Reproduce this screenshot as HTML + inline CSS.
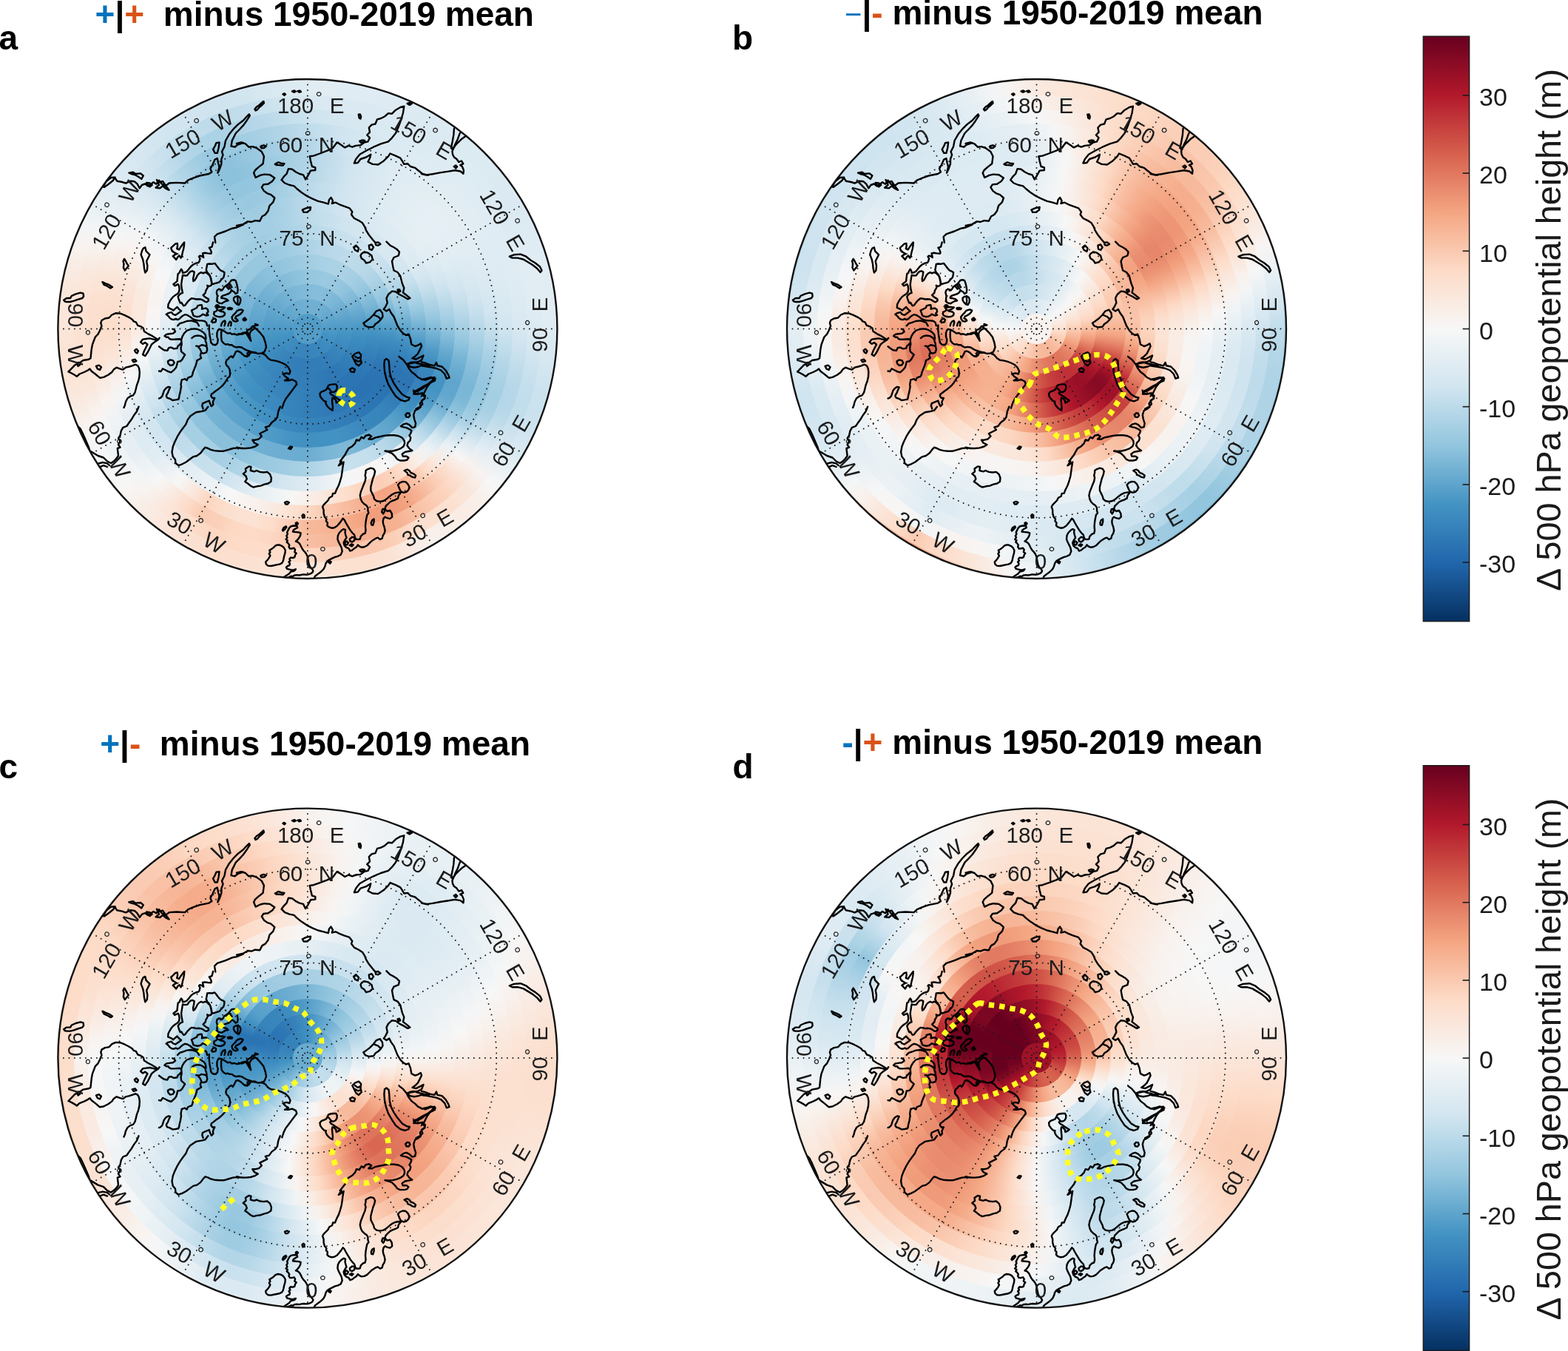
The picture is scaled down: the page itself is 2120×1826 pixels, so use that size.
<!DOCTYPE html>
<html lang="en"><head><meta charset="utf-8"><title>500 hPa geopotential height composites</title>
<style>
html,body{margin:0;padding:0;background:#fff}
#fig{position:relative;width:2120px;height:1826px;overflow:hidden;background:#fff;font-family:"Liberation Sans",sans-serif}
.map{position:absolute;width:0;height:0}
.rg{position:absolute;left:0;top:0;border-radius:50%}
#ov{position:absolute;left:0;top:0}
text{font-family:"Liberation Sans",sans-serif}
.lb{font-size:29.6px;fill:#1c1c1c}
.dg{font-size:24.6px;fill:#1c1c1c}
.gl{fill:none;stroke:#1a1a1a;stroke-width:2;stroke-linecap:round;stroke-dasharray:0 7.5}
.cst{fill:none;stroke:#000;stroke-width:2.4;stroke-linejoin:round;stroke-linecap:round}
.yl{fill:none;stroke:#ffff1f;stroke-width:7.4;stroke-dasharray:7.4 7}
.tt{font-size:46px;font-weight:bold;fill:#000}
.pn{font-size:46px;font-weight:bold;fill:#000}
.tk{font-size:34px;fill:#1a1a1a}
.cl{font-size:46.7px;fill:#1a1a1a}
</style></head><body>
<div id="fig">

<div class="map" style="left:415.9px;top:444.5px">
<div class="rg" style="width:675.0px;height:675.0px;margin:-337.5px;background:conic-gradient(#e4eef3,#e4eef4,#e3eef3,#e1edf3,#dfecf3,#ddebf2,#dceaf2,#dceaf2,#dceaf2,#dceaf2,#dbeaf2,#dbeaf2,#dbeaf2,#ddebf2,#e0ecf3,#e2edf3,#e3edf3,#e2edf3,#e0ecf3,#dae9f2,#d5e7f1,#d0e4f0,#cee3ef,#d2e6f0,#dae9f2,#e6eff4,#f3f5f6,#f8f3f1,#f8f2ef,#f7f5f4,#f7f7f7,#f8f1ed,#faebe3,#fae9de,#fae8de,#faebe2,#f9eee7,#f9ebe3,#fae8dd,#fbe5d7,#fbe2d3,#fbe2d4,#fbe5d8,#fae7db,#faebe2,#f8f0ec,#f7f5f4,#f5f6f7,#f6f7f7,#f8f3f0,#f9ede5,#fae7db,#fbe4d7,#fbe4d7,#fbe6da,#fae7db,#fae9df,#f9ede6,#f8f4f1,#f1f4f6,#e7f0f4,#e0ecf3,#dceaf2,#d8e8f1,#d6e7f1,#d5e7f1,#d6e7f1,#d5e7f1,#d5e7f1,#d7e8f1,#dbeaf2,#e0ecf3,#e4eef3)"></div>
<div class="rg" style="width:669.6px;height:669.6px;margin:-334.8px;background:conic-gradient(#e0ecf3,#e1edf3,#e0ecf3,#dfecf3,#deebf2,#ddeaf2,#dbeaf2,#dceaf2,#dceaf2,#dceaf2,#dceaf2,#dbeaf2,#dbeaf2,#ddebf2,#e0ecf3,#e1edf3,#e2edf3,#e2edf3,#dfebf3,#d9e9f1,#d3e6f0,#cce2ef,#cae1ee,#d0e4f0,#d9e9f2,#e8f0f4,#f7f7f7,#f9efe9,#f9ece5,#f9efe9,#f8f0ec,#fae9e0,#fbe3d4,#fce0d0,#fce0d0,#fbe4d6,#fae8de,#fbe6da,#fbe3d5,#fce1d1,#fcdfce,#fcdfce,#fbe2d4,#fbe5d8,#faeae1,#f8f1ec,#f7f7f6,#f3f5f6,#f4f5f6,#f8f5f3,#f9ede6,#fae7db,#fbe4d6,#fbe4d6,#fbe5d8,#fbe6d9,#fae7dc,#f9ece4,#f8f2ef,#f2f5f6,#e7f0f4,#e0ecf3,#dbeaf2,#d6e7f1,#d3e6f0,#d1e5f0,#d2e5f0,#d0e4f0,#d0e4f0,#d2e6f0,#d7e8f1,#dceaf2,#e0ecf3)"></div>
<div class="rg" style="width:631.7px;height:631.7px;margin:-315.8px;background:conic-gradient(#d8e8f1,#dae9f2,#dbeaf2,#dbeaf2,#dbeaf2,#dbeaf2,#dbeaf2,#dceaf2,#ddebf2,#ddebf2,#ddebf2,#ddeaf2,#dceaf2,#deebf2,#e0ecf3,#e1ecf3,#e1ecf3,#dfecf3,#dbeaf2,#d5e7f1,#cce2ee,#c3deec,#c0ddeb,#c7e0ed,#d6e7f1,#e8f0f4,#f8f3f1,#fae7dc,#fce1d1,#fce0d0,#fce0cf,#fcd5bf,#facab1,#fac7ad,#facab1,#fbd1ba,#fddac6,#fddcc8,#fdddca,#fddcc9,#fddac5,#fcd7c2,#fddcc9,#fce0d0,#fae9e0,#f8f3f0,#f3f5f6,#eef3f5,#eef3f5,#f6f6f7,#f9f0ea,#fae7dc,#fbe3d5,#fce2d2,#fce2d3,#fbe2d3,#fbe5d7,#fae9df,#f8f0eb,#f5f6f7,#eaf1f5,#e1edf3,#d9e9f1,#d2e5f0,#c9e1ee,#c3deec,#c1ddeb,#bedbeb,#bfdceb,#c4deec,#cbe2ee,#d3e6f0,#d8e8f1)"></div>
<div class="rg" style="width:593.5px;height:593.5px;margin:-296.7px;background:conic-gradient(#cce3ef,#d2e6f0,#d5e7f1,#d8e8f1,#d9e9f2,#dbeaf2,#dceaf2,#ddebf2,#deebf2,#dfecf3,#dfecf3,#dfecf3,#dfecf3,#dfecf3,#e0ecf3,#e0ecf3,#deebf2,#dceaf2,#d7e8f1,#cee3ef,#c1ddeb,#b7d8e9,#b4d6e8,#bbdaea,#cfe4ef,#e4eef4,#f8f2ee,#fce1d2,#fcd4be,#fac9b0,#f8bea2,#f6b292,#f5ad8c,#f6ae8e,#f7b495,#f7b99c,#f8bfa4,#fbccb4,#fcd7c3,#fddbc8,#fdd9c4,#fbd0b9,#faccb3,#fcdecc,#f9ece4,#f6f7f7,#ecf2f5,#e7eff4,#e8f0f4,#eff3f6,#f8f4f1,#faebe2,#fbe4d7,#fce0d0,#fcdecd,#fcdfce,#fce2d3,#fae7db,#f9eee7,#f7f6f5,#eef3f5,#e3edf3,#d8e8f1,#cde3ef,#bedceb,#b3d6e8,#add3e6,#abd2e5,#aed3e6,#b4d6e8,#bcdaea,#c4dfec,#cce3ef)"></div>
<div class="rg" style="width:555.0px;height:555.0px;margin:-277.5px;background:conic-gradient(#bedbeb,#c7e0ed,#d0e4f0,#d4e7f1,#d8e8f1,#dbeaf2,#ddebf2,#dfecf3,#e0ecf3,#e1edf3,#e2edf3,#e2edf3,#e1edf3,#e0ecf3,#e0ecf3,#deebf2,#dbeaf2,#d7e8f1,#d0e5f0,#c2deec,#b4d6e8,#a9d1e4,#a4cee3,#aad1e5,#bedbea,#dceaf2,#f7f6f5,#fce1d2,#fbceb6,#f7b89b,#f3a481,#ef9978,#f19e7d,#f4a683,#f6af8e,#f7b596,#f7b99b,#fbcdb6,#fdddca,#fce2d2,#fbe2d3,#fcdecc,#fcd6c0,#fae8dd,#f7f6f5,#ebf1f5,#e1edf3,#ddebf2,#dfebf2,#e7eff4,#f3f5f6,#f8f0ec,#fae8dd,#fce2d2,#fcdecb,#fcdecc,#fce1d1,#fbe6d9,#f9ece4,#f8f3f1,#f1f4f6,#e4eef4,#d8e8f1,#c8e0ed,#b5d7e8,#a5cfe3,#9ac9e0,#9ac9e0,#9fcce2,#a6cfe4,#aed3e6,#b6d7e8,#bedbeb)"></div>
<div class="rg" style="width:516.3px;height:516.3px;margin:-258.2px;background:conic-gradient(#b4d6e8,#bfdceb,#cae1ee,#d2e6f0,#d7e8f1,#dbeaf2,#deebf2,#e0ecf3,#e2edf3,#e3eef3,#e4eef3,#e4eef3,#e3edf3,#e1edf3,#dfebf2,#dbeaf2,#d7e8f1,#d1e5f0,#c5dfec,#b4d6e8,#a4cee3,#98c8e0,#92c5de,#96c7df,#a7d0e4,#cce3ef,#eaf1f5,#f9ece5,#fddcc9,#f9c1a6,#f5a987,#f4a482,#f5ac8b,#f7b697,#f9c1a6,#facbb3,#fcd8c3,#fce1d1,#fae9df,#f9efea,#f8f3f1,#f7f7f7,#edf2f5,#eaf1f5,#e2edf3,#dae9f2,#d4e6f1,#d1e5f0,#d4e6f0,#dceaf2,#e8f0f4,#f6f6f7,#f9efe9,#fbe7db,#fce1d1,#fce0d0,#fbe3d4,#fae7db,#f9ede5,#f8f3f0,#f2f5f6,#e5eef4,#d7e8f1,#c4dfec,#afd4e6,#9bcae1,#8dc2dc,#8ec2dd,#95c6df,#9dcae1,#a5cee3,#acd2e5,#b4d6e8)"></div>
<div class="rg" style="width:477.4px;height:477.4px;margin:-238.7px;background:conic-gradient(#b1d5e7,#bcdaea,#c7e0ed,#d1e5f0,#d6e7f1,#dbeaf2,#deebf2,#e1edf3,#e3eef3,#e5eef4,#e5eff4,#e5eef4,#e3eef3,#e1ecf3,#dceaf2,#d7e8f1,#d1e5f0,#c4deec,#b5d7e8,#a4cee3,#93c5de,#82bbd9,#7ab6d6,#7db8d7,#91c4de,#b0d4e7,#d5e7f1,#edf2f5,#f9efe9,#fce1d1,#fcd4be,#fbceb7,#fcd3bd,#fddcc8,#fce2d3,#fae8de,#f9efe9,#f7f6f5,#f0f4f6,#e8f0f4,#dfecf3,#d6e7f1,#cbe2ee,#c8e0ed,#c6dfed,#c2ddec,#bedbeb,#bddbea,#c3deec,#d1e5f0,#dceaf2,#e8f0f4,#f5f6f7,#f8f0ec,#faeae1,#fae8dd,#fae9de,#f9ece4,#f8f0eb,#f7f6f5,#eff3f6,#e3eef3,#d6e7f1,#c2deec,#add3e6,#9ac9e0,#8ec2dd,#8cc1dc,#91c5de,#99c8e0,#a1cce2,#a9d1e4,#b1d5e7)"></div>
<div class="rg" style="width:438.4px;height:438.4px;margin:-219.2px;background:conic-gradient(#b4d6e8,#bedbea,#c7e0ed,#d1e5f0,#d6e7f1,#dae9f2,#deebf2,#e1edf3,#e3eef3,#e5eef4,#e6eff4,#e5eef4,#e3edf3,#dfecf3,#d9e9f1,#d2e5f0,#c5dfec,#b5d7e8,#a4cee3,#91c5de,#7bb7d6,#6aacd0,#60a5cd,#61a6cd,#71b0d3,#8dc2dc,#acd2e5,#cbe2ee,#deebf2,#ecf2f5,#f6f7f7,#f8f4f3,#f7f5f4,#f5f6f7,#eff3f5,#e7eff4,#dfecf3,#d8e8f1,#d2e5f0,#c8e0ed,#bddbea,#b1d5e7,#a9d1e4,#a6cfe4,#a5cfe4,#a5cfe3,#a6cfe4,#a9d1e4,#b0d4e7,#bcdaea,#cce3ef,#d9e9f1,#e4eef3,#eef3f5,#f5f6f7,#f8f5f3,#f8f3f1,#f8f4f2,#f7f7f7,#f1f4f6,#e9f1f4,#dfecf3,#d3e6f0,#c1ddeb,#aed3e6,#9fcbe2,#95c6df,#92c5de,#95c6df,#9ac9e0,#a2cde3,#aad1e5,#b4d6e8)"></div>
<div class="rg" style="width:399.1px;height:399.1px;margin:-199.5px;background:conic-gradient(#b8d8e9,#c1ddeb,#c9e1ee,#d1e5f0,#d5e7f1,#d9e9f2,#ddebf2,#e0ecf3,#e2edf3,#e3eef3,#e4eef3,#e3eef3,#e0ecf3,#dbeaf2,#d4e6f1,#c7e0ed,#b7d8e9,#a6cfe4,#93c5de,#7bb6d6,#64a8ce,#519cc8,#4594c4,#4393c3,#4d99c6,#60a5cd,#79b5d5,#93c5de,#a5cfe3,#b3d6e7,#bedbeb,#c5dfed,#c8e0ed,#c5dfed,#bedbeb,#b4d7e8,#abd2e5,#a5cfe3,#a0cce2,#9bcae1,#96c7df,#91c5de,#8dc2dc,#8bc0db,#8bc0db,#8cc1dc,#8fc3dd,#94c6df,#9ccae1,#a6cfe4,#b4d6e8,#c3deec,#d1e5f0,#d9e9f2,#e0ecf3,#e6eff4,#eaf1f5,#ebf1f5,#eaf1f5,#e7eff4,#e1edf3,#dae9f2,#d0e4f0,#bfdceb,#b0d4e7,#a4cee3,#9ccae1,#99c9e0,#9bc9e1,#a0cce2,#a7d0e4,#afd4e6,#b8d8e9)"></div>
<div class="rg" style="width:359.7px;height:359.7px;margin:-179.8px;background:conic-gradient(#bcdaea,#c3deec,#c9e1ee,#d0e4f0,#d4e6f1,#d7e8f1,#dae9f2,#dceaf2,#deebf2,#dfecf3,#dfecf3,#deebf2,#dbeaf2,#d5e7f1,#cae1ee,#bad9e9,#a8d0e4,#96c7df,#7eb9d7,#66a9cf,#4f9ac7,#3f8ec0,#3985bc,#3681ba,#3884bb,#3d8bbf,#4494c3,#539dc8,#5ea4cc,#66a9cf,#6cadd1,#76b3d4,#7eb8d7,#7fb9d8,#7bb6d6,#73b1d3,#6badd1,#6bacd1,#6cadd1,#6eaed2,#6fafd2,#70b0d2,#71b0d3,#71b0d3,#71b0d3,#73b2d3,#77b4d5,#7db7d7,#85bdda,#91c4de,#9ccae1,#a7d0e4,#b3d6e7,#bddbea,#c7e0ed,#d1e5f0,#d6e7f1,#d9e9f2,#dbeaf2,#dae9f2,#d7e8f1,#d2e5f0,#c7e0ed,#bbdaea,#b0d4e7,#a7d0e4,#a2cde3,#a0cce2,#a1cde2,#a5cfe3,#acd2e5,#b4d6e8,#bcdaea)"></div>
<div class="rg" style="width:320.1px;height:320.1px;margin:-160.0px;background:conic-gradient(#bbdaea,#c1ddeb,#c6e0ed,#cbe2ee,#d0e5f0,#d3e6f0,#d5e7f1,#d7e8f1,#d8e8f1,#d8e8f1,#d7e8f1,#d5e7f1,#d1e5f0,#c7e0ed,#b9d9e9,#a9d1e5,#98c8e0,#83bbd9,#6cadd1,#559ec9,#4190c2,#3985bc,#327cb7,#2d76b4,#2d75b4,#3079b6,#337eb8,#3682ba,#3885bc,#3986bd,#3b88be,#3e8cc0,#4190c2,#4392c3,#4292c3,#4191c2,#4190c1,#4291c2,#4594c4,#4b98c6,#509bc7,#549ec9,#57a0ca,#5aa1cb,#5ca3cb,#5ea4cc,#62a7ce,#68aad0,#6fafd2,#79b5d5,#83bcd9,#8fc3dd,#98c8e0,#a1cde2,#a9d1e5,#b3d6e7,#bbdaea,#c1ddec,#c6dfed,#c7e0ed,#c6dfed,#c1ddeb,#bad9e9,#b2d5e7,#acd2e5,#a7d0e4,#a4cee3,#a3cee3,#a4cee3,#a8d0e4,#add3e6,#b4d6e8,#bbdaea)"></div>
<div class="rg" style="width:280.4px;height:280.4px;margin:-140.2px;background:conic-gradient(#b5d7e8,#badaea,#bfdceb,#c3deec,#c7e0ed,#cae1ee,#cce2ef,#cde3ef,#cde3ef,#cbe2ee,#c8e0ed,#c2deec,#bbdaea,#b1d5e7,#a4cee3,#96c7df,#84bcd9,#70b0d3,#5ca3cc,#4896c5,#3d8bbf,#3682ba,#307ab6,#2c75b4,#2a72b2,#2a72b2,#2b74b3,#2c75b4,#2d76b4,#2e77b5,#2f79b6,#317bb7,#337db8,#347fb9,#3581ba,#3682ba,#3783bb,#3885bc,#3a88bd,#3d8bbf,#3f8ec0,#4190c2,#4393c3,#4695c4,#4997c5,#4d99c6,#519cc8,#579fca,#5da3cc,#65a8ce,#6daed1,#76b3d4,#7fb9d8,#89bfdb,#92c5de,#99c9e0,#a0cce2,#a6cfe4,#aad1e5,#acd2e6,#add3e6,#abd2e5,#a9d1e5,#a6cfe4,#a3cee3,#a1cde2,#a0cce2,#a1cde2,#a3cee3,#a6cfe4,#abd2e5,#b0d4e7,#b5d7e8)"></div>
<div class="rg" style="width:240.5px;height:240.5px;margin:-120.3px;background:conic-gradient(#acd2e6,#b1d5e7,#b4d6e8,#b8d8e9,#bad9ea,#bcdaea,#bddbea,#bcdaea,#bad9e9,#b7d8e8,#b2d5e7,#abd2e5,#a3cee3,#9ac9e0,#8fc3dd,#80bad8,#71b0d3,#61a6cd,#519cc8,#4292c3,#3c8abe,#3783bb,#327db8,#2f78b5,#2d75b4,#2b74b3,#2b73b2,#2a72b2,#2a72b2,#2b73b3,#2c74b3,#2d76b4,#2e77b5,#2f79b6,#317bb7,#327cb7,#337eb8,#3580b9,#3682ba,#3884bc,#3a87bd,#3b89be,#3d8bbf,#3e8dc0,#408fc1,#4191c2,#4493c3,#4997c5,#4e9ac7,#549ec9,#5ba2cb,#63a7ce,#6aacd0,#72b1d3,#79b5d5,#80bad8,#86beda,#8cc1dc,#90c4dd,#93c6de,#95c6df,#96c7df,#96c7df,#97c7df,#97c8df,#98c8e0,#99c8e0,#9bc9e0,#9dcbe1,#a0cce2,#a4cee3,#a8d0e4,#acd2e6)"></div>
<div class="rg" style="width:200.6px;height:200.6px;margin:-100.3px;background:conic-gradient(#a1cce2,#a4cee3,#a7d0e4,#a9d1e5,#abd2e5,#acd2e5,#abd2e5,#aad1e5,#a6cfe4,#a2cde2,#9ccae1,#95c7df,#8dc2dc,#83bcd9,#79b5d5,#6daed2,#62a6ce,#569fc9,#4a98c6,#4191c2,#3d8bbf,#3986bd,#3682ba,#337eb8,#317bb7,#2f79b6,#2e77b5,#2c75b4,#2c74b3,#2c74b3,#2c75b4,#2d76b4,#2e77b5,#2f79b6,#317bb7,#327db8,#337eb8,#3480b9,#3581ba,#3682ba,#3783bb,#3884bc,#3986bc,#3a88bd,#3c89be,#3d8bbf,#3f8ec0,#4190c1,#4393c3,#4896c5,#4e9ac7,#539dc9,#5aa1cb,#5fa5cd,#65a9cf,#6aacd0,#6fafd2,#73b1d3,#76b3d5,#79b5d6,#7cb7d7,#7fb9d8,#82bbd9,#85bdda,#88bfdb,#8bc1dc,#8ec2dd,#91c5de,#94c6df,#97c8df,#9ac9e0,#9dcbe1,#a1cce2)"></div>
<div class="rg" style="width:160.6px;height:160.6px;margin:-80.3px;background:conic-gradient(#94c6de,#96c7df,#97c8e0,#99c8e0,#9ac9e0,#99c9e0,#98c8e0,#96c7df,#93c5de,#8ec2dd,#88beda,#81bad8,#79b5d6,#71b0d3,#69abd0,#61a6cd,#59a1cb,#519cc8,#4997c5,#4292c2,#3f8ec0,#3c8abf,#3a87bd,#3884bb,#3681ba,#347fb9,#327db8,#317bb7,#2f79b6,#2f78b5,#2e78b5,#2f78b5,#2f79b6,#307ab6,#317bb7,#327cb7,#327db8,#337eb8,#337eb8,#347fb9,#3580b9,#3581ba,#3682bb,#3884bb,#3986bc,#3a87bd,#3c8abe,#3e8cbf,#3f8ec1,#4191c2,#4493c3,#4997c5,#4d9ac7,#529dc8,#579fca,#5ba2cb,#5ea4cc,#62a7ce,#65a9cf,#68aad0,#6badd1,#6fafd2,#72b1d3,#76b3d4,#7ab6d6,#7db8d7,#81bad8,#84bcd9,#88beda,#8bc1dc,#8ec3dd,#91c4de,#94c6de)"></div>
<div class="rg" style="width:120.5px;height:120.5px;margin:-60.2px;background:conic-gradient(#83bbd9,#84bcd9,#85bdda,#85bdda,#85bdda,#84bcd9,#83bbd9,#80bad8,#7db8d7,#7ab6d6,#76b3d4,#71b0d3,#6cadd1,#67aacf,#61a6cd,#5ca3cb,#569fca,#519cc8,#4b98c6,#4695c4,#4292c2,#408fc1,#3e8cc0,#3c8abe,#3a87bd,#3985bc,#3783bb,#3682ba,#3580b9,#347fb9,#337eb8,#337db8,#327db8,#327cb7,#327cb7,#327cb7,#327cb7,#327cb7,#327db8,#337db8,#337eb8,#347fb9,#3581ba,#3782bb,#3884bb,#3986bc,#3b88bd,#3c8abf,#3e8cc0,#408fc1,#4191c2,#4393c3,#4795c4,#4b98c6,#4e9ac7,#529cc8,#559fc9,#59a1ca,#5ca3cc,#5fa5cd,#62a7ce,#66a9cf,#69abd0,#6cadd1,#6fafd2,#72b1d3,#75b3d4,#78b4d5,#7ab6d6,#7db8d7,#7fb9d8,#81bad8,#83bbd9)"></div>
<div class="rg" style="width:80.4px;height:80.4px;margin:-40.2px;background:conic-gradient(#71b0d3,#71b0d3,#72b0d3,#71b0d3,#71b0d3,#70b0d2,#6fafd2,#6eaed2,#6cadd1,#6aabd0,#67aacf,#65a8cf,#62a7ce,#5fa5cd,#5ca3cc,#59a1ca,#559fc9,#529dc8,#4f9ac7,#4c98c6,#4896c5,#4594c4,#4392c3,#4191c2,#408fc1,#3f8ec0,#3e8cc0,#3d8bbf,#3c8abe,#3b88be,#3a87bd,#3a87bd,#3986bc,#3985bc,#3885bc,#3884bb,#3884bb,#3884bb,#3884bb,#3884bc,#3885bc,#3986bc,#3a87bd,#3b88bd,#3c89be,#3d8bbf,#3e8cbf,#3f8ec0,#408fc1,#4191c2,#4392c3,#4594c4,#4796c5,#4a98c5,#4d99c6,#509bc7,#529dc8,#559ec9,#58a0ca,#5aa2cb,#5da3cc,#5fa5cd,#61a6cd,#64a8ce,#66a9cf,#68aad0,#6aabd0,#6bacd1,#6dadd1,#6eaed2,#6fafd2,#70b0d2,#71b0d3)"></div>
<div class="rg" style="width:40.2px;height:40.2px;margin:-20.1px;background:#529cc8"></div>
</div>
<div class="map" style="left:1401.5px;top:444.5px">
<div class="rg" style="width:675.0px;height:675.0px;margin:-337.5px;background:conic-gradient(#fae8de,#fbe5d7,#fbe2d3,#fce0cf,#fdddcb,#fddbc7,#fcd7c2,#fcd3bd,#fbd1ba,#fcd3bc,#fdd9c4,#fcdfce,#fbe7db,#f9efe9,#f5f6f7,#e8f0f4,#dae9f2,#cae1ee,#b8d8e9,#add3e6,#a7d0e4,#a5cfe4,#a5cfe4,#a6cfe4,#a3cee3,#9ac9e0,#8fc3dd,#85bdda,#87beda,#8ec2dc,#96c7df,#a4cee3,#b3d6e7,#c3deec,#d4e6f1,#e0ecf3,#eef3f5,#f8f4f1,#fae9e0,#fcdfcf,#fbd1ba,#f8bda1,#f5ac8b,#f9c3a9,#fddcc8,#fae8de,#f7f5f3,#eaf1f5,#dceaf2,#d3e6f0,#cce3ef,#cce3ef,#d4e7f1,#dceaf2,#ddebf2,#d6e7f1,#c8e1ee,#c3deec,#c5dfed,#c8e1ee,#cbe2ee,#cce2ee,#cbe2ee,#cbe2ee,#cce2ef,#cfe4ef,#d3e6f0,#d9e9f1,#e1edf3,#ebf1f5,#f5f6f7,#f9f0ea,#fae8de)"></div>
<div class="rg" style="width:669.6px;height:669.6px;margin:-334.8px;background:conic-gradient(#faeae1,#fbe7db,#fbe4d6,#fce1d1,#fcdecb,#fddac6,#fcd5bf,#fbd0b9,#fbcdb5,#fbcdb6,#fcd3bc,#fddcc8,#fbe3d5,#faebe3,#f8f4f3,#edf2f5,#deebf2,#d1e5f0,#c0dceb,#b5d7e8,#b0d4e6,#aed3e6,#afd4e6,#b0d4e6,#add3e6,#a5cee3,#9ac9e0,#92c5de,#93c6de,#9ac9e0,#a0cce2,#acd2e5,#b8d8e9,#c5dfed,#d3e6f0,#deebf2,#eaf1f5,#f6f6f7,#f9efea,#fae7dc,#fce0d0,#fdd9c5,#facbb3,#fdddca,#fbe5d8,#f9efe9,#f4f6f7,#e7eff4,#dbeaf2,#d4e7f1,#d0e5f0,#d1e5f0,#d9e9f1,#e1edf3,#e4eef3,#dbeaf2,#d0e5f0,#cce2ee,#cde3ef,#d0e4f0,#d1e5f0,#d1e5f0,#cfe4f0,#cee4ef,#cee4ef,#d0e5f0,#d3e6f0,#d9e9f1,#e0ecf3,#e9f0f4,#f3f5f6,#f8f2ee,#faeae1)"></div>
<div class="rg" style="width:631.7px;height:631.7px;margin:-315.8px;background:conic-gradient(#f8f0ec,#f9ece4,#fae8dd,#fbe3d5,#fcdecd,#fdd9c4,#fbd1ba,#facab1,#f9c4aa,#f9c3a9,#fac7ad,#fbcfb8,#fddbc8,#fbe3d5,#f9ede6,#f6f7f7,#e8f0f4,#dbeaf2,#cfe4ef,#c4deec,#bfdceb,#bedbeb,#c0dceb,#c2ddec,#c1ddeb,#b9d9e9,#afd4e6,#a8d0e4,#a9d1e5,#b1d5e7,#bcdaea,#bddbea,#c1ddec,#c9e1ee,#d3e6f0,#dbeaf2,#e3eef3,#ecf2f5,#f4f6f6,#f8f5f3,#f8f2ef,#f7f5f3,#f0f3f6,#f7f6f6,#f7f5f4,#f5f6f7,#edf2f5,#e4eef3,#ddeaf2,#d9e9f1,#d8e9f1,#dceaf2,#e4eef4,#edf2f5,#eff3f6,#e7f0f4,#deebf2,#d9e9f2,#d9e9f1,#d9e9f1,#d8e8f1,#d7e8f1,#d5e7f1,#d3e6f0,#d3e6f0,#d3e6f0,#d5e7f1,#d9e9f1,#dfecf3,#e6eff4,#eef3f5,#f7f7f7,#f8f0ec)"></div>
<div class="rg" style="width:593.5px;height:593.5px;margin:-296.7px;background:conic-gradient(#f5f6f7,#f8f3f0,#f9ede5,#fbe6da,#fcdfce,#fcd7c2,#fbccb4,#f9c3a8,#f8bc9f,#f7b99b,#f8ba9d,#f9c1a5,#faccb4,#fddbc7,#fbe5d8,#f9f0eb,#f2f5f6,#e4eef4,#dae9f2,#d3e6f0,#cfe4ef,#cee4ef,#d1e5f0,#d3e6f0,#d3e6f0,#cfe4ef,#c7e0ed,#c0ddeb,#bfdceb,#c4deec,#cce3ef,#cae2ee,#cbe2ee,#cfe4f0,#d4e6f1,#d9e9f1,#deebf2,#e4eef3,#e9f0f4,#ecf2f5,#ebf1f5,#e5eef4,#dfecf3,#e5eef4,#ebf1f5,#ebf1f5,#e9f0f4,#e5eef4,#e2edf3,#e2edf3,#e4eef4,#eaf1f5,#f2f5f6,#f7f5f4,#f8f4f2,#f5f6f7,#edf2f5,#e7f0f4,#e4eef4,#e2edf3,#dfecf3,#dceaf2,#d9e9f2,#d7e8f1,#d6e7f1,#d6e7f1,#d7e8f1,#dae9f2,#ddebf2,#e2edf3,#e7f0f4,#eef3f5,#f5f6f7)"></div>
<div class="rg" style="width:555.0px;height:555.0px;margin:-277.5px;background:conic-gradient(#eaf1f5,#f4f5f6,#f8f1ed,#fae9de,#fce0d0,#fcd6c1,#fac8af,#f8bda0,#f6b495,#f6af8e,#f5ae8d,#f6b293,#f8bc9f,#facbb3,#fdddca,#fae8dd,#f8f3f1,#eef3f5,#e3eef3,#ddeaf2,#dae9f2,#dae9f2,#dceaf2,#deebf2,#dfecf3,#deebf2,#dae9f2,#d6e8f1,#d4e6f0,#d2e5f0,#d1e5f0,#d2e6f0,#d4e6f0,#d5e7f1,#d7e8f1,#dae9f2,#dceaf2,#dfecf3,#e2edf3,#e3eef3,#e2edf3,#dfebf3,#ddebf2,#e1ecf3,#e6eff4,#e9f0f4,#eaf1f5,#e9f1f5,#eaf1f5,#eef3f5,#f4f5f6,#f8f4f2,#f9efe9,#faebe2,#faeae1,#f9ede6,#f8f3f0,#f6f6f7,#f0f4f6,#ebf1f5,#e6eff4,#e2edf3,#deebf2,#dbeaf2,#d9e9f1,#d9e9f1,#d9e9f1,#dae9f2,#dceaf2,#dfecf3,#e2edf3,#e5eef4,#eaf1f5)"></div>
<div class="rg" style="width:516.3px;height:516.3px;margin:-258.2px;background:conic-gradient(#e3edf3,#edf2f5,#f8f5f3,#faebe2,#fce2d2,#fcd6c1,#f9c6ac,#f7b89a,#f5ad8c,#f4a583,#f2a17f,#f3a481,#f5ac8b,#f8bb9f,#fbcfb8,#fce1d0,#f9ece4,#f7f6f6,#edf2f5,#e6eff4,#e4eef3,#e4eef3,#e7eff4,#eaf1f5,#edf2f5,#edf2f5,#ebf1f5,#e8f0f4,#e4eef3,#deebf2,#d9e9f1,#dbeaf2,#ddebf2,#deebf2,#deebf2,#deebf2,#deebf2,#dfecf3,#e0ecf3,#e1ecf3,#e1ecf3,#e1edf3,#e3edf3,#e5eef4,#e8f0f4,#edf2f5,#f0f4f6,#f3f5f6,#f7f7f7,#f8f2ee,#f9ece4,#fbe7db,#fce2d3,#fcdfce,#fcdfcd,#fce2d3,#fae7dc,#f9ede6,#f8f3f1,#f4f6f6,#edf2f5,#e6eff4,#e1edf3,#deebf2,#dceaf2,#dbeaf2,#dbeaf2,#dceaf2,#dceaf2,#ddebf2,#deebf2,#dfecf3,#e3edf3)"></div>
<div class="rg" style="width:477.4px;height:477.4px;margin:-238.7px;background:conic-gradient(#e3edf3,#ecf2f5,#f7f6f6,#f9ede5,#fbe3d4,#fcd8c3,#fac6ac,#f7b698,#f5a987,#f19d7c,#ed9576,#ed9575,#f19d7c,#f5ad8c,#f9c1a6,#fdd8c3,#fbe5d9,#f9f0eb,#f6f7f7,#f0f4f6,#eef3f5,#eff3f6,#f2f5f6,#f7f7f7,#f8f4f2,#f8f2ef,#f8f2ee,#f8f3f0,#f7f6f5,#f3f5f6,#eef3f5,#edf2f5,#edf2f5,#ecf2f5,#e9f1f4,#e7eff4,#e5eef4,#e4eef3,#e4eef3,#e4eef4,#e5eff4,#e7eff4,#eaf1f5,#edf2f5,#f1f4f6,#f6f6f7,#f8f4f2,#f9efea,#faeae1,#fbe4d6,#fcddcb,#fcd5c0,#fbceb7,#facbb3,#fbccb4,#fcd3bc,#fddcc9,#fbe4d6,#f9ece4,#f8f4f1,#f2f5f6,#eaf1f5,#e4eef3,#e0ecf3,#deebf2,#ddebf2,#ddebf2,#ddebf2,#ddebf2,#ddebf2,#ddebf2,#deebf2,#e3edf3)"></div>
<div class="rg" style="width:438.4px;height:438.4px;margin:-219.2px;background:conic-gradient(#e6eff4,#eef3f5,#f7f6f6,#f9eee7,#fbe4d7,#fddbc7,#fac9b0,#f7b89b,#f5a987,#ef9979,#ea8e70,#e8896d,#ea8f71,#f2a07e,#f7b597,#fbcdb5,#fce0cf,#faeae0,#f8f1ed,#f7f5f3,#f7f5f4,#f8f4f1,#f8f0eb,#f9ece4,#fae8dd,#fbe4d6,#fce1d1,#fce0d0,#fce2d2,#fbe5d7,#fae8dd,#faebe2,#f9eee7,#f8f1ed,#f7f5f4,#f5f6f7,#f0f4f6,#eef3f5,#edf2f5,#edf2f5,#eef3f5,#f0f4f6,#f3f5f6,#f7f7f7,#f8f3f1,#f9efe9,#fae9df,#fbe3d4,#fddcc8,#fbceb7,#f9c1a6,#f7b89a,#f6b495,#f7b495,#f7b79a,#f8bea2,#facab1,#fddbc6,#fbe5d8,#f9efea,#f5f6f7,#ebf1f5,#e5eef4,#e1ecf3,#dfecf3,#deebf2,#deebf2,#deebf2,#deebf2,#deebf2,#deebf2,#e1ecf3,#e6eff4)"></div>
<div class="rg" style="width:399.1px;height:399.1px;margin:-199.5px;background:conic-gradient(#e8f0f4,#eff3f6,#f7f6f6,#f9efea,#fae7dc,#fcdecd,#fbd0b9,#f8bea2,#f5ad8d,#f09d7c,#ea8e70,#e6856a,#e7886b,#ee9777,#f5ae8d,#f9c4aa,#fddac6,#fbe4d7,#faebe2,#f9ede6,#f9ece3,#fae8de,#fbe4d6,#fcdfcd,#fcd7c1,#facab2,#f8c0a4,#f8bb9e,#f8bb9e,#f8bfa3,#f9c5ab,#fbceb6,#fdd8c4,#fcdfcf,#fbe6d9,#faebe3,#f9f0eb,#f8f3f0,#f8f4f3,#f7f5f3,#f8f4f3,#f8f3f1,#f8f1ed,#f9eee7,#fae9df,#fbe4d6,#fcddcb,#fbd1bb,#f9c2a7,#f6b292,#f3a481,#ef9979,#ee9878,#f19e7d,#f4a583,#f5ab8a,#f7b89a,#fbccb4,#fce0d0,#f9ede6,#f5f6f7,#eaf1f5,#e4eef3,#e0ecf3,#dfebf2,#deebf2,#dfebf3,#deebf2,#deebf2,#deebf2,#e0ecf3,#e3eef3,#e8f0f4)"></div>
<div class="rg" style="width:359.7px;height:359.7px;margin:-179.8px;background:conic-gradient(#e9f0f4,#eff3f5,#f5f6f7,#f8f2ef,#faebe2,#fbe3d5,#fddac6,#fac9b0,#f7b89a,#f5a886,#ee9878,#e98c6f,#e88a6e,#ee9777,#f5ab8a,#f8bfa3,#fcd2bc,#fcdfcd,#fbe4d6,#fbe3d5,#fcdfce,#fcd8c3,#facbb3,#f8bfa3,#f6b192,#f19d7c,#e98b6e,#e58468,#e68569,#e88a6d,#ec9274,#f2a17f,#f6af8f,#f8bda1,#faccb3,#fddac6,#fce1d1,#fbe5d8,#fae7db,#fae8de,#fae9de,#fae8dd,#fbe6da,#fbe3d5,#fcdfcd,#fcd7c2,#facab1,#f8bb9f,#f5ab8a,#ee9677,#e68469,#e17a61,#e27c62,#e88a6e,#ee9777,#ed9676,#f5a987,#f9c3a9,#fcdecc,#f9ede6,#f3f5f6,#e8f0f4,#e1ecf3,#ddebf2,#dceaf2,#dceaf2,#ddebf2,#dceaf2,#dceaf2,#dceaf2,#dfecf3,#e3eef3,#e9f0f4)"></div>
<div class="rg" style="width:320.1px;height:320.1px;margin:-160.0px;background:conic-gradient(#e3eef3,#e9f0f4,#eff3f6,#f6f7f7,#f8f1ed,#faeae1,#fbe2d4,#fdd9c5,#fac9b0,#f8ba9d,#f5ad8c,#f3a381,#f29f7e,#f4a683,#f6b191,#f8bea1,#facab1,#fcd3bd,#fcd6c0,#fbd0b9,#f9c4a9,#f6b394,#f2a07e,#e7876b,#dc6d57,#cf5347,#c7423f,#c7423f,#cc4c44,#d25849,#d7634f,#dd6f59,#e37f64,#eb9072,#f3a381,#f6b393,#f9c0a5,#facab2,#fbd2bb,#fcd7c2,#fddac6,#fddbc7,#fddac5,#fcd5bf,#fbcdb6,#f9c4a9,#f7b89a,#f5ab89,#ef9979,#e7866a,#e0775e,#dc6e57,#dc6e58,#e27c63,#e8886c,#eb9173,#f5aa89,#fac7ad,#fce0d0,#f9efe9,#f1f4f6,#e5eef4,#ddebf2,#d8e8f1,#d6e7f1,#d5e7f1,#d5e7f1,#d5e7f1,#d5e7f1,#d6e8f1,#dae9f2,#deebf2,#e3eef3)"></div>
<div class="rg" style="width:280.4px;height:280.4px;margin:-140.2px;background:conic-gradient(#dae9f2,#e0ecf3,#e6eff4,#ecf2f5,#f4f6f6,#f8f3f0,#f9ece5,#fbe5d8,#fcdecc,#fcd3bd,#fac7ae,#f8bfa3,#f7ba9d,#f7b99c,#f8bca0,#f9c0a5,#f9c3a9,#f9c4a9,#f8bfa3,#f7b495,#f3a481,#e8896d,#db6b55,#cb4942,#ba2732,#a61429,#9d1128,#a41329,#b31a2c,#bc2c34,#c1373a,#c6413e,#cd4e44,#d55d4c,#dc6f58,#e48166,#ec9374,#f3a381,#f6af8e,#f7b89a,#f8bea2,#f9c2a7,#f9c3a9,#f9c1a6,#f8bda0,#f7b597,#f5ac8b,#f3a27f,#ed9575,#e8896c,#e48066,#e37d63,#e48166,#e98c6f,#ef9b7a,#f5ac8b,#f9c0a5,#fdd9c4,#fae7dc,#f8f4f2,#ecf2f5,#e0ecf3,#d7e8f1,#d1e5f0,#cbe2ee,#c8e0ed,#c6dfed,#c5dfed,#c7e0ed,#cae1ee,#d0e4f0,#d5e7f1,#dae9f2)"></div>
<div class="rg" style="width:240.5px;height:240.5px;margin:-120.3px;background:conic-gradient(#d0e4f0,#d6e7f1,#dbeaf2,#e1edf3,#e7f0f4,#eef3f5,#f6f7f7,#f8f2ee,#faebe3,#fbe5d8,#fcdfce,#fddac6,#fcd3bd,#fbceb6,#facbb2,#fac7ae,#f9c3a8,#f8bca0,#f6b292,#f3a380,#e88a6e,#dc6e58,#cd4e45,#bd2d35,#a81529,#910e26,#870a24,#880b24,#8f0d25,#981027,#a31329,#b0172b,#b82330,#bf3237,#c7423f,#d05448,#d96753,#e17a61,#e98b6e,#f09b7a,#f4a784,#f6ae8e,#f6b393,#f6b495,#f6b293,#f6af8e,#f5a988,#f3a481,#f19e7c,#ef9a79,#ef9979,#f09d7c,#f4a582,#f6af8f,#f8bca0,#fbccb4,#fdddcb,#fae8dd,#f8f3f0,#eef3f5,#e2edf3,#d8e8f1,#cfe4ef,#c5dfed,#bedbeb,#b9d9e9,#b5d7e8,#b4d6e8,#b5d7e8,#b9d9e9,#c0dceb,#c7e0ed,#d0e4f0)"></div>
<div class="rg" style="width:200.6px;height:200.6px;margin:-100.3px;background:conic-gradient(#c6dfed,#cde3ef,#d3e6f0,#d7e8f1,#dceaf2,#e1edf3,#e8f0f4,#eff3f5,#f7f7f7,#f8f1ee,#f9ece4,#fae7db,#fbe2d3,#fcdecc,#fdd9c5,#fcd2bc,#facab1,#f8c0a4,#f6b394,#f3a280,#e88a6d,#dd7059,#d05548,#c33a3b,#b72330,#ab162a,#9f1228,#9a1027,#981027,#9b1127,#a21328,#aa152a,#b31a2c,#b82431,#be3137,#c6403e,#ce5146,#d86450,#e0765e,#e7886c,#ee9878,#f4a582,#f5ac8b,#f6b090,#f6b191,#f6b191,#f6af8f,#f6ae8e,#f6ae8e,#f6b191,#f7b597,#f8bca0,#f9c6ac,#fbd1bb,#fdddca,#fbe5d8,#f9ede6,#f7f6f5,#ecf2f5,#e1ecf3,#d7e8f1,#cee4ef,#c5dfec,#bedbea,#b8d8e9,#b4d6e8,#b0d4e7,#acd2e5,#add3e6,#b1d5e7,#b7d8e9,#bfdceb,#c6dfed)"></div>
<div class="rg" style="width:160.6px;height:160.6px;margin:-80.3px;background:conic-gradient(#c5dfec,#cae1ee,#cfe4ef,#d3e6f0,#d7e8f1,#dbeaf2,#e0ecf3,#e6eff4,#edf2f5,#f3f5f6,#f8f5f3,#f9f0ea,#faebe2,#fbe6da,#fce1d2,#fdddca,#fcd4be,#fac9b0,#f8bda0,#f6af8e,#f19e7c,#e88a6d,#df765e,#d76350,#cf5347,#c94540,#c43b3c,#c03539,#bf3237,#bf3137,#bf3338,#c13639,#c33b3b,#c7413e,#cb4a42,#d05447,#d6604d,#dc6e58,#e27d63,#e98b6e,#ef9979,#f4a683,#f5ae8d,#f6b394,#f7b89a,#f8bb9e,#f8bea2,#f9c1a5,#f9c5ab,#facab2,#fbd2bb,#fddac6,#fce0cf,#fbe5d9,#f9ece3,#f8f2ee,#f5f6f7,#ecf2f5,#e3edf3,#dbeaf2,#d4e6f0,#cce3ef,#c5dfed,#c0ddeb,#bddbea,#bad9ea,#b8d8e9,#b7d8e9,#b7d8e9,#b8d8e9,#bbdaea,#c0dceb,#c5dfec)"></div>
<div class="rg" style="width:120.5px;height:120.5px;margin:-60.2px;background:conic-gradient(#cde3ef,#d1e5f0,#d3e6f0,#d6e7f1,#d9e9f2,#ddebf2,#e1edf3,#e6eff4,#ebf1f5,#f0f4f6,#f5f6f7,#f8f4f2,#f8f0eb,#f9ece4,#fae7dc,#fbe3d4,#fcdecc,#fcd7c2,#fbcdb6,#f9c3a9,#f7b99c,#f6af8f,#f4a582,#ef9a79,#eb8f71,#e7866b,#e47f65,#e17a61,#df765e,#df745c,#de735c,#df745c,#e0765e,#e17a61,#e37f65,#e68569,#e98c6f,#ed9475,#f19d7c,#f4a683,#f5ad8d,#f7b495,#f8bb9e,#f9c1a6,#fac7ad,#fbcdb5,#fcd2bc,#fcd8c3,#fddcca,#fce0cf,#fbe3d5,#fae7dc,#f9ebe3,#f9f0eb,#f8f4f2,#f5f6f7,#eef3f5,#e8f0f4,#e3edf3,#deebf2,#d9e9f1,#d5e7f1,#d2e5f0,#cee3ef,#cae2ee,#c8e0ed,#c6e0ed,#c5dfed,#c5dfed,#c6e0ed,#c8e0ed,#cae2ee,#cde3ef)"></div>
<div class="rg" style="width:80.4px;height:80.4px;margin:-40.2px;background:conic-gradient(#dbeaf2,#dceaf2,#deebf2,#e0ecf3,#e2edf3,#e5eef4,#e8f0f4,#ebf1f5,#eef3f5,#f1f4f6,#f5f6f7,#f7f6f5,#f8f3f0,#f8f0eb,#f9ede6,#faeae1,#fae7db,#fbe4d6,#fce1d1,#fcdecb,#fddac6,#fcd5bf,#fbcfb8,#facab2,#fac6ac,#f9c2a7,#f8bfa3,#f8bca0,#f8ba9d,#f7b99b,#f7b89a,#f7b89a,#f7b89b,#f7b99c,#f8bb9e,#f8bda1,#f8c0a4,#f9c3a8,#fac6ad,#facab2,#fbceb7,#fcd2bc,#fcd7c2,#fddbc7,#fcdecb,#fce0d0,#fbe2d4,#fbe5d8,#fae8dd,#faeae1,#f9ede6,#f9f0ea,#f8f2ef,#f7f5f4,#f6f7f7,#f2f5f6,#eff3f6,#ebf2f5,#e8f0f4,#e5eff4,#e3edf3,#e0ecf3,#deebf2,#dceaf2,#dbeaf2,#dae9f2,#d9e9f1,#d9e9f1,#d8e9f1,#d9e9f1,#d9e9f1,#dae9f2,#dbeaf2)"></div>
<div class="rg" style="width:40.2px;height:40.2px;margin:-20.1px;background:#f8f2ef"></div>
</div>
<div class="map" style="left:415.9px;top:1430.1px">
<div class="rg" style="width:675.0px;height:675.0px;margin:-337.5px;background:conic-gradient(#f8f3ef,#f7f6f6,#f3f5f6,#f0f3f6,#ecf2f5,#ebf1f5,#e9f1f5,#e9f0f4,#e9f0f4,#ebf1f5,#eff3f5,#f4f6f6,#f7f5f3,#f8f1ec,#f9ede5,#fae8de,#fbe4d6,#fce0d0,#fcdecc,#fcdecc,#fce0cf,#fce2d3,#fbe4d7,#fbe6da,#fae7dc,#fae7dc,#fbe7db,#fbe6da,#fbe5d8,#fbe5d8,#fbe6d9,#fae7db,#fae9df,#faebe3,#f9eee8,#f8f2ee,#f7f6f6,#eff3f6,#e7eff4,#e2edf3,#e2edf3,#e7f0f4,#f0f4f6,#f7f7f6,#f8f1ed,#faebe2,#fbe5d8,#fcdfce,#fcd5c0,#fcd5bf,#fcd3bd,#fbd2bb,#fbd2bb,#fbd1ba,#fbcdb5,#fcd3bd,#fcd6c0,#fcd7c2,#fdd8c4,#fddac6,#fddac6,#fcd6c0,#fbd1ba,#fbceb7,#fbd0b9,#fcd6c0,#fddcc9,#fcdecd,#fce1d1,#fbe4d6,#fae8de,#f9ede7,#f8f3ef)"></div>
<div class="rg" style="width:669.6px;height:669.6px;margin:-334.8px;background:conic-gradient(#f8f1ec,#f7f5f3,#f5f6f7,#f0f4f6,#edf2f5,#eaf1f5,#e9f0f4,#e7f0f4,#e7f0f4,#e9f1f4,#edf2f5,#f2f5f6,#f7f6f5,#f8f2ef,#f9eee7,#fae9e0,#fbe5d8,#fce1d1,#fcdecd,#fcdecd,#fce0cf,#fce2d3,#fbe4d6,#fbe6d9,#fbe7db,#fbe6db,#fbe6d9,#fbe5d8,#fbe4d7,#fbe4d7,#fbe5d8,#fbe7db,#fae9df,#f9ece4,#f9f0eb,#f8f4f2,#f4f6f7,#eaf1f5,#e1ecf3,#dbeaf2,#dae9f2,#dfecf3,#e8f0f4,#eff3f6,#f7f7f7,#f8f2ee,#f9ede5,#fae8de,#fbe2d4,#fce1d1,#fcdfcd,#fcdecc,#fcdecc,#fcdfcd,#fdddca,#fcdfcd,#fcddcb,#fddcc9,#fddcc8,#fddcc8,#fddbc7,#fcd5bf,#fbceb7,#facab2,#facbb2,#fbd0b9,#fcd8c3,#fddbc8,#fcdecc,#fce1d2,#fbe6da,#faebe3,#f8f1ec)"></div>
<div class="rg" style="width:631.7px;height:631.7px;margin:-315.8px;background:conic-gradient(#f9ede5,#f8f2ee,#f7f6f6,#f2f4f6,#ecf2f5,#e8f0f4,#e6eff4,#e4eef3,#e4eef3,#e6eff4,#e9f1f4,#eef3f5,#f4f5f6,#f7f5f4,#f8f1ec,#f9ece4,#fae7dc,#fbe3d4,#fce0cf,#fcdfce,#fce0cf,#fce2d2,#fbe3d5,#fbe5d8,#fbe5d9,#fbe5d8,#fbe3d5,#fce2d3,#fce1d2,#fce2d2,#fbe3d5,#fbe5d9,#fae9de,#f9ede6,#f8f2ef,#f6f6f7,#ecf2f5,#e0ecf3,#d6e7f1,#cce3ef,#c9e1ee,#cfe4ef,#d8e8f1,#e0ecf3,#e7f0f4,#eef3f5,#f3f5f6,#f5f6f7,#f4f6f7,#f8f1ed,#f9ece5,#faeae1,#faebe2,#f9eee8,#f8f2ef,#f9ece4,#fbe6da,#fce2d3,#fcdfce,#fdddca,#fddac5,#fbd1ba,#fac9af,#f9c3a8,#f9c0a5,#f9c3a9,#facab1,#fbcfb8,#fcd5c0,#fddcc9,#fce1d2,#fae7db,#f9ede5)"></div>
<div class="rg" style="width:593.5px;height:593.5px;margin:-296.7px;background:conic-gradient(#fae8de,#f9eee8,#f8f4f2,#f3f5f6,#ecf2f5,#e6eff4,#e2edf3,#e0ecf3,#e0ecf3,#e2edf3,#e5eff4,#e9f1f4,#eef3f5,#f4f6f7,#f8f4f2,#f9efe9,#faeae0,#fbe5d8,#fce2d3,#fce0d0,#fce0d0,#fce1d1,#fbe2d3,#fbe3d5,#fbe3d5,#fce2d3,#fce0cf,#fcdecc,#fcddcb,#fcdecc,#fce0d0,#fbe3d5,#fae7dc,#f9ede5,#f8f4f1,#f0f4f6,#e4eef4,#d7e8f1,#c8e0ed,#b9d9e9,#b2d5e7,#b5d7e8,#c2ddec,#d0e5f0,#d9e9f1,#e0ecf3,#e6eff4,#e8f0f4,#eaf1f5,#f1f4f6,#f7f7f7,#f7f5f3,#f7f5f4,#f7f7f7,#f6f6f7,#f8f3f0,#f9ece4,#fbe6da,#fce1d2,#fdddca,#fcd6c1,#fbccb4,#f9c3a8,#f8bb9e,#f7b698,#f7b597,#f8ba9d,#f9c2a7,#facbb2,#fcd4be,#fdddca,#fbe2d3,#fae8de)"></div>
<div class="rg" style="width:555.0px;height:555.0px;margin:-277.5px;background:conic-gradient(#fbe5d7,#f9ebe3,#f8f3ef,#f4f5f6,#ebf1f5,#e3eef3,#deebf2,#dceaf2,#ddebf2,#dfecf3,#e2edf3,#e5eef4,#e9f1f4,#eff3f6,#f6f7f7,#f8f2ef,#f9ede5,#fae8dd,#fbe4d6,#fce1d2,#fce0d0,#fce0d0,#fce0d0,#fce1d1,#fce0d0,#fcdecc,#fddac6,#fcd6c1,#fcd5bf,#fcd7c2,#fddcc8,#fcdfce,#fbe4d7,#faebe2,#f8f4f1,#edf2f5,#deebf2,#d1e5f0,#bcdbea,#abd1e5,#9fcce2,#a0cce2,#acd2e5,#bbdaea,#cbe2ee,#d5e7f1,#dceaf2,#e1edf3,#e6eff4,#eaf1f5,#edf2f5,#eff3f6,#f0f4f6,#f1f4f6,#f4f6f6,#f7f5f4,#f9f0eb,#faeae0,#fbe3d5,#fdddcb,#fcd3bd,#fac8af,#f8bea2,#f7b597,#f6af8e,#f5ab89,#f6ae8e,#f7b89b,#f9c3a8,#fbcdb5,#fcd7c2,#fcdfcd,#fbe5d7)"></div>
<div class="rg" style="width:516.3px;height:516.3px;margin:-258.2px;background:conic-gradient(#fbe3d4,#faeae1,#f8f2ee,#f4f6f6,#eaf1f5,#e2edf3,#dbeaf2,#dae9f2,#dbeaf2,#ddebf2,#dfecf3,#e2edf3,#e5eff4,#ebf1f5,#f2f5f6,#f7f5f4,#f8f0eb,#faebe2,#fbe6da,#fbe3d4,#fce0d0,#fcdecd,#fdddca,#fddcc9,#fddbc7,#fcd4be,#fbccb4,#fac8ae,#fac7ad,#facab1,#fbd0b9,#fcd8c3,#fcdfce,#fae7dc,#f8f1ed,#eff3f5,#deebf2,#cfe4ef,#b9d9e9,#a5cfe4,#96c7df,#94c6df,#9fcce2,#aed3e6,#bddbea,#cbe2ee,#d5e7f1,#dceaf2,#e3edf3,#e4eef4,#e5eff4,#e7eff4,#e9f0f4,#ecf2f5,#f2f5f6,#f6f7f7,#f8f3f0,#f9ede6,#fbe6da,#fcdfcd,#fcd4be,#fac8af,#f8bea2,#f7b596,#f5ae8d,#f5a988,#f5ac8c,#f7b597,#f8c0a4,#facab1,#fcd4be,#fdddca,#fbe3d4)"></div>
<div class="rg" style="width:477.4px;height:477.4px;margin:-238.7px;background:conic-gradient(#fbe4d6,#faebe2,#f8f2ef,#f3f5f6,#eaf1f5,#e2edf3,#dceaf2,#dae9f2,#dae9f2,#dceaf2,#deebf2,#e1ecf3,#e4eef4,#e9f0f4,#eff3f6,#f5f6f7,#f8f3f1,#f9eee8,#fae9df,#fbe4d7,#fce0cf,#fddcc8,#fcd5c0,#fbcfb8,#fac9b0,#f9c1a6,#f8ba9d,#f7b697,#f7b596,#f7b89a,#f8bfa3,#fac8af,#fcd5bf,#fce1d1,#faebe3,#f6f7f7,#e5eff4,#d6e7f1,#c1ddec,#acd2e5,#9ccae1,#97c8e0,#9dcbe1,#a8d0e4,#b4d6e8,#c1ddeb,#cee3ef,#d6e7f1,#dbeaf2,#dceaf2,#ddebf2,#deebf2,#e0ecf3,#e4eef4,#e9f1f4,#eff3f5,#f5f6f7,#f8f2ef,#faebe2,#fbe3d4,#fddbc7,#fbceb7,#f9c4a9,#f8bb9e,#f7b596,#f6b293,#f7b495,#f8bb9e,#f9c4a9,#fbcdb5,#fcd7c1,#fcdecc,#fbe4d6)"></div>
<div class="rg" style="width:438.4px;height:438.4px;margin:-219.2px;background:conic-gradient(#fae7dc,#f9eee7,#f8f4f2,#f2f5f6,#eaf1f5,#e3edf3,#deebf2,#dceaf2,#dbeaf2,#dceaf2,#deebf2,#e1edf3,#e4eef4,#e8f0f4,#edf2f5,#f2f4f6,#f7f7f7,#f8f2ee,#f9ece5,#fbe6da,#fcdfce,#fcd6c1,#facab1,#f8bea2,#f7b496,#f5ac8b,#f4a582,#f2a07f,#f2a07e,#f3a381,#f5ab89,#f7b597,#f9c3a9,#fcd5c0,#fbe3d4,#f9efe9,#f1f4f6,#e1edf3,#d2e6f0,#bddbea,#add3e6,#a5cee3,#a4cee3,#a9d1e5,#b1d5e7,#bad9ea,#c3deec,#cbe2ee,#d1e5f0,#d2e5f0,#d2e5f0,#d2e6f0,#d4e6f1,#d8e8f1,#dceaf2,#e2edf3,#e9f1f4,#f3f5f6,#f8f2ef,#faeae0,#fce2d2,#fddbc7,#fbd1ba,#fac9b0,#f9c4aa,#f9c2a7,#f9c3a9,#fac8af,#fbcfb8,#fcd7c2,#fdddcb,#fbe2d3,#fae7dc)"></div>
<div class="rg" style="width:399.1px;height:399.1px;margin:-199.5px;background:conic-gradient(#f9eee7,#f8f3f0,#f5f6f7,#eef3f5,#e7f0f4,#e2edf3,#dfebf2,#dceaf2,#dceaf2,#ddebf2,#dfecf3,#e2edf3,#e4eef4,#e7f0f4,#ebf1f5,#eef3f5,#f3f5f6,#f7f5f4,#f9efea,#fae8dd,#fcdfce,#fbd0b9,#f8bea3,#f6ae8e,#f29f7e,#ec9375,#e98c6f,#e7886b,#e7866a,#e8896d,#ec9274,#f2a17f,#f6b192,#f9c3a9,#fcd8c3,#fbe5d8,#f8f1ec,#eff3f6,#e0ecf3,#d2e6f0,#c2ddec,#b6d7e8,#b0d4e7,#afd4e6,#b1d5e7,#b5d7e8,#bad9e9,#bedbea,#bfdceb,#bfdceb,#bddbea,#bcdaea,#bddbea,#c1ddec,#c8e1ed,#d1e5f0,#d9e9f1,#e2edf3,#eef3f5,#f7f5f3,#f9ece5,#fbe6d9,#fce1d1,#fcdecb,#fddbc7,#fdd9c5,#fddac5,#fddcc9,#fcdfcd,#fce2d3,#fbe5d9,#fae9df,#f9eee7)"></div>
<div class="rg" style="width:359.7px;height:359.7px;margin:-179.8px;background:conic-gradient(#f7f7f7,#f2f4f6,#ecf2f5,#e7eff4,#e2edf3,#dfecf3,#ddebf2,#dbeaf2,#dbeaf2,#dceaf2,#deebf2,#e1ecf3,#e4eef3,#e6eff4,#e8f0f4,#ebf1f5,#eff3f6,#f5f6f7,#f8f3ef,#faeae0,#fcdfce,#fbcdb5,#f7b799,#f3a280,#e98d6f,#e48166,#e17a61,#df755d,#de725b,#de735c,#e27d63,#e98d6f,#f2a17f,#f7b495,#fac8af,#fddcc8,#fae7db,#f8f3f0,#edf2f5,#dfecf3,#d4e6f0,#c7e0ed,#bddbea,#b6d7e8,#b3d6e7,#b1d5e7,#b0d4e7,#afd4e6,#add3e6,#a9d1e5,#a4cee3,#a0cce2,#9fcce2,#a1cde2,#a7d0e4,#aed3e6,#b9d9e9,#c8e1ee,#d7e8f1,#e4eef4,#f1f4f6,#f7f6f5,#f8f1ed,#f9eee7,#f9ebe3,#faeae1,#faeae0,#faebe2,#f9ece5,#f9efe9,#f8f1ed,#f8f4f1,#f7f7f7)"></div>
<div class="rg" style="width:320.1px;height:320.1px;margin:-160.0px;background:conic-gradient(#e5eff4,#e2edf3,#dfebf3,#dceaf2,#d9e9f2,#d7e8f1,#d6e8f1,#d6e7f1,#d6e8f1,#d8e8f1,#dae9f2,#dceaf2,#dfecf3,#e2edf3,#e4eef4,#e7f0f4,#ecf2f5,#f2f5f6,#f8f4f1,#faebe2,#fce0cf,#fbceb7,#f7b89a,#f3a280,#e98c6f,#e37d64,#df745c,#dc6d57,#d96752,#d96752,#de725b,#e58368,#ee9878,#f5ad8c,#f8c0a4,#fcd3bd,#fce2d2,#f9ede5,#f6f7f7,#e9f0f4,#ddebf2,#d3e6f0,#c7e0ed,#bcdaea,#b3d6e7,#acd2e5,#a6cfe4,#a0cce2,#99c9e0,#92c5de,#88bfdb,#7fb9d8,#7ab6d6,#78b5d5,#7bb7d6,#81bad8,#8cc1dc,#99c9e0,#aad1e5,#bedbea,#d1e5f0,#dae9f2,#e1edf3,#e7eff4,#ebf1f5,#edf2f5,#eff3f5,#eff3f5,#edf2f5,#ecf2f5,#eaf1f5,#e8f0f4,#e5eff4)"></div>
<div class="rg" style="width:280.4px;height:280.4px;margin:-140.2px;background:conic-gradient(#cee4ef,#cde3ef,#cbe2ee,#cae1ee,#c9e1ee,#c9e1ee,#c9e1ee,#cae2ee,#cce3ef,#cfe4ef,#d2e6f0,#d5e7f1,#d8e8f1,#dbeaf2,#deebf2,#e3edf3,#e8f0f4,#f0f4f6,#f7f5f4,#f9ede5,#fbe3d4,#fcd6c0,#f9c1a6,#f6ae8e,#f09c7b,#e98b6e,#e47f65,#e0775e,#de725b,#df745c,#e27d63,#e98c6e,#f19e7d,#f6b091,#f9c2a7,#fcd5bf,#fce2d2,#f9ebe3,#f7f5f4,#eef3f5,#e2edf3,#d8e8f1,#cde3ef,#bfdceb,#b1d5e7,#a5cfe4,#9ac9e0,#8fc3dd,#83bcd9,#77b4d5,#6badd1,#61a6cd,#57a0ca,#519cc8,#4e9ac7,#4e9ac7,#529cc8,#5aa2cb,#69abd0,#7eb8d7,#94c6df,#a6cfe4,#b5d7e8,#c0dceb,#c8e0ed,#cde3ef,#d0e4f0,#d1e5f0,#d2e5f0,#d1e5f0,#d1e5f0,#d0e4f0,#cee4ef)"></div>
<div class="rg" style="width:240.5px;height:240.5px;margin:-120.3px;background:conic-gradient(#a7d0e4,#a9d0e4,#aad1e5,#acd2e6,#afd4e6,#b1d5e7,#b4d6e8,#b7d8e9,#bad9ea,#bedbeb,#c2deec,#c7e0ed,#cde3ef,#d2e6f0,#d7e8f1,#dceaf2,#e2edf3,#eaf1f5,#f3f5f6,#f8f2ee,#fae9df,#fce0cf,#fcd3bc,#f9c2a7,#f6b394,#f4a785,#f09c7b,#ed9475,#eb9173,#ec9374,#ef9a79,#f4a683,#f6b293,#f9c1a5,#fbd1ba,#fcdecc,#fae7db,#f9efe9,#f7f7f7,#ecf2f5,#e2edf3,#d9e9f1,#cee3ef,#bedbea,#aed3e6,#9ecbe1,#8fc3dd,#7eb9d7,#70afd2,#64a8ce,#59a1cb,#509bc7,#4796c4,#4190c1,#3d8abf,#3986bc,#3783bb,#3682ba,#3985bc,#408fc1,#559fc9,#6dadd1,#7fb9d8,#8cc1dc,#94c6df,#99c9e0,#9ccae1,#9fcbe2,#a1cce2,#a2cde3,#a4cee3,#a5cfe4,#a7d0e4)"></div>
<div class="rg" style="width:200.6px;height:200.6px;margin:-100.3px;background:conic-gradient(#7cb7d6,#81bad8,#87beda,#8dc2dc,#93c6de,#98c8e0,#9dcae1,#a1cde2,#a6cfe4,#abd2e5,#b0d4e7,#b6d7e8,#bcdaea,#c3deec,#cbe2ee,#d3e6f0,#d9e9f2,#e0ecf3,#e9f0f4,#f2f5f6,#f8f3f0,#faebe3,#fbe4d6,#fddcca,#fbd2bb,#fac8ae,#f9c0a5,#f8bb9e,#f7b99b,#f7ba9c,#f8bea2,#f9c5ab,#fbd0b8,#fddcc8,#fbe3d4,#faeae0,#f8f1ed,#f6f7f7,#eef3f5,#e6eff4,#deebf2,#d5e7f1,#c9e1ee,#b9d9e9,#a8d0e4,#96c7df,#83bbd9,#71b0d3,#62a7ce,#58a0ca,#529cc8,#4d99c6,#4997c5,#4393c3,#3f8ec0,#3885bc,#317bb7,#2b74b3,#2b74b3,#347fb9,#3e8dc0,#4a97c5,#549ec9,#59a1cb,#5ca3cc,#5fa5cd,#62a6ce,#65a9cf,#69abd0,#6eaed2,#72b1d3,#77b4d5,#7cb7d6)"></div>
<div class="rg" style="width:160.6px;height:160.6px;margin:-80.3px;background:conic-gradient(#559fc9,#5da3cc,#64a8ce,#6cadd1,#74b2d4,#7bb7d6,#83bbd9,#8ac0db,#91c5de,#97c8e0,#9dcbe1,#a4cee3,#abd1e5,#b2d5e7,#bad9e9,#c3deec,#cce3ef,#d5e7f1,#dbeaf2,#e3eef3,#ebf1f5,#f3f5f6,#f8f5f3,#f9efea,#faebe2,#fae7db,#fbe4d7,#fbe2d3,#fce1d2,#fce2d2,#fbe3d5,#fbe6da,#faeae0,#f9eee8,#f8f4f1,#f4f6f7,#edf2f5,#e6eff4,#dfecf3,#d9e9f1,#d2e5f0,#c7e0ed,#bad9e9,#acd2e5,#9dcbe1,#8dc2dc,#7cb7d6,#6cadd1,#5fa5cd,#569fc9,#4f9ac7,#4a97c5,#4594c4,#4190c2,#3d8bbf,#3783bb,#317bb7,#2c75b4,#2b73b3,#2e77b5,#337eb8,#3682ba,#3884bb,#3885bc,#3885bc,#3986bc,#3b88be,#3d8bbf,#408ec1,#4292c2,#4896c5,#4e9ac7,#559fc9)"></div>
<div class="rg" style="width:120.5px;height:120.5px;margin:-60.2px;background:conic-gradient(#4291c2,#4795c4,#4e9ac7,#559fc9,#5da3cc,#64a8ce,#6cadd1,#73b2d4,#7bb6d6,#83bbd9,#8bc0dc,#93c5de,#99c9e0,#a0cce2,#a8d0e4,#afd4e6,#b7d8e9,#bfdceb,#c8e0ed,#d0e5f0,#d5e7f1,#dae9f2,#dfecf3,#e3eef3,#e7eff4,#eaf1f5,#ecf2f5,#eef3f5,#eef3f5,#eef3f5,#edf2f5,#ebf1f5,#e8f0f4,#e4eef4,#e0ecf3,#dceaf2,#d7e8f1,#d2e5f0,#c9e1ee,#c0ddeb,#b7d8e9,#aed3e6,#a4cee3,#99c9e0,#8ec3dd,#82bbd8,#76b3d4,#6aacd0,#5fa5cd,#559fc9,#4c99c6,#4493c3,#408fc1,#3c8abe,#3885bc,#3580b9,#327cb7,#2f78b5,#2d76b4,#2c75b4,#2c75b3,#2c75b4,#2d76b4,#2e77b5,#2f78b5,#307ab6,#327db8,#347fb9,#3682bb,#3986bc,#3c89be,#3f8dc0,#4291c2)"></div>
<div class="rg" style="width:80.4px;height:80.4px;margin:-40.2px;background:conic-gradient(#4191c2,#4494c3,#4a97c5,#4f9bc7,#559ec9,#5aa2cb,#60a5cd,#66a9cf,#6cadd1,#72b1d3,#79b5d5,#7fb9d8,#85bdda,#8cc1dc,#92c5de,#97c8e0,#9ccae1,#a1cde2,#a6cfe4,#abd2e5,#b0d4e6,#b4d6e8,#b8d8e9,#bbdaea,#bedbeb,#c0dceb,#c2ddec,#c3deec,#c3deec,#c3deec,#c2ddec,#c0dceb,#bedbeb,#bbdaea,#b7d8e9,#b3d6e8,#afd4e6,#aad1e5,#a5cee3,#9fcce2,#99c9e0,#93c6de,#8cc1dc,#84bcd9,#7cb7d7,#74b2d4,#6dadd1,#65a9cf,#5ea4cc,#579fca,#509bc7,#4997c5,#4393c3,#4090c1,#3e8cc0,#3c8abe,#3a87bd,#3985bc,#3783bb,#3682ba,#3681ba,#3581ba,#3581ba,#3581ba,#3681ba,#3782bb,#3784bb,#3985bc,#3a87bd,#3c89be,#3d8cbf,#3f8ec1,#4191c2)"></div>
<div class="rg" style="width:40.2px;height:40.2px;margin:-20.1px;background:#6aacd0"></div>
</div>
<div class="map" style="left:1401.5px;top:1430.1px">
<div class="rg" style="width:675.0px;height:675.0px;margin:-337.5px;background:conic-gradient(#fae8dd,#fbe6da,#fbe5d8,#fbe4d7,#fbe4d7,#fbe5d8,#fae7dc,#faebe2,#f9efe9,#f8f3f0,#f7f7f7,#f3f5f6,#f2f5f6,#f3f5f6,#f6f6f7,#f8f4f3,#f8f0eb,#f9ebe3,#fbe6da,#fce0d0,#fddbc7,#fcd3bc,#fbceb6,#fbcdb5,#fbcfb8,#fcd4be,#fddbc7,#fce0d0,#fbe6da,#f9ece5,#f8f3f0,#f0f4f6,#e6eff4,#dfebf3,#dbeaf2,#dbeaf2,#dceaf2,#e0ecf3,#e4eef3,#e6eff4,#e8f0f4,#e8f0f4,#eaf1f5,#f2f5f6,#f8f3f0,#f9ede6,#fae8de,#fbe6da,#fbe6da,#fae8de,#f9ece5,#f8f2ee,#f7f7f7,#f1f4f6,#eaf1f5,#e3eef3,#deebf2,#dbeaf2,#dbeaf2,#e1ecf3,#e7eff4,#e3eef3,#e0ecf3,#e0ecf3,#e3edf3,#e6eff4,#ebf2f5,#f2f4f6,#f7f6f6,#f8f2ee,#f9eee7,#faebe2,#fae8dd)"></div>
<div class="rg" style="width:669.6px;height:669.6px;margin:-334.8px;background:conic-gradient(#fae7db,#fbe5d8,#fbe4d6,#fbe3d5,#fbe3d6,#fbe4d7,#fbe7db,#faeae1,#f9eee8,#f8f3f0,#f7f7f6,#f4f5f6,#f2f5f6,#f3f5f6,#f6f6f7,#f8f4f2,#f8f0eb,#f9ebe3,#fbe6da,#fce0d0,#fddbc7,#fcd3bc,#fbceb6,#fbcdb5,#fbd0b9,#fcd5c0,#fddcc9,#fbe2d3,#fae8de,#f9efe9,#f7f5f4,#edf2f5,#e3eef3,#deebf2,#dceaf2,#ddebf2,#e0ecf3,#e5eff4,#eaf1f5,#eef3f5,#eff3f6,#f0f4f6,#f2f5f6,#f8f5f3,#f9eee7,#fae8dd,#fbe4d6,#fbe2d3,#fbe3d4,#fbe6d9,#faebe2,#f8f1ec,#f7f7f7,#f0f4f6,#e9f0f4,#e1edf3,#dae9f2,#d6e7f1,#d6e7f1,#dae9f2,#e0ecf3,#ddebf2,#dbeaf2,#ddebf2,#e2edf3,#e7eff4,#ecf2f5,#f3f5f6,#f7f5f4,#f8f1ec,#f9ede5,#fae9e0,#fae7db)"></div>
<div class="rg" style="width:631.7px;height:631.7px;margin:-315.8px;background:conic-gradient(#fbe5d8,#fbe3d5,#fbe2d3,#fce2d3,#fbe2d3,#fbe3d5,#fbe6d9,#fae9df,#f9eee7,#f8f2ef,#f7f6f5,#f4f6f7,#f3f5f6,#f3f5f6,#f6f7f7,#f8f4f2,#f9f0eb,#faebe3,#fbe6da,#fce0d0,#fddbc7,#fcd3bd,#fbceb6,#fbccb4,#fbd0b9,#fcd8c3,#fcdfce,#fbe6da,#f9eee7,#f7f5f3,#f0f4f6,#e6eff4,#deebf2,#dceaf2,#dfebf2,#e4eef3,#eaf1f5,#f1f4f6,#f7f7f7,#f8f3f1,#f8f1ed,#f9efea,#f9ede6,#fae8dd,#fbe2d3,#fcdecc,#fddbc7,#fddac5,#fddcc9,#fce1d1,#fae7dc,#f9efe9,#f7f7f6,#eef3f5,#e5eef4,#dceaf2,#d4e7f1,#cde3ef,#c6dfed,#c4deec,#c8e1ee,#cbe2ee,#d2e6f0,#d9e9f2,#e1edf3,#e8f0f4,#eff3f6,#f7f7f7,#f8f2ef,#f9eee7,#faeae1,#fae7db,#fbe5d8)"></div>
<div class="rg" style="width:593.5px;height:593.5px;margin:-296.7px;background:conic-gradient(#fbe2d3,#fce1d1,#fce0d0,#fce0d0,#fce1d1,#fbe2d3,#fbe5d7,#fae8de,#f9ede6,#f8f1ed,#f7f5f4,#f6f6f7,#f4f6f6,#f5f6f7,#f7f7f7,#f8f3f1,#f9efea,#faebe2,#fbe6d9,#fce1d1,#fddcc8,#fcd4be,#fbcfb7,#fbcdb5,#fbd0b9,#fddbc6,#fbe2d4,#faebe3,#f8f4f2,#eff3f6,#e5eef4,#dceaf2,#d7e8f1,#d9e9f1,#e1ecf3,#ebf1f5,#f5f6f7,#f8f2ef,#f9ede6,#fae8de,#fbe5d8,#fce1d2,#fcdecc,#fdd9c4,#fbd2bb,#fbccb4,#fac9b1,#facab2,#fbd0b9,#fddbc7,#fbe3d5,#f9ede5,#f7f6f6,#ecf2f5,#e1edf3,#d8e8f1,#d0e5f0,#c5dfed,#b8d8e9,#a9d1e5,#a3cee3,#b3d6e7,#cae1ee,#d9e9f1,#e3eef3,#ecf2f5,#f5f6f7,#f8f3f0,#f9eee7,#faeae0,#fbe6db,#fbe4d6,#fbe2d3)"></div>
<div class="rg" style="width:555.0px;height:555.0px;margin:-277.5px;background:conic-gradient(#fcdfce,#fcdecc,#fcdecc,#fcdecd,#fcdfce,#fce1d1,#fbe4d6,#fae8dc,#f9ece4,#f8f1ec,#f8f4f3,#f7f7f7,#f5f6f7,#f6f6f7,#f7f6f5,#f8f3f0,#f9efe9,#faeae1,#fbe6d9,#fce1d2,#fdddca,#fcd7c2,#fbd2bb,#fbcfb8,#fcd3bd,#fcdecc,#fae7dc,#f8f2ee,#f1f4f6,#e4eef3,#d9e9f1,#d1e5f0,#cee4ef,#d6e7f1,#e2edf3,#f1f4f6,#f8f1ed,#faeae0,#fbe4d6,#fcdecd,#fcd7c2,#fbcdb5,#f9c4a9,#f8bea3,#f8bb9f,#f7b99c,#f7b99c,#f8bc9f,#f9c3a8,#fbd1ba,#fcdfce,#faeae0,#f8f5f3,#ecf2f5,#e0ecf3,#d7e8f1,#d1e5f0,#c7e0ed,#bad9ea,#a6cfe4,#93c5de,#b0d4e7,#d0e4f0,#deebf2,#e9f1f4,#f3f5f6,#f8f3f0,#f9ede6,#fae9de,#fbe5d8,#fbe2d3,#fce0d0,#fcdfce)"></div>
<div class="rg" style="width:516.3px;height:516.3px;margin:-258.2px;background:conic-gradient(#fddbc7,#fddbc7,#fddcc8,#fddcc9,#fcdecc,#fce0cf,#fbe3d4,#fae7db,#f9ebe3,#f9f0eb,#f8f3f1,#f7f6f5,#f7f7f7,#f7f7f6,#f7f5f3,#f8f2ef,#f9eee8,#faeae1,#fbe6da,#fbe3d4,#fcdfce,#fddcc9,#fdd9c5,#fcd8c3,#fddbc7,#fbe3d6,#f9eee8,#f4f6f6,#e6eff4,#d9e9f1,#cde3ef,#c4deec,#c4deec,#d3e6f0,#e2edf3,#f5f6f7,#f9ece4,#fbe4d6,#fdddca,#fcd2bc,#f9c5ab,#f7b89a,#f5ac8b,#f5a987,#f5a987,#f5a988,#f5ab8a,#f6af8f,#f7b799,#fac7ad,#fddac6,#fbe6d9,#f8f1ed,#f0f4f6,#e3edf3,#dceaf2,#d7e8f1,#d4e6f0,#d1e5f0,#cfe4f0,#d4e7f1,#d7e8f1,#e0ecf3,#e9f0f4,#f3f5f6,#f8f2ef,#f9ece4,#fbe6db,#fbe2d3,#fcdfce,#fdddca,#fddcc8,#fddbc7)"></div>
<div class="rg" style="width:477.4px;height:477.4px;margin:-238.7px;background:conic-gradient(#fcd2bc,#fcd4be,#fcd6c1,#fdd9c5,#fddcc9,#fcdfcd,#fce2d3,#fbe6da,#faeae1,#f9efe9,#f8f2ef,#f8f5f3,#f7f6f5,#f7f5f4,#f8f4f2,#f8f1ed,#f9eee8,#faebe2,#fae8dd,#fbe5d8,#fbe3d4,#fce1d2,#fce1d1,#fce2d2,#fbe5d9,#f9ede6,#f6f7f7,#e8f0f4,#dbeaf2,#cfe4ef,#c2ddec,#bcdaea,#c1ddeb,#d2e5f0,#e2edf3,#f4f6f6,#f9ece5,#fbe2d3,#fdd9c4,#fac9b0,#f7ba9d,#f5ac8a,#f2a07e,#ef9a7a,#ef9a79,#f09c7b,#f2a07e,#f4a784,#f6b090,#f8bea2,#fbd1ba,#fce0d0,#faebe2,#f7f5f4,#eef3f5,#e7eff4,#e3edf3,#e2edf3,#e4eef4,#edf2f5,#f7f6f5,#f4f6f6,#f3f5f6,#f7f7f6,#f8f1ec,#faeae0,#fbe3d5,#fcdecc,#fddac6,#fcd5c0,#fcd3bd,#fbd2bb,#fcd2bc)"></div>
<div class="rg" style="width:438.4px;height:438.4px;margin:-219.2px;background:conic-gradient(#fac8af,#facbb2,#fbcfb7,#fcd3bd,#fdd8c4,#fdddca,#fce1d1,#fbe5d8,#fae9df,#f9ede6,#f8f0ec,#f8f3f0,#f8f4f2,#f8f4f1,#f8f2ef,#f8f0ec,#f9eee7,#f9ebe3,#fae9e0,#fae8dd,#fae8dd,#fae8dd,#fae9e0,#f9ece5,#f8f2ee,#f4f6f6,#e7f0f4,#dbeaf2,#cfe4ef,#c1ddec,#b9d9e9,#b9d9e9,#c0dceb,#d1e5f0,#dfecf3,#f0f4f6,#f9efea,#fbe4d7,#fdd9c4,#fac7ad,#f7b697,#f4a785,#ef9a79,#ec9274,#eb9072,#ec9273,#ee9777,#f19f7d,#f5a987,#f7b697,#f9c5aa,#fcd6c0,#fce1d2,#faeae1,#f8f1ed,#f7f6f6,#f4f5f6,#f2f5f6,#f3f5f6,#f7f6f6,#f8f3f0,#f8f2ef,#f8f1ed,#f9ede5,#fbe6da,#fcdfce,#fcd7c2,#fbceb7,#fac8af,#f9c6ac,#f9c5ab,#f9c6ac,#fac8af)"></div>
<div class="rg" style="width:399.1px;height:399.1px;margin:-199.5px;background:conic-gradient(#f8bb9e,#f8c0a4,#f9c5aa,#facab2,#fbd1bb,#fdd9c4,#fcdecc,#fbe2d3,#fbe6db,#faeae1,#f9eee7,#f8f0eb,#f8f1ee,#f8f2ee,#f8f1ec,#f9efe9,#f9ede6,#f9ece4,#faebe2,#faebe3,#f9ede5,#f9efea,#f8f3f0,#f6f7f7,#eef3f5,#e3eef3,#d8e8f1,#cbe2ee,#bddbea,#b5d7e8,#b2d5e7,#b5d7e8,#bedbeb,#cee4ef,#dceaf2,#ecf2f5,#f8f3f1,#fae7dc,#fddcc8,#fac8af,#f7b698,#f4a784,#ee9878,#ea8f71,#e98b6e,#e98b6e,#eb8f71,#ee9677,#f2a07e,#f5aa88,#f7b496,#f9c1a5,#fbceb6,#fddbc7,#fce1d1,#fbe5d9,#fae9de,#f9ece4,#f9efea,#f8f2ee,#f8f3f0,#f9f0eb,#faeae1,#fbe3d4,#fddac6,#faccb3,#f8c0a4,#f7b89a,#f7b495,#f6b394,#f7b496,#f7b799,#f8bb9e)"></div>
<div class="rg" style="width:359.7px;height:359.7px;margin:-179.8px;background:conic-gradient(#f5ab8a,#f6b191,#f7b799,#f8bea2,#fac6ac,#fbcfb8,#fdd8c3,#fcdecc,#fce2d3,#fbe6d9,#fae9df,#f9ece4,#f9eee7,#f9eee7,#f9ede6,#f9ece5,#f9ebe3,#faebe3,#f9ece4,#f9eee7,#f8f1ed,#f7f6f5,#f1f4f6,#e9f0f4,#dfecf3,#d5e7f1,#c7e0ed,#b8d8e9,#acd2e6,#a7d0e4,#abd2e5,#b1d5e7,#bbdaea,#cbe2ee,#dae9f2,#e8f0f4,#f7f6f6,#faeae1,#fcdecc,#facbb3,#f7b89a,#f4a885,#ee9878,#e98d6f,#e7876b,#e68569,#e7866a,#e98b6e,#eb9072,#ed9676,#f09c7b,#f3a481,#f5ac8b,#f7b596,#f8bda1,#f9c2a7,#fac8ae,#fbd1ba,#fdddca,#fbe5d9,#faebe3,#fbe6db,#fcdecc,#fbceb7,#f8bea1,#f6af8f,#f4a481,#f09d7c,#ef9b7a,#f09c7b,#f2a07e,#f4a683,#f5ab8a)"></div>
<div class="rg" style="width:320.1px;height:320.1px;margin:-160.0px;background:conic-gradient(#ec9374,#f09b7b,#f4a582,#f5ad8c,#f7b698,#f8c0a4,#fac9b0,#fbd2bb,#fddac6,#fcdfcd,#fbe2d3,#fbe5d8,#fae7db,#fae8dd,#fae8dd,#fae8dd,#fae8de,#fae9df,#f9ebe3,#f9efe9,#f8f4f2,#f3f5f6,#eaf1f5,#e0ecf3,#d5e7f1,#c7e0ed,#b8d8e9,#aad1e5,#a1cce2,#9ccae1,#9fcce2,#aad1e5,#b8d8e9,#cae1ee,#d9e9f1,#e7f0f4,#f7f7f7,#faebe3,#fcdfce,#fbcdb5,#f7b99b,#f4a785,#ee9677,#e8896c,#e48066,#e27b62,#e17960,#e17860,#e17860,#e0775f,#df765e,#df755d,#e0765e,#e0785f,#e27a61,#e27c63,#e48166,#e98b6e,#f09d7c,#f6af8f,#f8bc9f,#f8ba9d,#f6b090,#f3a381,#ed9475,#e7876b,#e37e64,#e17a61,#e17a61,#e37d64,#e58368,#e88a6d,#ec9374)"></div>
<div class="rg" style="width:280.4px;height:280.4px;margin:-140.2px;background:conic-gradient(#de735b,#e27c63,#e7876b,#ec9374,#f29f7e,#f5aa89,#f7b496,#f8bea2,#fac6ad,#fbceb7,#fcd5c0,#fddbc7,#fdddca,#fcdfcd,#fce0cf,#fce1d1,#fbe2d3,#fbe4d7,#fae8dd,#f9ede6,#f8f3f0,#f3f5f6,#e8f0f4,#ddebf2,#d2e6f0,#c3deec,#b5d7e8,#aad1e5,#a2cde3,#a1cce2,#a5cee3,#afd4e6,#bddbea,#cfe4f0,#ddebf2,#ebf1f5,#f8f5f3,#fae9df,#fdddcb,#fac9b0,#f7b596,#f3a380,#eb9072,#e48166,#df755d,#dc6d57,#d96652,#d6614e,#d35b4a,#d05347,#cb4b43,#c7413e,#c2373a,#bd2e35,#b92732,#b72330,#b72230,#b92632,#be2f36,#c6403e,#cf5246,#d45d4b,#d6604d,#d45d4c,#d25849,#d05448,#cf5347,#d05447,#d15749,#d45c4b,#d7624f,#da6a55,#de735b)"></div>
<div class="rg" style="width:240.5px;height:240.5px;margin:-120.3px;background:conic-gradient(#cd4f45,#d3594a,#d86551,#dd715a,#e37e64,#e98b6e,#ee9878,#f4a582,#f5ae8d,#f7b697,#f8bda0,#f9c3a8,#fac7ae,#facbb3,#fbceb6,#fbd1bb,#fcd6c0,#fddbc8,#fce0cf,#fbe6d9,#f9ede5,#f7f5f3,#eef3f5,#e3edf3,#d8e8f1,#cee3ef,#c1ddec,#b9d9e9,#b4d6e8,#b4d6e8,#b9d9e9,#c2ddec,#d0e4f0,#dbeaf2,#e7eff4,#f4f6f7,#f9eee8,#fbe3d5,#fcd5bf,#f8bfa3,#f5ab8a,#ed9676,#e58267,#de725b,#d86551,#d35a4a,#ce5146,#ca4841,#c53e3d,#bf3238,#b92531,#b0172b,#9e1228,#8c0c25,#7c0722,#740421,#700320,#6f0320,#740421,#810823,#940e26,#a31329,#ab162a,#b0172b,#b31a2c,#b51f2e,#b82531,#bc2b34,#bf3137,#c2383a,#c53e3d,#c94641,#cd4f45)"></div>
<div class="rg" style="width:200.6px;height:200.6px;margin:-100.3px;background:conic-gradient(#ba2933,#c03338,#c53f3d,#cc4c43,#d3594a,#d96652,#de735c,#e37f65,#e88a6d,#ed9475,#f19d7c,#f4a582,#f5ab89,#f6ae8e,#f6b191,#f7b496,#f7b99b,#f8bfa3,#fac8af,#fcd4be,#fcdfce,#fae8dd,#f8f1ec,#f4f6f6,#eaf1f5,#e2edf3,#dceaf2,#d8e8f1,#d6e7f1,#d6e7f1,#d9e9f1,#deebf2,#e6eff4,#eff3f6,#f7f5f4,#f9ece5,#fbe3d4,#fcd6c0,#f9c1a6,#f5ad8d,#ee9777,#e48066,#db6c56,#d45c4b,#cd4e45,#c7433f,#c3393b,#be3036,#b92531,#b3192c,#a61429,#9a1027,#900d26,#860a24,#7b0622,#6e0220,#67001f,#67001f,#67001f,#67001f,#760521,#7c0722,#7b0722,#7a0622,#7e0723,#8a0b25,#981027,#a21328,#a9152a,#af172b,#b31b2c,#b6212f,#ba2933)"></div>
<div class="rg" style="width:160.6px;height:160.6px;margin:-80.3px;background:conic-gradient(#a21328,#ab162a,#b41c2d,#b92732,#bf3237,#c43d3c,#ca4842,#cf5246,#d45b4b,#d86450,#db6c56,#de735c,#e17961,#e37e64,#e58368,#e7886c,#ea8e70,#ee9677,#f2a17f,#f5ad8c,#f7ba9c,#fac8ae,#fcd6c1,#fce0cf,#fbe6d9,#faebe2,#f9eee8,#f8f1ec,#f8f2ee,#f8f2ee,#f8f1ec,#f9eee7,#faeae0,#fbe4d7,#fcdecc,#fcd4be,#f9c5ab,#f7b596,#f4a481,#ea8f71,#e17a61,#d96652,#d05347,#c7433f,#c03538,#ba2832,#b41c2d,#a9152a,#9d1128,#900d26,#840924,#7c0722,#780522,#780622,#780522,#720321,#69011f,#67001f,#67001f,#67001f,#6a011f,#6a011f,#67001f,#67001f,#67001f,#6f0320,#780622,#810823,#880a24,#8e0c25,#940e26,#9a1027,#a21328)"></div>
<div class="rg" style="width:120.5px;height:120.5px;margin:-60.2px;background:conic-gradient(#8a0b25,#910d26,#981027,#a01228,#a81529,#af172b,#b41c2d,#b82330,#bb2a33,#be3036,#c13539,#c33a3b,#c63f3e,#c84440,#ca4942,#cd4e45,#d05548,#d45c4b,#d86551,#dc6f58,#e17a61,#e6866a,#ec9273,#f19e7c,#f4a785,#f6af8e,#f7b496,#f7b99b,#f8bb9e,#f8bc9f,#f8bb9e,#f7b89a,#f6b495,#f5ae8d,#f4a684,#f09c7b,#eb9072,#e58267,#df745d,#d86651,#d15749,#ca4841,#c2393a,#bb2a34,#b41d2d,#a9152a,#9c1127,#8f0d25,#820923,#760521,#6c0220,#67001f,#67001f,#67001f,#67001f,#67001f,#67001f,#67001f,#67001f,#67001f,#67001f,#67001f,#67001f,#67001f,#67001f,#67001f,#67001f,#6b0120,#700320,#760521,#7d0722,#830924,#8a0b25)"></div>
<div class="rg" style="width:80.4px;height:80.4px;margin:-40.2px;background:conic-gradient(#800823,#840924,#880b24,#8c0c25,#910d26,#950f26,#991027,#9d1128,#a01228,#a41429,#a81529,#ab162a,#ae172a,#b2182b,#b31b2c,#b51f2e,#b72230,#b92732,#bc2c34,#bf3237,#c2393a,#c6403e,#c94741,#cd4d44,#d05347,#d2594a,#d55d4c,#d6614e,#d7634f,#d86450,#d86450,#d76350,#d7614e,#d55e4c,#d35a4a,#d05448,#cd4e45,#ca4841,#c6403e,#c2383a,#be3036,#ba2832,#b61f2e,#b0172b,#a71529,#9f1228,#960f27,#8e0d25,#870a24,#800823,#7a0622,#740421,#700320,#6c0220,#69011f,#67001f,#67001f,#67001f,#67001f,#67001f,#67001f,#67001f,#67001f,#67001f,#67001f,#69011f,#6b0120,#6e0220,#710321,#750421,#780622,#7c0722,#800823)"></div>
<div class="rg" style="width:40.2px;height:40.2px;margin:-20.1px;background:#9e1228"></div>
</div>
<svg id="ov" xmlns="http://www.w3.org/2000/svg" width="2120" height="1826" viewBox="0 0 2120 1826">
<defs><clipPath id="mc"><circle r="337.5"/></clipPath></defs>
<g transform="translate(415.9 444.5)">
<circle class="gl" r="255.4"/>
<circle class="gl" r="128.8"/>
<line class="gl" x1="0" y1="0" x2="0.0" y2="-337.5"/>
<line class="gl" x1="0" y1="0" x2="168.7" y2="-292.3"/>
<line class="gl" x1="0" y1="0" x2="292.3" y2="-168.8"/>
<line class="gl" x1="0" y1="0" x2="337.5" y2="-0.0"/>
<line class="gl" x1="0" y1="0" x2="292.3" y2="168.7"/>
<line class="gl" x1="0" y1="0" x2="168.7" y2="292.3"/>
<line class="gl" x1="0" y1="0" x2="0.0" y2="337.5"/>
<line class="gl" x1="0" y1="0" x2="-168.8" y2="292.3"/>
<line class="gl" x1="0" y1="0" x2="-292.3" y2="168.8"/>
<line class="gl" x1="0" y1="0" x2="-337.5" y2="0.0"/>
<line class="gl" x1="0" y1="0" x2="-292.3" y2="-168.8"/>
<line class="gl" x1="0" y1="0" x2="-168.8" y2="-292.3"/>
<path class="cst" clip-path="url(#mc)" d="M-276.5 -192.0L-272.1 -199.5L-265.9 -204.5L-260.3 -204.8L-262.8 -200.8L-269.0 -195.8L-274.6 -191.8Z M-260.3 -203.9L-257.8 -199.8L-250.9 -198.5L-245.9 -196.8L-239.6 -199.8L-234.0 -199.2L-230.3 -195.8L-227.1 -190.1L-224.0 -194.5L-219.6 -196.0L-215.9 -193.0L-211.5 -195.8L-208.4 -198.2L-204.6 -195.8L-200.9 -200.8L-197.1 -195.8L-192.1 -193.2L-187.1 -197.0L-177.1 -197.6L-165.9 -197.0L-161.5 -201.0L-154.6 -203.9L-145.9 -207.0L-133.4 -209.5L-129.6 -212.0L-131.5 -216.4L-128.4 -222.0L-125.3 -228.9L-122.1 -230.5L-120.9 -224.5L-119.4 -218.9L-121.5 -210.8L-119.0 -215.8L-116.5 -223.2L-116.5 -229.5L-114.4 -235.1L-115.9 -239.5L-112.4 -246.4L-110.9 -254.5L-105.9 -263.2L-100.3 -270.1L-94.0 -276.4L-86.9 -281.8 M-241.5 -210.8L-235.9 -211.8L-232.8 -209.5L-225.9 -210.1L-222.1 -207.0L-224.6 -202.6L-229.0 -205.8L-233.4 -208.2L-238.4 -209.5Z M-217.8 -197.6L-213.4 -197.0L-210.3 -194.5L-213.4 -192.0L-215.9 -194.5Z M-204.0 -201.4L-200.3 -198.2L-195.9 -199.5L-192.1 -193.9L-187.4 -187.6L-191.5 -189.5L-195.9 -193.2L-199.6 -190.1L-205.3 -190.8L-200.9 -194.5Z M-123.4 -251.4L-119.4 -252.0L-120.3 -244.5L-122.1 -237.6L-125.3 -237.6L-127.8 -242.6L-125.3 -247.0Z M-86.9 -275.1L-92.1 -269.5L-97.1 -264.5L-102.1 -254.5L-103.4 -247.0L-98.4 -245.8L-94.6 -248.9L-86.9 -251.4 M-86.9 -140.8L-95.9 -137.0L-102.1 -135.8L-110.9 -132.0L-122.1 -128.2L-125.9 -124.5L-124.6 -116.5 M-95.9 -250.5L-89.6 -252.0L-84.0 -250.1L-79.6 -245.8L-74.6 -246.4L-69.0 -244.5L-62.1 -239.5L-59.0 -233.2L-60.3 -223.2L-65.9 -218.9L-70.9 -214.5L-72.8 -210.8L-70.3 -204.5L-64.0 -207.6L-58.4 -208.9L-50.9 -208.2L-44.6 -203.9L-47.8 -199.5L-53.4 -195.8L-59.6 -195.1L-62.1 -191.4L-59.0 -186.4L-54.6 -183.2L-49.6 -181.4L-44.6 -177.0L-46.5 -171.4L-51.5 -166.4L-53.4 -159.5L-57.1 -154.5L-61.5 -152.0L-64.6 -145.8L-70.9 -146.4L-75.9 -144.5L-80.9 -145.1L-87.1 -141.4L-95.9 -139.5 M-63.6 -246.4L-59.6 -248.2L-55.9 -247.2L-58.4 -244.8L-62.4 -244.2Z M-44.0 -222.6L-39.6 -225.1L-35.9 -223.9L-31.5 -223.2L-33.4 -220.8L-38.4 -221.4L-42.1 -221.4Z M-71.5 -297.0L-69.0 -300.1L-65.9 -302.0L-63.1 -304.5L-59.6 -307.6L-59.0 -305.1L-62.1 -302.0L-65.3 -299.5L-67.8 -296.4L-70.3 -295.1Z M-86.9 -281.8L-83.4 -285.8L-79.0 -290.1L-78.1 -288.2L-82.8 -280.8L-86.9 -275.1 M-33.4 -317.2L-31.5 -318.2L-29.9 -317.0L-31.5 -315.8Z M-20.9 -321.0L-17.8 -322.0L-15.9 -320.8L-18.4 -319.8Z M-13.4 -321.4L-10.3 -322.0L-9.0 -320.5L-11.5 -319.8Z M68.9 -289.8L71.0 -290.1L72.2 -287.0L71.6 -283.9L69.7 -285.1Z M134.7 -304.5L139.1 -306.0L141.0 -304.5L137.9 -302.6Z M163.1 -207.6L155.4 -209.5L149.1 -214.5L145.4 -217.6L139.1 -219.5L135.4 -223.2L130.4 -222.6L127.9 -227.0L125.4 -230.8L119.1 -233.9L111.6 -237.0L109.1 -233.2L102.9 -227.0L95.4 -222.0L87.9 -222.6L81.6 -225.8L84.1 -230.8L85.4 -235.8L79.1 -232.0L71.6 -229.5L67.9 -224.5L62.9 -223.9L65.4 -229.5L70.4 -235.8L79.1 -240.8L89.1 -245.8L99.1 -250.1L109.1 -253.2L114.1 -258.2L119.1 -264.5L122.9 -273.2L126.6 -283.2L129.1 -292.0L130.4 -300.8L125.4 -299.5L119.1 -295.8L114.1 -290.8L109.1 -291.4L104.1 -287.0L99.1 -284.5L94.1 -283.2L91.6 -277.0L86.6 -275.8L82.9 -272.0L84.1 -265.8L80.4 -262.0L84.1 -258.2L81.6 -253.2L76.6 -252.0L71.6 -248.2L65.4 -247.6L60.4 -245.8L55.4 -247.6L50.4 -245.1L44.1 -249.5L39.7 -252.0L34.1 -244.5L26.6 -240.8L16.6 -237.0L7.9 -233.9L2.9 -233.2L4.1 -227.0L6.0 -219.5L10.4 -218.2L10.4 -214.5L4.1 -213.9L0.4 -207.0L-2.8 -202.0L-5.9 -208.2L-10.9 -209.5L-15.9 -212.0L-20.9 -215.8L-25.9 -216.4L-28.4 -209.5L-32.1 -205.8L-35.3 -201.4L-30.9 -197.0L-24.6 -194.5L-18.4 -193.2L-14.6 -189.5L-8.4 -184.5L-0.9 -179.5L6.6 -175.8L14.1 -172.6L21.6 -170.8L27.9 -168.9L29.1 -174.5L31.6 -177.6L34.1 -173.2L32.9 -169.5L37.9 -170.8L42.9 -168.2L49.1 -165.8L56.6 -163.2L60.4 -158.2L59.1 -154.5L62.9 -149.5L69.1 -146.4L74.1 -143.2L77.2 -138.2L79.1 -133.2L82.9 -127.0L87.9 -120.8L91.6 -116.5 M70.4 -253.9L74.1 -255.1L77.2 -254.5L74.7 -252.2L71.6 -252.0Z M-7.1 -160.8L-2.1 -163.2L4.1 -164.5L3.5 -160.8L-0.9 -157.6L-5.3 -157.6Z M154.1 -209.5L160.4 -208.0L169.1 -209.2L179.1 -211.1L189.1 -212.6L199.1 -214.2L206.6 -213.0L210.6 -209.8L211.0 -214.5L209.1 -219.2L206.4 -221.4L210.4 -223.2L208.1 -227.0L204.4 -225.5L201.6 -229.5L198.1 -232.0L196.1 -235.8L195.6 -240.1L197.6 -244.8L200.6 -249.2L204.7 -253.2L208.5 -256.8L211.9 -259.2L214.4 -261.0 M198.1 -271.0L197.4 -262.0L195.6 -252.0L193.9 -244.5L196.4 -242.2L199.4 -249.2L203.1 -256.8L205.6 -263.9L206.9 -265.8 M197.9 -219.5L200.4 -221.0L202.2 -219.2L200.4 -217.0Z M-200.3 12.2L-202.1 14.8L-205.9 12.2L-210.9 9.1L-215.9 6.6L-220.9 3.5L-222.1 -0.9L-225.9 -3.4L-229.6 -4.6L-232.1 -9.2L-235.3 -10.2L-237.1 -12.8L-242.1 -15.9L-247.1 -18.4L-253.4 -20.9L-259.6 -21.2L-264.6 -19.0L-268.4 -15.0L-274.0 -14.0L-278.4 -11.5L-279.6 -7.8L-278.4 -4.0L-280.9 2.2L-283.4 7.2L-287.1 11.0L-289.0 16.0L-290.9 21.0L-292.1 27.2L-292.8 33.5L-293.4 39.8L-295.9 41.2L-303.4 42.5L-308.4 46.0L-314.6 48.8L-320.9 55.4L-323.4 57.9L-319.0 60.0L-314.6 62.5L-312.1 64.4L-308.4 61.0L-302.1 58.5L-297.1 56.0L-294.4 54.1L-292.1 57.2L-287.1 61.0L-280.9 66.2L-275.9 65.4L-269.6 62.2L-264.6 58.5L-262.1 54.8L-258.4 52.2L-253.4 54.1L-249.6 55.0L-245.9 52.2L-240.9 51.0L-237.1 49.8L-232.8 48.2L-229.6 49.8L-227.8 53.5L-227.1 58.5L-227.5 64.8L-229.0 71.0L-230.9 76.0L-232.1 81.0L-233.4 86.0L-235.9 89.8L-239.6 91.0L-243.4 93.8L-245.9 98.5L-247.1 103.5L-248.4 106.5 M-225.9 17.9L-222.8 14.1L-218.4 13.5L-213.4 12.9L-208.4 14.1L-203.4 15.4L-207.1 17.9L-210.9 21.0L-213.4 26.0L-215.9 31.0L-219.6 36.6L-222.8 34.8L-220.9 29.8L-218.4 24.8L-216.5 21.0L-219.6 18.5L-222.8 20.4Z M-234.0 29.1L-231.5 27.2L-229.0 29.8L-230.3 32.9L-232.8 31.6Z M-237.1 42.2L-233.4 41.2L-231.5 43.5L-235.3 44.8Z M-285.9 50.4L-282.1 49.1L-279.0 51.6L-280.9 55.4L-284.0 54.1Z M-312.1 46.0L-309.0 45.4L-307.8 48.5L-310.3 50.4Z M-247.8 -94.6L-245.9 -91.5L-244.0 -87.8L-242.1 -85.2L-244.6 -82.1L-247.1 -79.0L-249.0 -82.8L-248.4 -87.8L-249.4 -91.5Z M-219.6 -110.2L-218.4 -105.2L-213.4 -100.2L-215.3 -96.5L-217.8 -91.5L-216.5 -85.2L-217.1 -79.0L-219.6 -75.9L-220.9 -81.5L-221.5 -87.8L-222.8 -94.0L-225.3 -100.2L-224.0 -105.2L-222.1 -109.0Z M-277.4 -63.4L-273.4 -61.5L-268.4 -59.6L-264.0 -56.5L-266.5 -55.0L-270.9 -57.8L-275.3 -59.6Z M-329.6 -39.0L-325.9 -41.5L-320.9 -41.5L-319.0 -44.6L-313.4 -47.1L-307.1 -48.8L-303.4 -47.8L-302.8 -44.0L-304.6 -41.5L-310.9 -39.6L-315.9 -37.8L-320.9 -36.5L-325.9 -36.5L-328.4 -37.1Z M-184.6 -109.6L-182.1 -111.8L-178.9 -114.9L-176.1 -115.6L-175.8 -112.1L-176.7 -108.3L-173.9 -107.1L-171.4 -110.9L-168.3 -115.2L-166.7 -117.1L-167.0 -112.7L-167.7 -108.3L-168.9 -104.0L-170.2 -97.7L-171.4 -95.8L-173.3 -98.9L-175.2 -97.7L-177.7 -93.6L-180.2 -96.4L-182.1 -98.3L-179.6 -100.2L-177.1 -101.4L-180.2 -103.3L-182.7 -104.6L-184.0 -107.1Z M-127.8 -117.1L-129.4 -110.9L-133.1 -109.6L-131.3 -107.1L-130.0 -103.3L-130.6 -101.8L-135.0 -102.1L-138.8 -102.7L-141.9 -102.1L-140.7 -96.4L-143.2 -98.3L-145.7 -98.9L-146.9 -97.7L-145.4 -95.2L-146.3 -91.4L-147.6 -89.5L-150.7 -88.9L-154.5 -87.0L-157.6 -84.5L-160.1 -81.4L-163.3 -77.6L-165.8 -76.3L-168.9 -75.7L-169.5 -78.9L-170.8 -80.7L-172.7 -77.6L-173.3 -75.7L-175.2 -74.5L-175.8 -70.1L-176.4 -64.4L-179.6 -61.9L-181.5 -60.4L-179.6 -58.2L-177.1 -59.4L-175.2 -60.4L-173.9 -58.2L-173.3 -53.8L-173.9 -50.0L-175.8 -47.5L-178.9 -45.6L-182.1 -43.1L-184.6 -40.0L-186.5 -36.8L-188.4 -33.1L-188.7 -28.7L-185.8 -27.4L-183.3 -26.2L-181.5 -24.9L-178.9 -27.4L-176.4 -29.6L-174.6 -27.4L-172.7 -25.5L-170.8 -24.3L-173.3 -22.4L-175.8 -20.5L-178.9 -18.6L-182.1 -19.9L-184.0 -22.4L-186.5 -21.8L-189.0 -21.1L-191.2 -19.6L-188.4 -17.4L-186.5 -14.9L-184.0 -13.0L-180.8 -12.4L-178.3 -13.6L-175.8 -12.4L-173.3 -13.6L-170.8 -16.1L-168.3 -18.0L-165.8 -19.3L-162.6 -18.6L-159.5 -16.8L-157.0 -14.9L-154.5 -13.0L-150.7 -11.7L-146.9 -11.1L-143.2 -11.1L-139.4 -10.5L-136.9 -8.6L-135.7 -4.2 M-168.9 -72.6L-165.8 -72.0L-162.6 -72.3L-160.7 -75.1L-158.2 -77.6L-155.7 -78.2L-153.2 -77.0L-153.8 -72.6L-154.8 -68.2L-154.5 -64.4L-152.6 -65.7L-150.7 -68.8L-148.8 -72.6L-146.3 -75.1L-143.8 -76.3L-141.3 -75.1L-138.8 -76.3L-136.3 -75.7L-134.4 -73.8L-132.5 -72.0L-131.3 -69.4L-130.3 -65.1L-129.7 -61.3L-130.3 -58.8L-133.1 -57.5L-135.7 -58.8L-135.0 -56.3L-136.3 -53.8L-137.5 -51.9L-138.2 -48.7L-140.0 -46.9L-141.3 -45.6L-139.4 -43.7L-136.9 -41.8L-134.4 -40.6L-133.8 -38.1L-136.3 -36.2L-138.8 -36.8L-141.3 -38.7L-144.4 -40.0L-147.6 -40.3L-150.7 -40.0L-153.8 -40.9L-157.0 -41.2L-159.5 -39.3L-162.0 -36.8L-163.9 -34.3L-165.8 -31.8L-167.7 -31.2L-169.5 -33.7L-170.5 -35.6L-172.0 -34.9L-173.3 -37.5L-174.6 -41.2L-175.2 -43.7L-173.3 -46.2L-170.8 -48.1L-168.9 -48.7L-169.5 -51.3L-170.2 -55.0L-170.8 -60.0L-170.2 -64.4L-169.5 -68.8Z M-135.7 -87.6L-132.5 -88.0L-129.4 -87.6L-125.6 -88.6L-123.7 -86.4L-121.9 -83.9L-120.0 -81.4L-117.5 -78.9L-114.3 -77.6L-112.4 -76.3L-112.8 -72.6L-113.7 -69.4L-116.8 -66.3L-119.3 -63.2L-122.5 -62.2L-125.6 -61.3L-128.1 -60.4L-129.4 -61.3L-130.0 -65.1L-131.0 -69.4L-132.2 -72.0L-133.8 -74.5L-135.7 -76.3L-137.2 -79.5L-136.3 -83.9Z M-103.0 -65.7L-99.9 -66.3L-97.4 -65.4L-96.1 -61.9L-94.9 -56.9L-94.3 -52.5L-94.9 -48.7L-97.4 -47.5L-99.3 -50.0L-101.8 -51.3L-103.0 -52.5L-104.3 -49.4L-106.8 -47.5L-110.6 -46.2L-114.3 -45.0L-116.2 -43.7L-116.8 -41.8L-113.1 -41.2L-109.3 -40.0L-107.4 -38.1L-110.6 -37.5L-113.1 -36.2L-116.2 -34.3L-119.3 -34.9L-121.9 -36.2L-122.5 -40.0L-121.9 -44.4L-123.1 -48.7L-122.5 -51.9L-120.0 -53.8L-117.5 -53.1L-116.2 -51.9L-114.3 -53.8L-113.1 -56.3L-110.6 -58.2L-108.1 -60.0L-105.5 -62.5Z M-110.6 -58.2L-106.8 -53.8 M-108.1 -59.7L-104.3 -54.4 M-105.5 -60.7L-102.4 -56.3 M-99.9 -41.8L-97.4 -43.7L-94.3 -44.4L-91.7 -42.5L-90.5 -39.3L-91.1 -35.6L-93.0 -32.4L-95.5 -33.1L-98.0 -35.6L-99.9 -38.7Z M-94.9 -43.7L-94.3 -38.1L-94.9 -33.7 M-157.0 -24.9L-153.2 -26.8L-149.5 -28.7L-148.8 -31.2L-145.7 -32.1L-143.2 -32.4L-142.6 -29.3L-142.9 -26.8L-140.7 -27.4L-137.5 -28.0L-135.0 -26.2L-134.4 -23.0L-136.3 -21.1L-134.4 -18.6L-136.9 -18.0L-139.4 -18.9L-141.9 -19.9L-143.8 -18.0L-146.3 -16.8L-149.5 -16.4L-152.6 -17.1L-154.5 -18.0L-155.4 -21.1Z M-123.7 -28.7L-120.0 -29.3L-116.2 -29.6L-111.8 -29.0L-114.3 -26.8L-117.5 -25.5L-120.0 -24.9L-117.5 -23.7L-113.7 -23.0L-111.8 -21.1L-112.4 -18.6L-115.0 -16.8L-118.7 -16.1L-122.5 -16.8L-125.6 -18.0L-126.9 -20.5L-125.6 -23.0L-123.1 -24.3L-121.9 -26.2Z M-95.5 -24.3L-93.0 -25.5L-89.9 -26.2L-87.3 -24.9L-88.6 -22.4L-91.1 -19.9L-94.3 -18.0L-96.8 -16.8L-98.0 -14.2L-95.5 -13.0L-94.3 -11.1L-96.8 -9.9L-99.9 -10.5L-101.8 -13.0L-102.4 -16.1L-100.5 -18.6L-98.0 -21.1Z M-123.7 -31.8L-121.9 -32.4L-120.0 -31.2L-121.2 -29.9L-123.1 -30.2Z M-108.1 -28.0L-104.9 -28.7L-101.8 -27.7L-102.4 -26.5L-105.5 -26.8L-107.4 -26.5Z M-87.3 -13.0L-84.8 -13.6L-83.0 -12.4L-84.8 -11.1L-86.7 -11.4Z M-130.0 -9.9L-128.1 -13.0L-125.6 -14.2L-123.7 -12.4L-124.4 -9.2L-127.5 -8.6Z M-116.8 -4.2L-116.2 -7.3L-114.3 -9.9L-111.8 -11.1L-111.2 -8.6L-112.4 -4.2 M-107.4 -4.2L-106.8 -7.3L-104.9 -9.9L-103.0 -8.6L-103.7 -4.2 M-175.8 -4.2L-172.7 -7.3L-168.3 -8.6L-163.3 -10.5L-157.0 -11.1L-153.2 -9.9L-149.5 -8.6L-146.9 -4.2 M-182.7 0.2L-180.2 1.1L-178.9 3.7L-182.1 6.2L-187.1 6.8L-190.9 7.4L-193.4 9.6L-190.9 11.2L-188.4 11.2L-187.1 13.1L-184.6 14.3L-180.8 14.3L-177.1 14.0L-173.3 13.7L-170.8 14.9 M-200.9 23.7L-197.8 26.2L-194.0 28.7L-189.6 29.4L-187.7 25.6L-184.6 25.0L-180.8 26.9L-176.4 26.2L-175.2 23.1L-173.3 21.8L-171.4 19.3 M-170.8 30.6L-165.8 35.0L-167.7 38.2L-169.5 41.3L-172.0 43.8L-175.8 44.4L-176.4 47.6L-177.7 52.0L-180.2 55.1L-184.6 58.9L-188.4 57.6L-192.1 55.7L-195.9 53.8L-198.4 57.6L-200.9 57.0 M-189.0 43.8L-185.8 41.9L-182.1 42.6L-180.2 45.7L-182.1 48.8L-185.8 49.5L-188.4 46.9Z M-170.8 30.6L-171.4 25.6L-170.2 20.6L-170.8 14.9L-169.5 10.6L-167.0 6.2L-163.3 2.4L-158.2 0.5L-153.2 -0.1L-148.8 0.5L-144.4 2.4L-140.7 4.9L-138.2 8.0L-137.5 12.4L-138.2 16.2L-136.9 19.3L-136.3 24.4L-135.7 28.1L-136.9 31.9L-140.7 33.1L-143.2 32.5L-144.4 33.1L-145.1 36.3L-143.8 39.4L-146.9 41.3L-149.5 42.6L-150.1 45.7L-151.3 49.5L-152.6 52.6L-153.8 55.7L-155.1 58.9L-155.7 62.0L-157.0 64.5L-159.5 65.1L-162.0 66.4L-163.3 69.5L-165.8 67.6L-168.3 68.3L-170.2 68.9L-170.8 72.0L-171.4 75.8L-170.8 77.7L-171.4 80.8L-172.0 84.6L-173.3 89.6L-173.9 93.4L-174.6 95.2L-178.3 95.9L-182.7 96.5L-184.6 95.2L-187.1 94.0L-189.6 93.4L-190.9 91.5L-190.9 89.6L-189.0 86.5L-187.7 83.3L-185.8 78.9L-188.4 78.3L-191.5 80.2L-194.0 83.3L-195.3 87.1L-196.5 90.9L-199.0 93.4L-200.9 94.0 M-150.7 23.1L-146.9 23.7L-143.2 21.8L-139.4 22.5L-136.9 23.7 M-147.6 25.0L-145.7 26.9L-144.4 29.4L-143.2 32.5 M-156.4 12.4L-153.2 9.9L-148.8 9.0L-144.4 9.6L-140.7 11.8L-138.2 14.3 M-133.1 -5.1L-133.1 1.8L-132.5 8.0L-131.3 14.3L-130.6 18.7L-128.1 21.2L-124.4 21.8L-121.9 19.3L-121.2 14.3L-122.5 10.6L-122.5 5.5L-121.2 1.8L-119.3 0.5L-116.2 1.1L-116.8 5.5L-116.8 10.6L-116.2 16.2L-113.7 19.3L-110.6 21.2L-108.1 20.6L-105.5 21.8L-102.4 21.8L-99.9 23.7L-96.8 25.0L-93.0 24.4L-89.2 25.0L-86.1 26.9L-83.0 28.7L-79.2 30.0L-75.4 31.3L-70.4 31.9 M-116.2 1.1L-111.8 3.7L-108.1 6.2L-104.9 5.5L-102.4 7.4L-99.3 6.8L-95.5 8.0L-91.7 7.4L-88.0 5.5L-84.2 4.9L-81.7 8.0L-79.2 12.4L-76.7 16.2L-77.9 11.2L-78.6 6.8L-76.7 3.0L-73.5 0.5L-70.4 -0.7 M-70.4 32.5L-75.4 31.6L-79.2 30.9L-81.7 33.1L-79.2 35.7L-81.7 37.5L-84.8 36.9L-88.0 34.4L-90.5 31.9L-94.3 30.0L-96.8 30.6L-98.0 33.1L-99.3 35.7L-101.2 38.8L-103.0 36.9L-105.5 38.2L-107.4 40.7L-109.3 41.9L-110.6 45.7L-109.9 48.8L-107.4 51.3L-105.5 54.5L-104.9 58.2L-104.9 62.0L-105.5 64.5L-108.1 66.4L-109.3 68.9L-111.8 72.7L-114.3 75.8L-117.5 78.9L-120.6 81.4L-124.4 84.0L-127.5 86.5L-130.0 88.3L-130.6 90.9L-128.8 93.4L-125.6 93.4L-126.9 95.9L-128.1 99.0L-127.5 102.1L-130.0 104.7L-131.9 100.9L-133.1 97.1L-136.3 98.4L-139.4 99.6L-141.9 100.9L-142.6 104.0L-141.3 107.8 M-70.9 -6.5L-67.1 -5.2L-74.6 -3.4L-77.1 -0.2L-82.1 2.2L-79.6 8.5L-77.1 16.0L-79.6 9.8L-83.4 4.8L-88.4 7.2L-93.4 6.6 M-74.6 -3.4L-69.6 -0.2L-64.6 4.8L-59.6 11.0L-57.1 18.5L-55.9 24.8L-58.4 31.0L-62.1 32.9L-67.1 33.5L-72.1 31.6L-77.1 32.2L-79.6 36.0L-83.4 36.6 M-86.9 -13.8L-84.9 -15.0L-83.4 -13.2L-85.1 -11.8Z M-62.1 32.9L-57.1 35.4L-53.4 39.8L-49.6 42.2L-44.6 42.9L-39.6 44.1L-34.6 46.0L-29.6 48.5L-25.9 52.2L-23.4 57.2L-24.6 61.0L-28.4 59.8L-33.4 61.0L-29.6 64.8L-25.9 67.2L-30.9 69.8L-25.9 69.8L-20.9 68.5L-15.9 71.0L-14.6 74.8L-18.4 79.8L-22.1 84.8L-25.9 89.8L-29.6 94.8L-32.1 99.8L-34.6 107.2 M60.4 37.2L64.1 33.5L69.1 31.6L72.2 34.8L71.6 41.0L72.9 46.0L69.1 49.8L65.4 47.2L62.9 42.2Z M64.1 37.2L67.9 39.8L70.4 38.5 M63.5 41.6L67.9 44.1L71.6 43.5 M57.2 54.8L60.4 52.9L64.1 54.8L62.9 58.5L58.5 57.9Z M104.1 42.2L106.6 40.4L109.7 42.9L110.4 49.8L111.0 58.5L112.9 66.0L116.6 73.5L121.6 81.0L127.9 88.5L134.1 92.2L137.9 92.9L136.6 96.0L131.6 97.9L125.4 96.0L119.1 91.0L114.1 83.5L109.1 74.8L106.0 66.0L104.1 57.2L103.5 48.5Z M75.4 -7.8L79.1 -10.2L84.1 -14.0L89.1 -19.0L92.9 -24.0L97.9 -25.9L101.0 -21.5L101.6 -16.5L99.1 -12.8L95.4 -9.0L91.6 -6.5L89.1 -2.8L82.9 -2.1L77.9 -4.0Z M89.1 -19.0L95.4 -16.5L99.1 -12.8 M72.9 -101.5L76.6 -104.0L81.6 -102.8L86.6 -99.0L87.9 -94.0L84.1 -90.2L79.1 -89.0L76.6 -92.8L72.9 -95.2L71.6 -99.0Z M62.2 -110.2L65.4 -112.8L69.1 -109.0L67.9 -104.6L64.1 -106.5Z M82.9 -112.8L86.6 -114.0L89.1 -110.2L86.6 -106.5L83.5 -107.8Z M91.6 -116.5L95.4 -117.1L98.5 -114.6L95.4 -112.8L92.2 -113.4Z M106.6 -117.8L111.6 -112.8L116.6 -110.2L120.4 -107.8L124.1 -104.0L122.9 -99.0L116.6 -96.5L114.1 -91.5L115.4 -84.0L116.6 -79.0L121.6 -76.5L125.4 -71.5L126.6 -66.5L127.9 -61.5L130.4 -55.2L129.1 -49.0L134.1 -45.2L138.5 -41.5L135.4 -40.2L129.1 -44.0L124.1 -46.5L119.1 -50.2L114.1 -50.9L109.1 -46.5L106.6 -41.5L107.9 -35.2L105.4 -30.2L102.9 -26.5L106.6 -24.0L110.4 -26.5L112.9 -21.5L116.6 -16.5L119.1 -10.2L121.6 -4.0L125.4 2.2L129.1 6.0L132.9 8.5L136.6 7.2L139.1 13.5L140.4 21.0L145.4 23.5L149.1 22.2L152.9 19.8L154.1 23.5L151.6 28.5L149.1 33.5L145.4 37.2L141.6 39.8L146.6 41.0L151.6 38.5L156.6 36.0L154.1 42.2L149.1 44.8L141.6 46.0L135.4 47.2L137.9 51.0L144.1 52.2L150.4 51.0L156.6 48.5L164.1 49.8 M121.6 -52.8L124.1 -53.4L125.4 -50.9L122.9 -49.6Z M272.9 -97.8L279.1 -100.2L287.9 -100.9L295.4 -97.8L301.6 -92.8L307.9 -89.0L314.1 -84.0L316.6 -79.0L314.7 -76.5L310.4 -81.5L304.1 -86.5L297.9 -90.2L291.6 -94.0L284.1 -95.9L276.6 -95.9Z M154.1 44.8L159.1 46.0L165.4 48.5L171.6 49.8L174.1 45.4L175.4 49.8L181.6 51.0L186.6 56.0L190.4 62.2L191.6 66.0L187.9 67.2L185.4 61.0L180.4 56.0L174.1 53.5L167.9 52.2L161.6 51.0L156.6 50.4L154.1 49.8 M154.1 68.5L160.4 67.2L166.6 65.4L172.9 67.2L169.1 71.0L165.4 73.5L161.6 78.5L159.1 83.5L156.6 88.5L154.1 91.0 M-228.4 105.2L-230.9 111.5L-234.6 116.5L-238.4 122.8L-242.1 127.8L-244.6 131.5L-249.6 133.4L-252.1 137.8L-253.4 144.0L-255.9 147.8L-253.4 151.5L-255.9 156.5L-253.4 160.2L-257.1 161.5L-256.5 166.5L-255.9 171.5L-258.4 175.2L-262.1 179.0L-265.9 181.5L-270.9 179.0L-275.9 174.0L-283.4 171.5L-289.6 167.8L-295.9 164.0 M-283.4 182.1L-277.1 180.5L-270.9 181.8L-267.8 184.6 M-282.1 187.1L-275.9 184.6L-270.9 186.5 M-310.3 132.1L-307.1 135.2L-303.4 142.8L-299.6 151.5L-295.9 160.2L-294.4 165.5 M-134.6 105.2L-138.4 110.2L-143.4 111.5L-150.9 112.8L-158.4 117.8L-162.1 122.8L-164.6 129.0L-168.4 134.0L-172.1 139.0L-175.9 145.2L-179.6 152.8L-182.1 159.0L-183.4 166.5L-182.1 172.8L-179.0 176.5L-178.4 181.5L-174.6 184.6L-169.6 182.8L-164.6 180.2L-159.6 176.5L-154.6 172.8L-149.6 171.5L-144.6 167.8L-140.9 162.8L-138.4 160.2L-134.6 161.5L-130.9 163.4L-125.9 164.6L-119.6 165.2L-113.4 165.2L-107.1 163.4L-100.9 161.5L-94.6 160.9L-85.9 161.5 M-37.1 105.2L-39.6 111.5L-40.9 119.0L-43.4 122.8L-48.4 126.5L-52.1 131.5L-57.1 132.8L-54.6 136.5L-59.6 139.0L-64.6 141.5L-62.1 145.2L-65.9 149.0L-70.9 150.2L-74.6 150.2L-72.1 154.0L-67.1 156.5L-70.9 159.0L-77.1 160.9L-83.4 161.5L-89.6 161.5L-95.9 160.2 M-87.1 195.9L-83.4 192.8L-84.0 189.0L-79.6 185.9L-76.5 186.5L-77.1 191.5L-72.1 192.8L-69.0 191.5L-64.6 193.4L-59.6 194.0L-54.6 193.4L-50.9 196.5L-49.0 201.5L-49.6 206.5L-53.4 209.0L-58.4 210.2L-63.4 212.1L-68.4 212.8L-73.4 214.0L-77.1 212.1L-80.9 209.0L-84.6 206.5L-82.1 202.8L-83.4 199.0Z M-25.9 161.5L-23.4 159.0L-20.9 159.6L-22.8 162.5Z M124.1 38.0L129.1 41.8L134.1 48.0L136.6 53.0L140.4 58.0L145.4 61.8L149.1 65.5L154.1 68.0L159.1 69.2L165.4 66.8L171.6 65.5L167.9 70.5L161.6 75.5L155.4 80.5L149.1 84.2L144.1 85.5L143.5 88.0L149.1 88.0L155.4 86.8L159.1 90.5L157.9 94.2L154.1 96.8L155.4 101.8L151.6 105.5L146.6 108.0 M134.1 48.0L139.1 45.5L144.1 44.9L149.1 46.8L155.4 48.0 M16.6 87.5L18.6 85.1L22.4 83.6L25.3 82.2L26.8 79.3L28.2 76.4L31.1 75.4L35.0 74.9L38.4 74.9L39.8 77.4L39.6 81.2L37.9 84.1L35.0 85.6L32.1 85.1L30.2 86.5L31.6 88.5L34.0 89.9L36.9 91.8L39.8 93.8L42.7 95.7L44.2 96.7L41.7 98.6L38.8 100.0L38.4 96.7L35.5 93.8L33.5 93.3L33.1 96.2L33.5 101.0L34.0 105.8L33.8 110.2L31.1 108.7L28.2 106.3L25.8 103.4L24.4 100.0L24.9 98.1L22.4 97.6L19.5 94.7L17.1 91.3Z M26.8 79.3L29.2 81.2L31.1 83.6L32.1 85.1 M172.2 69.9L168.4 71.8L162.6 74.7L156.8 77.6L152.0 80.5L147.1 83.4L143.3 84.4L144.3 87.3L149.1 88.2L152.9 87.3L156.8 89.2L158.7 94.0L154.9 96.9L152.0 100.8L152.9 105.6L149.1 108.5L145.2 110.4L143.3 116.2L144.3 122.0L146.2 127.8L145.2 132.6L141.4 133.6L137.5 129.7L133.6 127.8L129.8 128.8L125.9 131.7L128.8 132.6L133.6 133.6L137.5 135.5L140.4 137.5L139.4 141.3L137.5 144.2L139.4 147.1L138.5 151.0L135.6 153.9L134.6 157.7L137.5 161.6L141.4 164.5L136.5 165.5L131.7 166.4L127.8 169.3L128.8 172.2L133.6 172.2L136.5 174.1L134.6 177.0L130.7 178.0L124.9 178.0L121.1 176.1L118.2 172.2L114.3 168.4L109.5 166.4L104.7 165.0L109.5 165.5L115.3 165.0L121.1 163.5L125.9 161.6L129.8 158.7L131.2 154.8L130.7 151.0L127.8 147.1L123.0 144.7L117.2 143.7L110.5 143.7L104.7 144.2L99.9 145.2L95.0 146.2L91.2 147.1L87.3 149.1L82.5 149.1L86.3 145.2L83.4 143.3L78.6 144.2L75.7 148.1L72.8 146.2L69.9 151.0L66.1 150.0L64.1 154.8L60.3 158.7L55.4 161.6L52.6 166.4L50.6 170.3L47.7 174.1L43.9 179.0L45.8 179.0L41.9 184.8L43.9 183.8L47.7 180.9 M132.2 116.2L134.6 113.8L137.5 114.3L138.5 117.2L136.5 119.6L133.6 119.1Z M48.7 179.9L47.7 185.7L46.8 192.4L45.8 199.2L43.9 206.0L41.9 211.8L39.0 217.5L37.1 222.4L34.2 222.4L33.2 226.2L29.4 228.2L27.5 232.0L24.6 234.9L21.7 237.8L20.2 240.7L21.7 244.6L21.7 249.4L23.1 254.2L25.5 257.1L25.0 260.0L27.0 261.9L26.5 265.8L28.4 267.7L32.3 269.2L36.1 268.7L40.0 266.3L42.9 262.9L45.8 259.1L47.7 256.2L49.7 258.1L51.6 261.9L54.5 266.8L57.4 271.6L60.3 275.5L63.2 278.4L64.1 281.3L65.1 284.1L68.0 284.6L70.9 284.1L71.9 280.3L74.8 277.4L77.7 276.4L78.6 272.6L78.1 266.8L78.6 261.0L79.6 255.2L80.5 251.3L82.5 248.9L81.5 245.5L81.5 241.7L79.6 238.8L76.7 236.8L73.8 234.0L71.9 230.1L70.9 225.3L71.9 220.4L73.8 215.6L75.7 210.8L77.7 206.0L78.6 201.1L77.7 198.2L78.6 194.4L78.6 191.5L81.5 189.6L85.4 188.1L89.2 189.1L91.2 192.4L90.2 197.3L88.3 202.1L86.8 207.9L85.4 213.7L85.4 218.5L87.3 222.4L89.2 226.2L90.2 230.1L93.1 232.5L97.9 233.5L102.7 232.5L106.6 230.1L110.5 226.7L114.3 223.8L118.2 221.9L123.0 220.9L125.9 221.4L123.0 225.3L122.1 229.1L118.2 231.1L114.3 232.5L111.4 234.0L108.5 236.8L105.6 239.7L104.7 243.6L107.6 246.5L111.4 245.5L113.8 249.4L114.3 254.2L111.4 256.6L107.6 255.7L104.7 254.2L102.7 256.2L101.8 260.0L102.3 263.9L103.7 267.7L104.7 272.6L103.7 276.4L101.8 279.3L100.8 283.2L97.9 284.6L95.0 282.2L92.1 283.2L89.2 285.1L86.3 287.0L83.4 289.9L80.5 292.8L76.7 294.8L72.8 295.2L69.9 293.8L68.0 291.9L66.1 294.8L63.2 296.7L60.3 299.1L57.4 300.1L55.4 296.7L52.6 295.7L49.7 292.8L48.7 289.0L50.6 285.1L52.6 282.2L51.6 279.3L50.6 275.5L51.1 271.6L48.7 270.6L45.8 272.6L42.9 275.5L41.0 279.3L40.5 284.1L41.9 288.0L43.9 291.9L45.8 295.7L46.8 300.6L44.8 305.4L41.0 307.3L37.1 308.3L33.2 310.2L29.4 312.1L26.5 314.1L24.6 317.0L23.6 320.8L21.7 324.7L17.8 328.5L13.9 331.4L10.1 334.3L8.2 338.2L7.7 344.0 M50.1 289.0L52.6 287.0L55.0 289.0L53.5 291.9L51.1 291.9Z M56.9 284.1L60.3 281.3L63.7 282.2L63.2 286.1L60.3 288.0L57.4 287.0Z M56.9 292.4L59.3 290.9L61.7 291.9L59.8 293.8Z M85.9 261.9L87.3 258.6L89.7 257.1L89.7 261.0L88.3 265.3L86.3 264.8Z M100.3 247.5L101.3 243.6L103.7 243.1L104.2 246.5L102.3 249.9Z M122.1 210.8L124.9 207.9L128.8 206.4L132.7 206.9L135.6 209.8L137.5 213.7L136.5 217.5L133.6 220.4L129.8 221.4L125.9 219.5L124.0 215.6Z M130.7 191.5L134.6 190.0L137.5 191.5L139.4 194.4L143.3 195.8L146.2 198.2L145.2 201.1L141.4 200.2L138.5 198.2L135.6 197.3L134.6 194.4Z M27.9 315.0L29.9 313.6L31.8 315.0L30.4 317.0Z M-29.3 337.7L-27.0 336.2L-24.6 335.4L-22.3 334.2L-19.9 334.6L-17.6 333.0L-14.4 332.6L-11.3 333.0L-8.2 332.3L-5.0 331.9L-1.9 332.3L1.2 331.9L4.4 330.7L6.7 329.1L7.5 326.8L6.0 324.4L3.6 322.1L2.0 318.9L1.2 315.0L0.5 311.1L-0.3 307.2L-1.9 304.0L-3.5 301.7L-5.8 299.3L-7.4 297.0L-9.0 293.8L-10.5 290.7L-12.9 288.3L-16.0 287.2L-13.7 285.2L-11.3 282.1L-9.7 278.9L-9.3 275.8L-12.1 275.0L-16.0 274.6L-19.9 274.2L-19.1 271.9L-16.8 270.3L-13.7 268.7L-14.4 266.4L-18.4 266.0L-22.3 266.8L-24.6 268.7L-26.2 271.9L-27.8 275.0L-27.0 277.4L-28.6 279.7L-27.4 282.1L-29.3 284.4L-27.0 286.0L-28.2 288.3L-26.2 289.9L-24.6 292.3L-25.4 294.6L-23.9 297.0L-21.5 297.0L-18.4 296.2L-16.8 298.5L-17.6 301.7L-15.2 303.2L-16.8 305.6L-17.6 308.7L-19.9 309.5L-23.1 309.1L-24.6 311.1L-23.5 313.4L-25.4 315.0L-23.9 317.4L-24.6 319.7L-27.0 320.5L-29.0 322.1L-27.8 324.4L-24.6 325.2L-21.5 326.0L-18.4 325.6L-16.0 324.8L-17.6 326.8L-19.9 327.5L-23.1 328.3L-24.6 330.7L-27.0 332.3L-29.3 333.8L-32.1 335.8 M-34.0 271.9L-32.5 268.7L-29.3 266.8L-28.6 268.3L-30.9 271.1L-33.3 273.0Z M-56.8 315.0L-54.4 312.6L-52.1 309.5L-50.5 306.4L-52.1 304.0L-50.5 301.7L-51.7 299.3L-49.0 297.7L-45.8 295.4L-43.5 293.0L-40.3 291.9L-37.2 292.3L-34.0 293.8L-31.7 296.2L-30.1 299.3L-30.5 303.2L-31.7 307.2L-32.5 311.1L-33.3 314.2L-34.8 316.6L-38.0 318.1L-41.9 318.9L-45.8 319.7L-49.7 320.5L-53.7 320.1L-56.0 318.1Z M-7.4 252.3L-5.8 250.7L-4.2 251.9L-4.6 254.6L-6.6 255.4Z M-16.0 262.4L-14.4 261.7L-13.0 263.1L-14.3 264.6L-15.8 264.2Z M-30.9 234.6L-27.8 233.4L-25.0 234.6L-27.0 237.0L-29.7 237.0Z"/>
<g transform="translate(0.0 -307.6)"><text class="lb" text-anchor="end" x="8.4" y="16.5">180</text><text class="dg" x="10.4" y="2.6">°</text><text class="lb" x="29.9" y="16.5">E</text></g>
<g transform="translate(-153.8 -266.4) rotate(-30)"><text class="lb" text-anchor="end" x="3.6" y="16.5">150</text><text class="dg" x="5.6" y="2.6">°</text><text class="lb" x="27.2" y="16.5">W</text></g>
<g transform="translate(-266.4 -153.8) rotate(-60)"><text class="lb" text-anchor="end" x="2.6" y="16.5">120</text><text class="dg" x="4.6" y="2.6">°</text><text class="lb" x="26.2" y="16.5">W</text></g>
<g transform="translate(-307.6 0.0) rotate(90)"><text class="lb" text-anchor="end" x="-2.1" y="16.5">90</text><text class="dg" x="-0.1" y="2.6">°</text><text class="lb" x="21.5" y="16.5">W</text></g>
<g transform="translate(-266.4 153.8) rotate(60)"><text class="lb" text-anchor="end" x="-2.4" y="16.5">60</text><text class="dg" x="-0.4" y="2.6">°</text><text class="lb" x="21.2" y="16.5">W</text></g>
<g transform="translate(-153.8 266.4) rotate(30)"><text class="lb" text-anchor="end" x="-2.4" y="16.5">30</text><text class="dg" x="-0.4" y="2.6">°</text><text class="lb" x="21.2" y="16.5">W</text></g>
<g transform="translate(0.0 307.6)"><text class="lb" text-anchor="end" x="13.6" y="16.5">0</text><text class="dg" x="15.6" y="2.6">°</text></g>
<g transform="translate(153.8 266.4) rotate(-30)"><text class="lb" text-anchor="end" x="1.9" y="16.5">30</text><text class="dg" x="3.9" y="2.6">°</text><text class="lb" x="23.4" y="16.5">E</text></g>
<g transform="translate(266.4 153.8) rotate(-60)"><text class="lb" text-anchor="end" x="2.1" y="16.5">60</text><text class="dg" x="4.1" y="2.6">°</text><text class="lb" x="23.6" y="16.5">E</text></g>
<g transform="translate(307.6 0.0) rotate(-90)"><text class="lb" text-anchor="end" x="1.5" y="16.5">90</text><text class="dg" x="3.5" y="2.6">°</text><text class="lb" x="23.0" y="16.5">E</text></g>
<g transform="translate(266.4 -153.8) rotate(60)"><text class="lb" text-anchor="end" x="8.4" y="16.5">120</text><text class="dg" x="10.4" y="2.6">°</text><text class="lb" x="29.9" y="16.5">E</text></g>
<g transform="translate(153.8 -266.4) rotate(30)"><text class="lb" text-anchor="end" x="8.4" y="16.5">150</text><text class="dg" x="10.4" y="2.6">°</text><text class="lb" x="29.9" y="16.5">E</text></g>
<g transform="translate(0.0 -255.4)"><text class="lb" text-anchor="end" x="-6.6" y="16.5">60</text><text class="dg" x="-4.6" y="3.6">°</text><text class="lb" x="14.9" y="16.5">N</text></g>
<g transform="translate(0.0 -128.8)"><text class="lb" text-anchor="end" x="-5.4" y="16.5">75</text><text class="dg" x="-3.4" y="3.6">°</text><text class="lb" x="16.1" y="16.5">N</text></g>
<path class="yl" d="M44.2 85.1C45.7 83.4 48.9 82.8 51.1 83.0C53.4 83.2 55.8 84.8 57.7 86.5C59.6 88.2 62.0 90.8 62.6 93.0C63.2 95.2 62.5 98.2 61.1 100.0C59.7 101.8 56.5 103.5 54.1 103.5C51.7 103.5 48.6 101.8 46.6 100.0C44.6 98.2 42.5 95.5 42.1 93.0C41.7 90.5 42.7 86.8 44.2 85.1Z"/>
<circle r="337.5" fill="none" stroke="#111" stroke-width="2.4"/>
</g>
<g transform="translate(1401.5 444.5)">
<circle class="gl" r="255.4"/>
<circle class="gl" r="128.8"/>
<line class="gl" x1="0" y1="0" x2="0.0" y2="-337.5"/>
<line class="gl" x1="0" y1="0" x2="168.7" y2="-292.3"/>
<line class="gl" x1="0" y1="0" x2="292.3" y2="-168.8"/>
<line class="gl" x1="0" y1="0" x2="337.5" y2="-0.0"/>
<line class="gl" x1="0" y1="0" x2="292.3" y2="168.7"/>
<line class="gl" x1="0" y1="0" x2="168.7" y2="292.3"/>
<line class="gl" x1="0" y1="0" x2="0.0" y2="337.5"/>
<line class="gl" x1="0" y1="0" x2="-168.8" y2="292.3"/>
<line class="gl" x1="0" y1="0" x2="-292.3" y2="168.8"/>
<line class="gl" x1="0" y1="0" x2="-337.5" y2="0.0"/>
<line class="gl" x1="0" y1="0" x2="-292.3" y2="-168.8"/>
<line class="gl" x1="0" y1="0" x2="-168.8" y2="-292.3"/>
<path class="cst" clip-path="url(#mc)" d="M-276.5 -192.0L-272.1 -199.5L-265.9 -204.5L-260.3 -204.8L-262.8 -200.8L-269.0 -195.8L-274.6 -191.8Z M-260.3 -203.9L-257.8 -199.8L-250.9 -198.5L-245.9 -196.8L-239.6 -199.8L-234.0 -199.2L-230.3 -195.8L-227.1 -190.1L-224.0 -194.5L-219.6 -196.0L-215.9 -193.0L-211.5 -195.8L-208.4 -198.2L-204.6 -195.8L-200.9 -200.8L-197.1 -195.8L-192.1 -193.2L-187.1 -197.0L-177.1 -197.6L-165.9 -197.0L-161.5 -201.0L-154.6 -203.9L-145.9 -207.0L-133.4 -209.5L-129.6 -212.0L-131.5 -216.4L-128.4 -222.0L-125.3 -228.9L-122.1 -230.5L-120.9 -224.5L-119.4 -218.9L-121.5 -210.8L-119.0 -215.8L-116.5 -223.2L-116.5 -229.5L-114.4 -235.1L-115.9 -239.5L-112.4 -246.4L-110.9 -254.5L-105.9 -263.2L-100.3 -270.1L-94.0 -276.4L-86.9 -281.8 M-241.5 -210.8L-235.9 -211.8L-232.8 -209.5L-225.9 -210.1L-222.1 -207.0L-224.6 -202.6L-229.0 -205.8L-233.4 -208.2L-238.4 -209.5Z M-217.8 -197.6L-213.4 -197.0L-210.3 -194.5L-213.4 -192.0L-215.9 -194.5Z M-204.0 -201.4L-200.3 -198.2L-195.9 -199.5L-192.1 -193.9L-187.4 -187.6L-191.5 -189.5L-195.9 -193.2L-199.6 -190.1L-205.3 -190.8L-200.9 -194.5Z M-123.4 -251.4L-119.4 -252.0L-120.3 -244.5L-122.1 -237.6L-125.3 -237.6L-127.8 -242.6L-125.3 -247.0Z M-86.9 -275.1L-92.1 -269.5L-97.1 -264.5L-102.1 -254.5L-103.4 -247.0L-98.4 -245.8L-94.6 -248.9L-86.9 -251.4 M-86.9 -140.8L-95.9 -137.0L-102.1 -135.8L-110.9 -132.0L-122.1 -128.2L-125.9 -124.5L-124.6 -116.5 M-95.9 -250.5L-89.6 -252.0L-84.0 -250.1L-79.6 -245.8L-74.6 -246.4L-69.0 -244.5L-62.1 -239.5L-59.0 -233.2L-60.3 -223.2L-65.9 -218.9L-70.9 -214.5L-72.8 -210.8L-70.3 -204.5L-64.0 -207.6L-58.4 -208.9L-50.9 -208.2L-44.6 -203.9L-47.8 -199.5L-53.4 -195.8L-59.6 -195.1L-62.1 -191.4L-59.0 -186.4L-54.6 -183.2L-49.6 -181.4L-44.6 -177.0L-46.5 -171.4L-51.5 -166.4L-53.4 -159.5L-57.1 -154.5L-61.5 -152.0L-64.6 -145.8L-70.9 -146.4L-75.9 -144.5L-80.9 -145.1L-87.1 -141.4L-95.9 -139.5 M-63.6 -246.4L-59.6 -248.2L-55.9 -247.2L-58.4 -244.8L-62.4 -244.2Z M-44.0 -222.6L-39.6 -225.1L-35.9 -223.9L-31.5 -223.2L-33.4 -220.8L-38.4 -221.4L-42.1 -221.4Z M-71.5 -297.0L-69.0 -300.1L-65.9 -302.0L-63.1 -304.5L-59.6 -307.6L-59.0 -305.1L-62.1 -302.0L-65.3 -299.5L-67.8 -296.4L-70.3 -295.1Z M-86.9 -281.8L-83.4 -285.8L-79.0 -290.1L-78.1 -288.2L-82.8 -280.8L-86.9 -275.1 M-33.4 -317.2L-31.5 -318.2L-29.9 -317.0L-31.5 -315.8Z M-20.9 -321.0L-17.8 -322.0L-15.9 -320.8L-18.4 -319.8Z M-13.4 -321.4L-10.3 -322.0L-9.0 -320.5L-11.5 -319.8Z M68.9 -289.8L71.0 -290.1L72.2 -287.0L71.6 -283.9L69.7 -285.1Z M134.7 -304.5L139.1 -306.0L141.0 -304.5L137.9 -302.6Z M163.1 -207.6L155.4 -209.5L149.1 -214.5L145.4 -217.6L139.1 -219.5L135.4 -223.2L130.4 -222.6L127.9 -227.0L125.4 -230.8L119.1 -233.9L111.6 -237.0L109.1 -233.2L102.9 -227.0L95.4 -222.0L87.9 -222.6L81.6 -225.8L84.1 -230.8L85.4 -235.8L79.1 -232.0L71.6 -229.5L67.9 -224.5L62.9 -223.9L65.4 -229.5L70.4 -235.8L79.1 -240.8L89.1 -245.8L99.1 -250.1L109.1 -253.2L114.1 -258.2L119.1 -264.5L122.9 -273.2L126.6 -283.2L129.1 -292.0L130.4 -300.8L125.4 -299.5L119.1 -295.8L114.1 -290.8L109.1 -291.4L104.1 -287.0L99.1 -284.5L94.1 -283.2L91.6 -277.0L86.6 -275.8L82.9 -272.0L84.1 -265.8L80.4 -262.0L84.1 -258.2L81.6 -253.2L76.6 -252.0L71.6 -248.2L65.4 -247.6L60.4 -245.8L55.4 -247.6L50.4 -245.1L44.1 -249.5L39.7 -252.0L34.1 -244.5L26.6 -240.8L16.6 -237.0L7.9 -233.9L2.9 -233.2L4.1 -227.0L6.0 -219.5L10.4 -218.2L10.4 -214.5L4.1 -213.9L0.4 -207.0L-2.8 -202.0L-5.9 -208.2L-10.9 -209.5L-15.9 -212.0L-20.9 -215.8L-25.9 -216.4L-28.4 -209.5L-32.1 -205.8L-35.3 -201.4L-30.9 -197.0L-24.6 -194.5L-18.4 -193.2L-14.6 -189.5L-8.4 -184.5L-0.9 -179.5L6.6 -175.8L14.1 -172.6L21.6 -170.8L27.9 -168.9L29.1 -174.5L31.6 -177.6L34.1 -173.2L32.9 -169.5L37.9 -170.8L42.9 -168.2L49.1 -165.8L56.6 -163.2L60.4 -158.2L59.1 -154.5L62.9 -149.5L69.1 -146.4L74.1 -143.2L77.2 -138.2L79.1 -133.2L82.9 -127.0L87.9 -120.8L91.6 -116.5 M70.4 -253.9L74.1 -255.1L77.2 -254.5L74.7 -252.2L71.6 -252.0Z M-7.1 -160.8L-2.1 -163.2L4.1 -164.5L3.5 -160.8L-0.9 -157.6L-5.3 -157.6Z M154.1 -209.5L160.4 -208.0L169.1 -209.2L179.1 -211.1L189.1 -212.6L199.1 -214.2L206.6 -213.0L210.6 -209.8L211.0 -214.5L209.1 -219.2L206.4 -221.4L210.4 -223.2L208.1 -227.0L204.4 -225.5L201.6 -229.5L198.1 -232.0L196.1 -235.8L195.6 -240.1L197.6 -244.8L200.6 -249.2L204.7 -253.2L208.5 -256.8L211.9 -259.2L214.4 -261.0 M198.1 -271.0L197.4 -262.0L195.6 -252.0L193.9 -244.5L196.4 -242.2L199.4 -249.2L203.1 -256.8L205.6 -263.9L206.9 -265.8 M197.9 -219.5L200.4 -221.0L202.2 -219.2L200.4 -217.0Z M-200.3 12.2L-202.1 14.8L-205.9 12.2L-210.9 9.1L-215.9 6.6L-220.9 3.5L-222.1 -0.9L-225.9 -3.4L-229.6 -4.6L-232.1 -9.2L-235.3 -10.2L-237.1 -12.8L-242.1 -15.9L-247.1 -18.4L-253.4 -20.9L-259.6 -21.2L-264.6 -19.0L-268.4 -15.0L-274.0 -14.0L-278.4 -11.5L-279.6 -7.8L-278.4 -4.0L-280.9 2.2L-283.4 7.2L-287.1 11.0L-289.0 16.0L-290.9 21.0L-292.1 27.2L-292.8 33.5L-293.4 39.8L-295.9 41.2L-303.4 42.5L-308.4 46.0L-314.6 48.8L-320.9 55.4L-323.4 57.9L-319.0 60.0L-314.6 62.5L-312.1 64.4L-308.4 61.0L-302.1 58.5L-297.1 56.0L-294.4 54.1L-292.1 57.2L-287.1 61.0L-280.9 66.2L-275.9 65.4L-269.6 62.2L-264.6 58.5L-262.1 54.8L-258.4 52.2L-253.4 54.1L-249.6 55.0L-245.9 52.2L-240.9 51.0L-237.1 49.8L-232.8 48.2L-229.6 49.8L-227.8 53.5L-227.1 58.5L-227.5 64.8L-229.0 71.0L-230.9 76.0L-232.1 81.0L-233.4 86.0L-235.9 89.8L-239.6 91.0L-243.4 93.8L-245.9 98.5L-247.1 103.5L-248.4 106.5 M-225.9 17.9L-222.8 14.1L-218.4 13.5L-213.4 12.9L-208.4 14.1L-203.4 15.4L-207.1 17.9L-210.9 21.0L-213.4 26.0L-215.9 31.0L-219.6 36.6L-222.8 34.8L-220.9 29.8L-218.4 24.8L-216.5 21.0L-219.6 18.5L-222.8 20.4Z M-234.0 29.1L-231.5 27.2L-229.0 29.8L-230.3 32.9L-232.8 31.6Z M-237.1 42.2L-233.4 41.2L-231.5 43.5L-235.3 44.8Z M-285.9 50.4L-282.1 49.1L-279.0 51.6L-280.9 55.4L-284.0 54.1Z M-312.1 46.0L-309.0 45.4L-307.8 48.5L-310.3 50.4Z M-247.8 -94.6L-245.9 -91.5L-244.0 -87.8L-242.1 -85.2L-244.6 -82.1L-247.1 -79.0L-249.0 -82.8L-248.4 -87.8L-249.4 -91.5Z M-219.6 -110.2L-218.4 -105.2L-213.4 -100.2L-215.3 -96.5L-217.8 -91.5L-216.5 -85.2L-217.1 -79.0L-219.6 -75.9L-220.9 -81.5L-221.5 -87.8L-222.8 -94.0L-225.3 -100.2L-224.0 -105.2L-222.1 -109.0Z M-277.4 -63.4L-273.4 -61.5L-268.4 -59.6L-264.0 -56.5L-266.5 -55.0L-270.9 -57.8L-275.3 -59.6Z M-329.6 -39.0L-325.9 -41.5L-320.9 -41.5L-319.0 -44.6L-313.4 -47.1L-307.1 -48.8L-303.4 -47.8L-302.8 -44.0L-304.6 -41.5L-310.9 -39.6L-315.9 -37.8L-320.9 -36.5L-325.9 -36.5L-328.4 -37.1Z M-184.6 -109.6L-182.1 -111.8L-178.9 -114.9L-176.1 -115.6L-175.8 -112.1L-176.7 -108.3L-173.9 -107.1L-171.4 -110.9L-168.3 -115.2L-166.7 -117.1L-167.0 -112.7L-167.7 -108.3L-168.9 -104.0L-170.2 -97.7L-171.4 -95.8L-173.3 -98.9L-175.2 -97.7L-177.7 -93.6L-180.2 -96.4L-182.1 -98.3L-179.6 -100.2L-177.1 -101.4L-180.2 -103.3L-182.7 -104.6L-184.0 -107.1Z M-127.8 -117.1L-129.4 -110.9L-133.1 -109.6L-131.3 -107.1L-130.0 -103.3L-130.6 -101.8L-135.0 -102.1L-138.8 -102.7L-141.9 -102.1L-140.7 -96.4L-143.2 -98.3L-145.7 -98.9L-146.9 -97.7L-145.4 -95.2L-146.3 -91.4L-147.6 -89.5L-150.7 -88.9L-154.5 -87.0L-157.6 -84.5L-160.1 -81.4L-163.3 -77.6L-165.8 -76.3L-168.9 -75.7L-169.5 -78.9L-170.8 -80.7L-172.7 -77.6L-173.3 -75.7L-175.2 -74.5L-175.8 -70.1L-176.4 -64.4L-179.6 -61.9L-181.5 -60.4L-179.6 -58.2L-177.1 -59.4L-175.2 -60.4L-173.9 -58.2L-173.3 -53.8L-173.9 -50.0L-175.8 -47.5L-178.9 -45.6L-182.1 -43.1L-184.6 -40.0L-186.5 -36.8L-188.4 -33.1L-188.7 -28.7L-185.8 -27.4L-183.3 -26.2L-181.5 -24.9L-178.9 -27.4L-176.4 -29.6L-174.6 -27.4L-172.7 -25.5L-170.8 -24.3L-173.3 -22.4L-175.8 -20.5L-178.9 -18.6L-182.1 -19.9L-184.0 -22.4L-186.5 -21.8L-189.0 -21.1L-191.2 -19.6L-188.4 -17.4L-186.5 -14.9L-184.0 -13.0L-180.8 -12.4L-178.3 -13.6L-175.8 -12.4L-173.3 -13.6L-170.8 -16.1L-168.3 -18.0L-165.8 -19.3L-162.6 -18.6L-159.5 -16.8L-157.0 -14.9L-154.5 -13.0L-150.7 -11.7L-146.9 -11.1L-143.2 -11.1L-139.4 -10.5L-136.9 -8.6L-135.7 -4.2 M-168.9 -72.6L-165.8 -72.0L-162.6 -72.3L-160.7 -75.1L-158.2 -77.6L-155.7 -78.2L-153.2 -77.0L-153.8 -72.6L-154.8 -68.2L-154.5 -64.4L-152.6 -65.7L-150.7 -68.8L-148.8 -72.6L-146.3 -75.1L-143.8 -76.3L-141.3 -75.1L-138.8 -76.3L-136.3 -75.7L-134.4 -73.8L-132.5 -72.0L-131.3 -69.4L-130.3 -65.1L-129.7 -61.3L-130.3 -58.8L-133.1 -57.5L-135.7 -58.8L-135.0 -56.3L-136.3 -53.8L-137.5 -51.9L-138.2 -48.7L-140.0 -46.9L-141.3 -45.6L-139.4 -43.7L-136.9 -41.8L-134.4 -40.6L-133.8 -38.1L-136.3 -36.2L-138.8 -36.8L-141.3 -38.7L-144.4 -40.0L-147.6 -40.3L-150.7 -40.0L-153.8 -40.9L-157.0 -41.2L-159.5 -39.3L-162.0 -36.8L-163.9 -34.3L-165.8 -31.8L-167.7 -31.2L-169.5 -33.7L-170.5 -35.6L-172.0 -34.9L-173.3 -37.5L-174.6 -41.2L-175.2 -43.7L-173.3 -46.2L-170.8 -48.1L-168.9 -48.7L-169.5 -51.3L-170.2 -55.0L-170.8 -60.0L-170.2 -64.4L-169.5 -68.8Z M-135.7 -87.6L-132.5 -88.0L-129.4 -87.6L-125.6 -88.6L-123.7 -86.4L-121.9 -83.9L-120.0 -81.4L-117.5 -78.9L-114.3 -77.6L-112.4 -76.3L-112.8 -72.6L-113.7 -69.4L-116.8 -66.3L-119.3 -63.2L-122.5 -62.2L-125.6 -61.3L-128.1 -60.4L-129.4 -61.3L-130.0 -65.1L-131.0 -69.4L-132.2 -72.0L-133.8 -74.5L-135.7 -76.3L-137.2 -79.5L-136.3 -83.9Z M-103.0 -65.7L-99.9 -66.3L-97.4 -65.4L-96.1 -61.9L-94.9 -56.9L-94.3 -52.5L-94.9 -48.7L-97.4 -47.5L-99.3 -50.0L-101.8 -51.3L-103.0 -52.5L-104.3 -49.4L-106.8 -47.5L-110.6 -46.2L-114.3 -45.0L-116.2 -43.7L-116.8 -41.8L-113.1 -41.2L-109.3 -40.0L-107.4 -38.1L-110.6 -37.5L-113.1 -36.2L-116.2 -34.3L-119.3 -34.9L-121.9 -36.2L-122.5 -40.0L-121.9 -44.4L-123.1 -48.7L-122.5 -51.9L-120.0 -53.8L-117.5 -53.1L-116.2 -51.9L-114.3 -53.8L-113.1 -56.3L-110.6 -58.2L-108.1 -60.0L-105.5 -62.5Z M-110.6 -58.2L-106.8 -53.8 M-108.1 -59.7L-104.3 -54.4 M-105.5 -60.7L-102.4 -56.3 M-99.9 -41.8L-97.4 -43.7L-94.3 -44.4L-91.7 -42.5L-90.5 -39.3L-91.1 -35.6L-93.0 -32.4L-95.5 -33.1L-98.0 -35.6L-99.9 -38.7Z M-94.9 -43.7L-94.3 -38.1L-94.9 -33.7 M-157.0 -24.9L-153.2 -26.8L-149.5 -28.7L-148.8 -31.2L-145.7 -32.1L-143.2 -32.4L-142.6 -29.3L-142.9 -26.8L-140.7 -27.4L-137.5 -28.0L-135.0 -26.2L-134.4 -23.0L-136.3 -21.1L-134.4 -18.6L-136.9 -18.0L-139.4 -18.9L-141.9 -19.9L-143.8 -18.0L-146.3 -16.8L-149.5 -16.4L-152.6 -17.1L-154.5 -18.0L-155.4 -21.1Z M-123.7 -28.7L-120.0 -29.3L-116.2 -29.6L-111.8 -29.0L-114.3 -26.8L-117.5 -25.5L-120.0 -24.9L-117.5 -23.7L-113.7 -23.0L-111.8 -21.1L-112.4 -18.6L-115.0 -16.8L-118.7 -16.1L-122.5 -16.8L-125.6 -18.0L-126.9 -20.5L-125.6 -23.0L-123.1 -24.3L-121.9 -26.2Z M-95.5 -24.3L-93.0 -25.5L-89.9 -26.2L-87.3 -24.9L-88.6 -22.4L-91.1 -19.9L-94.3 -18.0L-96.8 -16.8L-98.0 -14.2L-95.5 -13.0L-94.3 -11.1L-96.8 -9.9L-99.9 -10.5L-101.8 -13.0L-102.4 -16.1L-100.5 -18.6L-98.0 -21.1Z M-123.7 -31.8L-121.9 -32.4L-120.0 -31.2L-121.2 -29.9L-123.1 -30.2Z M-108.1 -28.0L-104.9 -28.7L-101.8 -27.7L-102.4 -26.5L-105.5 -26.8L-107.4 -26.5Z M-87.3 -13.0L-84.8 -13.6L-83.0 -12.4L-84.8 -11.1L-86.7 -11.4Z M-130.0 -9.9L-128.1 -13.0L-125.6 -14.2L-123.7 -12.4L-124.4 -9.2L-127.5 -8.6Z M-116.8 -4.2L-116.2 -7.3L-114.3 -9.9L-111.8 -11.1L-111.2 -8.6L-112.4 -4.2 M-107.4 -4.2L-106.8 -7.3L-104.9 -9.9L-103.0 -8.6L-103.7 -4.2 M-175.8 -4.2L-172.7 -7.3L-168.3 -8.6L-163.3 -10.5L-157.0 -11.1L-153.2 -9.9L-149.5 -8.6L-146.9 -4.2 M-182.7 0.2L-180.2 1.1L-178.9 3.7L-182.1 6.2L-187.1 6.8L-190.9 7.4L-193.4 9.6L-190.9 11.2L-188.4 11.2L-187.1 13.1L-184.6 14.3L-180.8 14.3L-177.1 14.0L-173.3 13.7L-170.8 14.9 M-200.9 23.7L-197.8 26.2L-194.0 28.7L-189.6 29.4L-187.7 25.6L-184.6 25.0L-180.8 26.9L-176.4 26.2L-175.2 23.1L-173.3 21.8L-171.4 19.3 M-170.8 30.6L-165.8 35.0L-167.7 38.2L-169.5 41.3L-172.0 43.8L-175.8 44.4L-176.4 47.6L-177.7 52.0L-180.2 55.1L-184.6 58.9L-188.4 57.6L-192.1 55.7L-195.9 53.8L-198.4 57.6L-200.9 57.0 M-189.0 43.8L-185.8 41.9L-182.1 42.6L-180.2 45.7L-182.1 48.8L-185.8 49.5L-188.4 46.9Z M-170.8 30.6L-171.4 25.6L-170.2 20.6L-170.8 14.9L-169.5 10.6L-167.0 6.2L-163.3 2.4L-158.2 0.5L-153.2 -0.1L-148.8 0.5L-144.4 2.4L-140.7 4.9L-138.2 8.0L-137.5 12.4L-138.2 16.2L-136.9 19.3L-136.3 24.4L-135.7 28.1L-136.9 31.9L-140.7 33.1L-143.2 32.5L-144.4 33.1L-145.1 36.3L-143.8 39.4L-146.9 41.3L-149.5 42.6L-150.1 45.7L-151.3 49.5L-152.6 52.6L-153.8 55.7L-155.1 58.9L-155.7 62.0L-157.0 64.5L-159.5 65.1L-162.0 66.4L-163.3 69.5L-165.8 67.6L-168.3 68.3L-170.2 68.9L-170.8 72.0L-171.4 75.8L-170.8 77.7L-171.4 80.8L-172.0 84.6L-173.3 89.6L-173.9 93.4L-174.6 95.2L-178.3 95.9L-182.7 96.5L-184.6 95.2L-187.1 94.0L-189.6 93.4L-190.9 91.5L-190.9 89.6L-189.0 86.5L-187.7 83.3L-185.8 78.9L-188.4 78.3L-191.5 80.2L-194.0 83.3L-195.3 87.1L-196.5 90.9L-199.0 93.4L-200.9 94.0 M-150.7 23.1L-146.9 23.7L-143.2 21.8L-139.4 22.5L-136.9 23.7 M-147.6 25.0L-145.7 26.9L-144.4 29.4L-143.2 32.5 M-156.4 12.4L-153.2 9.9L-148.8 9.0L-144.4 9.6L-140.7 11.8L-138.2 14.3 M-133.1 -5.1L-133.1 1.8L-132.5 8.0L-131.3 14.3L-130.6 18.7L-128.1 21.2L-124.4 21.8L-121.9 19.3L-121.2 14.3L-122.5 10.6L-122.5 5.5L-121.2 1.8L-119.3 0.5L-116.2 1.1L-116.8 5.5L-116.8 10.6L-116.2 16.2L-113.7 19.3L-110.6 21.2L-108.1 20.6L-105.5 21.8L-102.4 21.8L-99.9 23.7L-96.8 25.0L-93.0 24.4L-89.2 25.0L-86.1 26.9L-83.0 28.7L-79.2 30.0L-75.4 31.3L-70.4 31.9 M-116.2 1.1L-111.8 3.7L-108.1 6.2L-104.9 5.5L-102.4 7.4L-99.3 6.8L-95.5 8.0L-91.7 7.4L-88.0 5.5L-84.2 4.9L-81.7 8.0L-79.2 12.4L-76.7 16.2L-77.9 11.2L-78.6 6.8L-76.7 3.0L-73.5 0.5L-70.4 -0.7 M-70.4 32.5L-75.4 31.6L-79.2 30.9L-81.7 33.1L-79.2 35.7L-81.7 37.5L-84.8 36.9L-88.0 34.4L-90.5 31.9L-94.3 30.0L-96.8 30.6L-98.0 33.1L-99.3 35.7L-101.2 38.8L-103.0 36.9L-105.5 38.2L-107.4 40.7L-109.3 41.9L-110.6 45.7L-109.9 48.8L-107.4 51.3L-105.5 54.5L-104.9 58.2L-104.9 62.0L-105.5 64.5L-108.1 66.4L-109.3 68.9L-111.8 72.7L-114.3 75.8L-117.5 78.9L-120.6 81.4L-124.4 84.0L-127.5 86.5L-130.0 88.3L-130.6 90.9L-128.8 93.4L-125.6 93.4L-126.9 95.9L-128.1 99.0L-127.5 102.1L-130.0 104.7L-131.9 100.9L-133.1 97.1L-136.3 98.4L-139.4 99.6L-141.9 100.9L-142.6 104.0L-141.3 107.8 M-70.9 -6.5L-67.1 -5.2L-74.6 -3.4L-77.1 -0.2L-82.1 2.2L-79.6 8.5L-77.1 16.0L-79.6 9.8L-83.4 4.8L-88.4 7.2L-93.4 6.6 M-74.6 -3.4L-69.6 -0.2L-64.6 4.8L-59.6 11.0L-57.1 18.5L-55.9 24.8L-58.4 31.0L-62.1 32.9L-67.1 33.5L-72.1 31.6L-77.1 32.2L-79.6 36.0L-83.4 36.6 M-86.9 -13.8L-84.9 -15.0L-83.4 -13.2L-85.1 -11.8Z M-62.1 32.9L-57.1 35.4L-53.4 39.8L-49.6 42.2L-44.6 42.9L-39.6 44.1L-34.6 46.0L-29.6 48.5L-25.9 52.2L-23.4 57.2L-24.6 61.0L-28.4 59.8L-33.4 61.0L-29.6 64.8L-25.9 67.2L-30.9 69.8L-25.9 69.8L-20.9 68.5L-15.9 71.0L-14.6 74.8L-18.4 79.8L-22.1 84.8L-25.9 89.8L-29.6 94.8L-32.1 99.8L-34.6 107.2 M60.4 37.2L64.1 33.5L69.1 31.6L72.2 34.8L71.6 41.0L72.9 46.0L69.1 49.8L65.4 47.2L62.9 42.2Z M64.1 37.2L67.9 39.8L70.4 38.5 M63.5 41.6L67.9 44.1L71.6 43.5 M57.2 54.8L60.4 52.9L64.1 54.8L62.9 58.5L58.5 57.9Z M104.1 42.2L106.6 40.4L109.7 42.9L110.4 49.8L111.0 58.5L112.9 66.0L116.6 73.5L121.6 81.0L127.9 88.5L134.1 92.2L137.9 92.9L136.6 96.0L131.6 97.9L125.4 96.0L119.1 91.0L114.1 83.5L109.1 74.8L106.0 66.0L104.1 57.2L103.5 48.5Z M75.4 -7.8L79.1 -10.2L84.1 -14.0L89.1 -19.0L92.9 -24.0L97.9 -25.9L101.0 -21.5L101.6 -16.5L99.1 -12.8L95.4 -9.0L91.6 -6.5L89.1 -2.8L82.9 -2.1L77.9 -4.0Z M89.1 -19.0L95.4 -16.5L99.1 -12.8 M72.9 -101.5L76.6 -104.0L81.6 -102.8L86.6 -99.0L87.9 -94.0L84.1 -90.2L79.1 -89.0L76.6 -92.8L72.9 -95.2L71.6 -99.0Z M62.2 -110.2L65.4 -112.8L69.1 -109.0L67.9 -104.6L64.1 -106.5Z M82.9 -112.8L86.6 -114.0L89.1 -110.2L86.6 -106.5L83.5 -107.8Z M91.6 -116.5L95.4 -117.1L98.5 -114.6L95.4 -112.8L92.2 -113.4Z M106.6 -117.8L111.6 -112.8L116.6 -110.2L120.4 -107.8L124.1 -104.0L122.9 -99.0L116.6 -96.5L114.1 -91.5L115.4 -84.0L116.6 -79.0L121.6 -76.5L125.4 -71.5L126.6 -66.5L127.9 -61.5L130.4 -55.2L129.1 -49.0L134.1 -45.2L138.5 -41.5L135.4 -40.2L129.1 -44.0L124.1 -46.5L119.1 -50.2L114.1 -50.9L109.1 -46.5L106.6 -41.5L107.9 -35.2L105.4 -30.2L102.9 -26.5L106.6 -24.0L110.4 -26.5L112.9 -21.5L116.6 -16.5L119.1 -10.2L121.6 -4.0L125.4 2.2L129.1 6.0L132.9 8.5L136.6 7.2L139.1 13.5L140.4 21.0L145.4 23.5L149.1 22.2L152.9 19.8L154.1 23.5L151.6 28.5L149.1 33.5L145.4 37.2L141.6 39.8L146.6 41.0L151.6 38.5L156.6 36.0L154.1 42.2L149.1 44.8L141.6 46.0L135.4 47.2L137.9 51.0L144.1 52.2L150.4 51.0L156.6 48.5L164.1 49.8 M121.6 -52.8L124.1 -53.4L125.4 -50.9L122.9 -49.6Z M272.9 -97.8L279.1 -100.2L287.9 -100.9L295.4 -97.8L301.6 -92.8L307.9 -89.0L314.1 -84.0L316.6 -79.0L314.7 -76.5L310.4 -81.5L304.1 -86.5L297.9 -90.2L291.6 -94.0L284.1 -95.9L276.6 -95.9Z M154.1 44.8L159.1 46.0L165.4 48.5L171.6 49.8L174.1 45.4L175.4 49.8L181.6 51.0L186.6 56.0L190.4 62.2L191.6 66.0L187.9 67.2L185.4 61.0L180.4 56.0L174.1 53.5L167.9 52.2L161.6 51.0L156.6 50.4L154.1 49.8 M154.1 68.5L160.4 67.2L166.6 65.4L172.9 67.2L169.1 71.0L165.4 73.5L161.6 78.5L159.1 83.5L156.6 88.5L154.1 91.0 M-228.4 105.2L-230.9 111.5L-234.6 116.5L-238.4 122.8L-242.1 127.8L-244.6 131.5L-249.6 133.4L-252.1 137.8L-253.4 144.0L-255.9 147.8L-253.4 151.5L-255.9 156.5L-253.4 160.2L-257.1 161.5L-256.5 166.5L-255.9 171.5L-258.4 175.2L-262.1 179.0L-265.9 181.5L-270.9 179.0L-275.9 174.0L-283.4 171.5L-289.6 167.8L-295.9 164.0 M-283.4 182.1L-277.1 180.5L-270.9 181.8L-267.8 184.6 M-282.1 187.1L-275.9 184.6L-270.9 186.5 M-310.3 132.1L-307.1 135.2L-303.4 142.8L-299.6 151.5L-295.9 160.2L-294.4 165.5 M-134.6 105.2L-138.4 110.2L-143.4 111.5L-150.9 112.8L-158.4 117.8L-162.1 122.8L-164.6 129.0L-168.4 134.0L-172.1 139.0L-175.9 145.2L-179.6 152.8L-182.1 159.0L-183.4 166.5L-182.1 172.8L-179.0 176.5L-178.4 181.5L-174.6 184.6L-169.6 182.8L-164.6 180.2L-159.6 176.5L-154.6 172.8L-149.6 171.5L-144.6 167.8L-140.9 162.8L-138.4 160.2L-134.6 161.5L-130.9 163.4L-125.9 164.6L-119.6 165.2L-113.4 165.2L-107.1 163.4L-100.9 161.5L-94.6 160.9L-85.9 161.5 M-37.1 105.2L-39.6 111.5L-40.9 119.0L-43.4 122.8L-48.4 126.5L-52.1 131.5L-57.1 132.8L-54.6 136.5L-59.6 139.0L-64.6 141.5L-62.1 145.2L-65.9 149.0L-70.9 150.2L-74.6 150.2L-72.1 154.0L-67.1 156.5L-70.9 159.0L-77.1 160.9L-83.4 161.5L-89.6 161.5L-95.9 160.2 M-87.1 195.9L-83.4 192.8L-84.0 189.0L-79.6 185.9L-76.5 186.5L-77.1 191.5L-72.1 192.8L-69.0 191.5L-64.6 193.4L-59.6 194.0L-54.6 193.4L-50.9 196.5L-49.0 201.5L-49.6 206.5L-53.4 209.0L-58.4 210.2L-63.4 212.1L-68.4 212.8L-73.4 214.0L-77.1 212.1L-80.9 209.0L-84.6 206.5L-82.1 202.8L-83.4 199.0Z M-25.9 161.5L-23.4 159.0L-20.9 159.6L-22.8 162.5Z M124.1 38.0L129.1 41.8L134.1 48.0L136.6 53.0L140.4 58.0L145.4 61.8L149.1 65.5L154.1 68.0L159.1 69.2L165.4 66.8L171.6 65.5L167.9 70.5L161.6 75.5L155.4 80.5L149.1 84.2L144.1 85.5L143.5 88.0L149.1 88.0L155.4 86.8L159.1 90.5L157.9 94.2L154.1 96.8L155.4 101.8L151.6 105.5L146.6 108.0 M134.1 48.0L139.1 45.5L144.1 44.9L149.1 46.8L155.4 48.0 M16.6 87.5L18.6 85.1L22.4 83.6L25.3 82.2L26.8 79.3L28.2 76.4L31.1 75.4L35.0 74.9L38.4 74.9L39.8 77.4L39.6 81.2L37.9 84.1L35.0 85.6L32.1 85.1L30.2 86.5L31.6 88.5L34.0 89.9L36.9 91.8L39.8 93.8L42.7 95.7L44.2 96.7L41.7 98.6L38.8 100.0L38.4 96.7L35.5 93.8L33.5 93.3L33.1 96.2L33.5 101.0L34.0 105.8L33.8 110.2L31.1 108.7L28.2 106.3L25.8 103.4L24.4 100.0L24.9 98.1L22.4 97.6L19.5 94.7L17.1 91.3Z M26.8 79.3L29.2 81.2L31.1 83.6L32.1 85.1 M172.2 69.9L168.4 71.8L162.6 74.7L156.8 77.6L152.0 80.5L147.1 83.4L143.3 84.4L144.3 87.3L149.1 88.2L152.9 87.3L156.8 89.2L158.7 94.0L154.9 96.9L152.0 100.8L152.9 105.6L149.1 108.5L145.2 110.4L143.3 116.2L144.3 122.0L146.2 127.8L145.2 132.6L141.4 133.6L137.5 129.7L133.6 127.8L129.8 128.8L125.9 131.7L128.8 132.6L133.6 133.6L137.5 135.5L140.4 137.5L139.4 141.3L137.5 144.2L139.4 147.1L138.5 151.0L135.6 153.9L134.6 157.7L137.5 161.6L141.4 164.5L136.5 165.5L131.7 166.4L127.8 169.3L128.8 172.2L133.6 172.2L136.5 174.1L134.6 177.0L130.7 178.0L124.9 178.0L121.1 176.1L118.2 172.2L114.3 168.4L109.5 166.4L104.7 165.0L109.5 165.5L115.3 165.0L121.1 163.5L125.9 161.6L129.8 158.7L131.2 154.8L130.7 151.0L127.8 147.1L123.0 144.7L117.2 143.7L110.5 143.7L104.7 144.2L99.9 145.2L95.0 146.2L91.2 147.1L87.3 149.1L82.5 149.1L86.3 145.2L83.4 143.3L78.6 144.2L75.7 148.1L72.8 146.2L69.9 151.0L66.1 150.0L64.1 154.8L60.3 158.7L55.4 161.6L52.6 166.4L50.6 170.3L47.7 174.1L43.9 179.0L45.8 179.0L41.9 184.8L43.9 183.8L47.7 180.9 M132.2 116.2L134.6 113.8L137.5 114.3L138.5 117.2L136.5 119.6L133.6 119.1Z M48.7 179.9L47.7 185.7L46.8 192.4L45.8 199.2L43.9 206.0L41.9 211.8L39.0 217.5L37.1 222.4L34.2 222.4L33.2 226.2L29.4 228.2L27.5 232.0L24.6 234.9L21.7 237.8L20.2 240.7L21.7 244.6L21.7 249.4L23.1 254.2L25.5 257.1L25.0 260.0L27.0 261.9L26.5 265.8L28.4 267.7L32.3 269.2L36.1 268.7L40.0 266.3L42.9 262.9L45.8 259.1L47.7 256.2L49.7 258.1L51.6 261.9L54.5 266.8L57.4 271.6L60.3 275.5L63.2 278.4L64.1 281.3L65.1 284.1L68.0 284.6L70.9 284.1L71.9 280.3L74.8 277.4L77.7 276.4L78.6 272.6L78.1 266.8L78.6 261.0L79.6 255.2L80.5 251.3L82.5 248.9L81.5 245.5L81.5 241.7L79.6 238.8L76.7 236.8L73.8 234.0L71.9 230.1L70.9 225.3L71.9 220.4L73.8 215.6L75.7 210.8L77.7 206.0L78.6 201.1L77.7 198.2L78.6 194.4L78.6 191.5L81.5 189.6L85.4 188.1L89.2 189.1L91.2 192.4L90.2 197.3L88.3 202.1L86.8 207.9L85.4 213.7L85.4 218.5L87.3 222.4L89.2 226.2L90.2 230.1L93.1 232.5L97.9 233.5L102.7 232.5L106.6 230.1L110.5 226.7L114.3 223.8L118.2 221.9L123.0 220.9L125.9 221.4L123.0 225.3L122.1 229.1L118.2 231.1L114.3 232.5L111.4 234.0L108.5 236.8L105.6 239.7L104.7 243.6L107.6 246.5L111.4 245.5L113.8 249.4L114.3 254.2L111.4 256.6L107.6 255.7L104.7 254.2L102.7 256.2L101.8 260.0L102.3 263.9L103.7 267.7L104.7 272.6L103.7 276.4L101.8 279.3L100.8 283.2L97.9 284.6L95.0 282.2L92.1 283.2L89.2 285.1L86.3 287.0L83.4 289.9L80.5 292.8L76.7 294.8L72.8 295.2L69.9 293.8L68.0 291.9L66.1 294.8L63.2 296.7L60.3 299.1L57.4 300.1L55.4 296.7L52.6 295.7L49.7 292.8L48.7 289.0L50.6 285.1L52.6 282.2L51.6 279.3L50.6 275.5L51.1 271.6L48.7 270.6L45.8 272.6L42.9 275.5L41.0 279.3L40.5 284.1L41.9 288.0L43.9 291.9L45.8 295.7L46.8 300.6L44.8 305.4L41.0 307.3L37.1 308.3L33.2 310.2L29.4 312.1L26.5 314.1L24.6 317.0L23.6 320.8L21.7 324.7L17.8 328.5L13.9 331.4L10.1 334.3L8.2 338.2L7.7 344.0 M50.1 289.0L52.6 287.0L55.0 289.0L53.5 291.9L51.1 291.9Z M56.9 284.1L60.3 281.3L63.7 282.2L63.2 286.1L60.3 288.0L57.4 287.0Z M56.9 292.4L59.3 290.9L61.7 291.9L59.8 293.8Z M85.9 261.9L87.3 258.6L89.7 257.1L89.7 261.0L88.3 265.3L86.3 264.8Z M100.3 247.5L101.3 243.6L103.7 243.1L104.2 246.5L102.3 249.9Z M122.1 210.8L124.9 207.9L128.8 206.4L132.7 206.9L135.6 209.8L137.5 213.7L136.5 217.5L133.6 220.4L129.8 221.4L125.9 219.5L124.0 215.6Z M130.7 191.5L134.6 190.0L137.5 191.5L139.4 194.4L143.3 195.8L146.2 198.2L145.2 201.1L141.4 200.2L138.5 198.2L135.6 197.3L134.6 194.4Z M27.9 315.0L29.9 313.6L31.8 315.0L30.4 317.0Z M-29.3 337.7L-27.0 336.2L-24.6 335.4L-22.3 334.2L-19.9 334.6L-17.6 333.0L-14.4 332.6L-11.3 333.0L-8.2 332.3L-5.0 331.9L-1.9 332.3L1.2 331.9L4.4 330.7L6.7 329.1L7.5 326.8L6.0 324.4L3.6 322.1L2.0 318.9L1.2 315.0L0.5 311.1L-0.3 307.2L-1.9 304.0L-3.5 301.7L-5.8 299.3L-7.4 297.0L-9.0 293.8L-10.5 290.7L-12.9 288.3L-16.0 287.2L-13.7 285.2L-11.3 282.1L-9.7 278.9L-9.3 275.8L-12.1 275.0L-16.0 274.6L-19.9 274.2L-19.1 271.9L-16.8 270.3L-13.7 268.7L-14.4 266.4L-18.4 266.0L-22.3 266.8L-24.6 268.7L-26.2 271.9L-27.8 275.0L-27.0 277.4L-28.6 279.7L-27.4 282.1L-29.3 284.4L-27.0 286.0L-28.2 288.3L-26.2 289.9L-24.6 292.3L-25.4 294.6L-23.9 297.0L-21.5 297.0L-18.4 296.2L-16.8 298.5L-17.6 301.7L-15.2 303.2L-16.8 305.6L-17.6 308.7L-19.9 309.5L-23.1 309.1L-24.6 311.1L-23.5 313.4L-25.4 315.0L-23.9 317.4L-24.6 319.7L-27.0 320.5L-29.0 322.1L-27.8 324.4L-24.6 325.2L-21.5 326.0L-18.4 325.6L-16.0 324.8L-17.6 326.8L-19.9 327.5L-23.1 328.3L-24.6 330.7L-27.0 332.3L-29.3 333.8L-32.1 335.8 M-34.0 271.9L-32.5 268.7L-29.3 266.8L-28.6 268.3L-30.9 271.1L-33.3 273.0Z M-56.8 315.0L-54.4 312.6L-52.1 309.5L-50.5 306.4L-52.1 304.0L-50.5 301.7L-51.7 299.3L-49.0 297.7L-45.8 295.4L-43.5 293.0L-40.3 291.9L-37.2 292.3L-34.0 293.8L-31.7 296.2L-30.1 299.3L-30.5 303.2L-31.7 307.2L-32.5 311.1L-33.3 314.2L-34.8 316.6L-38.0 318.1L-41.9 318.9L-45.8 319.7L-49.7 320.5L-53.7 320.1L-56.0 318.1Z M-7.4 252.3L-5.8 250.7L-4.2 251.9L-4.6 254.6L-6.6 255.4Z M-16.0 262.4L-14.4 261.7L-13.0 263.1L-14.3 264.6L-15.8 264.2Z M-30.9 234.6L-27.8 233.4L-25.0 234.6L-27.0 237.0L-29.7 237.0Z"/>
<g transform="translate(0.0 -307.6)"><text class="lb" text-anchor="end" x="8.4" y="16.5">180</text><text class="dg" x="10.4" y="2.6">°</text><text class="lb" x="29.9" y="16.5">E</text></g>
<g transform="translate(-153.8 -266.4) rotate(-30)"><text class="lb" text-anchor="end" x="3.6" y="16.5">150</text><text class="dg" x="5.6" y="2.6">°</text><text class="lb" x="27.2" y="16.5">W</text></g>
<g transform="translate(-266.4 -153.8) rotate(-60)"><text class="lb" text-anchor="end" x="2.6" y="16.5">120</text><text class="dg" x="4.6" y="2.6">°</text><text class="lb" x="26.2" y="16.5">W</text></g>
<g transform="translate(-307.6 0.0) rotate(90)"><text class="lb" text-anchor="end" x="-2.1" y="16.5">90</text><text class="dg" x="-0.1" y="2.6">°</text><text class="lb" x="21.5" y="16.5">W</text></g>
<g transform="translate(-266.4 153.8) rotate(60)"><text class="lb" text-anchor="end" x="-2.4" y="16.5">60</text><text class="dg" x="-0.4" y="2.6">°</text><text class="lb" x="21.2" y="16.5">W</text></g>
<g transform="translate(-153.8 266.4) rotate(30)"><text class="lb" text-anchor="end" x="-2.4" y="16.5">30</text><text class="dg" x="-0.4" y="2.6">°</text><text class="lb" x="21.2" y="16.5">W</text></g>
<g transform="translate(0.0 307.6)"><text class="lb" text-anchor="end" x="13.6" y="16.5">0</text><text class="dg" x="15.6" y="2.6">°</text></g>
<g transform="translate(153.8 266.4) rotate(-30)"><text class="lb" text-anchor="end" x="1.9" y="16.5">30</text><text class="dg" x="3.9" y="2.6">°</text><text class="lb" x="23.4" y="16.5">E</text></g>
<g transform="translate(266.4 153.8) rotate(-60)"><text class="lb" text-anchor="end" x="2.1" y="16.5">60</text><text class="dg" x="4.1" y="2.6">°</text><text class="lb" x="23.6" y="16.5">E</text></g>
<g transform="translate(307.6 0.0) rotate(-90)"><text class="lb" text-anchor="end" x="1.5" y="16.5">90</text><text class="dg" x="3.5" y="2.6">°</text><text class="lb" x="23.0" y="16.5">E</text></g>
<g transform="translate(266.4 -153.8) rotate(60)"><text class="lb" text-anchor="end" x="8.4" y="16.5">120</text><text class="dg" x="10.4" y="2.6">°</text><text class="lb" x="29.9" y="16.5">E</text></g>
<g transform="translate(153.8 -266.4) rotate(30)"><text class="lb" text-anchor="end" x="8.4" y="16.5">150</text><text class="dg" x="10.4" y="2.6">°</text><text class="lb" x="29.9" y="16.5">E</text></g>
<g transform="translate(0.0 -255.4)"><text class="lb" text-anchor="end" x="-6.6" y="16.5">60</text><text class="dg" x="-4.6" y="3.6">°</text><text class="lb" x="14.9" y="16.5">N</text></g>
<g transform="translate(0.0 -128.8)"><text class="lb" text-anchor="end" x="-5.4" y="16.5">75</text><text class="dg" x="-3.4" y="3.6">°</text><text class="lb" x="16.1" y="16.5">N</text></g>
<path class="yl" d="M-9.6 75.6C-6.9 72.1 -7.3 65.2 -3.9 62.1C-0.5 59.1 5.8 58.9 10.6 57.3C15.4 55.7 20.4 54.1 25.1 52.5C29.8 50.9 34.1 49.2 38.6 47.6C43.1 46.0 47.6 44.4 52.1 42.8C56.6 41.2 60.9 39.3 65.6 38.0C70.3 36.7 75.3 35.3 80.1 35.1C84.9 34.9 90.9 35.4 94.6 37.0C98.3 38.6 100.0 41.3 102.3 44.7C104.5 48.1 106.3 53.0 108.1 57.3C109.9 61.7 111.3 66.1 112.9 70.8C114.5 75.5 118.1 80.9 117.8 85.3C117.5 89.6 113.4 92.9 111.0 96.9C108.6 100.9 106.0 105.2 103.3 109.4C100.6 113.6 97.8 118.0 94.6 121.9C91.4 125.8 87.9 129.7 84.0 132.6C80.1 135.5 75.9 137.5 71.4 139.3C66.9 141.1 61.7 142.1 57.0 143.2C52.3 144.3 47.9 145.6 43.4 146.1C38.9 146.6 34.2 147.9 29.9 146.1C25.6 144.3 22.1 138.4 17.4 135.5C12.7 132.6 6.6 131.6 1.9 128.7C-2.8 125.8 -7.1 121.8 -10.6 118.1C-14.1 114.4 -16.7 110.0 -19.3 106.5C-21.9 103.0 -25.9 100.8 -26.1 96.9C-26.3 93.0 -23.0 86.8 -20.3 83.3C-17.5 79.7 -12.3 79.1 -9.6 75.6Z"/>
<path class="yl" d="M-121.4 26.4C-117.9 25.6 -111.0 29.3 -108.8 32.2C-106.5 35.1 -107.1 39.6 -107.9 43.8C-108.7 48.0 -110.8 53.3 -113.7 57.3C-116.6 61.3 -120.9 66.0 -125.2 67.9C-129.5 69.8 -136.3 70.8 -139.7 68.9C-143.1 67.0 -145.5 60.0 -145.5 56.3C-145.5 52.6 -142.3 49.9 -139.7 46.7C-137.1 43.5 -133.1 40.4 -130.1 37.0C-127.0 33.6 -125.0 27.2 -121.4 26.4Z"/>
<circle r="337.5" fill="none" stroke="#111" stroke-width="2.4"/>
</g>
<g transform="translate(415.9 1430.1)">
<circle class="gl" r="255.4"/>
<circle class="gl" r="128.8"/>
<line class="gl" x1="0" y1="0" x2="0.0" y2="-337.5"/>
<line class="gl" x1="0" y1="0" x2="168.7" y2="-292.3"/>
<line class="gl" x1="0" y1="0" x2="292.3" y2="-168.8"/>
<line class="gl" x1="0" y1="0" x2="337.5" y2="-0.0"/>
<line class="gl" x1="0" y1="0" x2="292.3" y2="168.7"/>
<line class="gl" x1="0" y1="0" x2="168.7" y2="292.3"/>
<line class="gl" x1="0" y1="0" x2="0.0" y2="337.5"/>
<line class="gl" x1="0" y1="0" x2="-168.8" y2="292.3"/>
<line class="gl" x1="0" y1="0" x2="-292.3" y2="168.8"/>
<line class="gl" x1="0" y1="0" x2="-337.5" y2="0.0"/>
<line class="gl" x1="0" y1="0" x2="-292.3" y2="-168.8"/>
<line class="gl" x1="0" y1="0" x2="-168.8" y2="-292.3"/>
<path class="cst" clip-path="url(#mc)" d="M-276.5 -192.0L-272.1 -199.5L-265.9 -204.5L-260.3 -204.8L-262.8 -200.8L-269.0 -195.8L-274.6 -191.8Z M-260.3 -203.9L-257.8 -199.8L-250.9 -198.5L-245.9 -196.8L-239.6 -199.8L-234.0 -199.2L-230.3 -195.8L-227.1 -190.1L-224.0 -194.5L-219.6 -196.0L-215.9 -193.0L-211.5 -195.8L-208.4 -198.2L-204.6 -195.8L-200.9 -200.8L-197.1 -195.8L-192.1 -193.2L-187.1 -197.0L-177.1 -197.6L-165.9 -197.0L-161.5 -201.0L-154.6 -203.9L-145.9 -207.0L-133.4 -209.5L-129.6 -212.0L-131.5 -216.4L-128.4 -222.0L-125.3 -228.9L-122.1 -230.5L-120.9 -224.5L-119.4 -218.9L-121.5 -210.8L-119.0 -215.8L-116.5 -223.2L-116.5 -229.5L-114.4 -235.1L-115.9 -239.5L-112.4 -246.4L-110.9 -254.5L-105.9 -263.2L-100.3 -270.1L-94.0 -276.4L-86.9 -281.8 M-241.5 -210.8L-235.9 -211.8L-232.8 -209.5L-225.9 -210.1L-222.1 -207.0L-224.6 -202.6L-229.0 -205.8L-233.4 -208.2L-238.4 -209.5Z M-217.8 -197.6L-213.4 -197.0L-210.3 -194.5L-213.4 -192.0L-215.9 -194.5Z M-204.0 -201.4L-200.3 -198.2L-195.9 -199.5L-192.1 -193.9L-187.4 -187.6L-191.5 -189.5L-195.9 -193.2L-199.6 -190.1L-205.3 -190.8L-200.9 -194.5Z M-123.4 -251.4L-119.4 -252.0L-120.3 -244.5L-122.1 -237.6L-125.3 -237.6L-127.8 -242.6L-125.3 -247.0Z M-86.9 -275.1L-92.1 -269.5L-97.1 -264.5L-102.1 -254.5L-103.4 -247.0L-98.4 -245.8L-94.6 -248.9L-86.9 -251.4 M-86.9 -140.8L-95.9 -137.0L-102.1 -135.8L-110.9 -132.0L-122.1 -128.2L-125.9 -124.5L-124.6 -116.5 M-95.9 -250.5L-89.6 -252.0L-84.0 -250.1L-79.6 -245.8L-74.6 -246.4L-69.0 -244.5L-62.1 -239.5L-59.0 -233.2L-60.3 -223.2L-65.9 -218.9L-70.9 -214.5L-72.8 -210.8L-70.3 -204.5L-64.0 -207.6L-58.4 -208.9L-50.9 -208.2L-44.6 -203.9L-47.8 -199.5L-53.4 -195.8L-59.6 -195.1L-62.1 -191.4L-59.0 -186.4L-54.6 -183.2L-49.6 -181.4L-44.6 -177.0L-46.5 -171.4L-51.5 -166.4L-53.4 -159.5L-57.1 -154.5L-61.5 -152.0L-64.6 -145.8L-70.9 -146.4L-75.9 -144.5L-80.9 -145.1L-87.1 -141.4L-95.9 -139.5 M-63.6 -246.4L-59.6 -248.2L-55.9 -247.2L-58.4 -244.8L-62.4 -244.2Z M-44.0 -222.6L-39.6 -225.1L-35.9 -223.9L-31.5 -223.2L-33.4 -220.8L-38.4 -221.4L-42.1 -221.4Z M-71.5 -297.0L-69.0 -300.1L-65.9 -302.0L-63.1 -304.5L-59.6 -307.6L-59.0 -305.1L-62.1 -302.0L-65.3 -299.5L-67.8 -296.4L-70.3 -295.1Z M-86.9 -281.8L-83.4 -285.8L-79.0 -290.1L-78.1 -288.2L-82.8 -280.8L-86.9 -275.1 M-33.4 -317.2L-31.5 -318.2L-29.9 -317.0L-31.5 -315.8Z M-20.9 -321.0L-17.8 -322.0L-15.9 -320.8L-18.4 -319.8Z M-13.4 -321.4L-10.3 -322.0L-9.0 -320.5L-11.5 -319.8Z M68.9 -289.8L71.0 -290.1L72.2 -287.0L71.6 -283.9L69.7 -285.1Z M134.7 -304.5L139.1 -306.0L141.0 -304.5L137.9 -302.6Z M163.1 -207.6L155.4 -209.5L149.1 -214.5L145.4 -217.6L139.1 -219.5L135.4 -223.2L130.4 -222.6L127.9 -227.0L125.4 -230.8L119.1 -233.9L111.6 -237.0L109.1 -233.2L102.9 -227.0L95.4 -222.0L87.9 -222.6L81.6 -225.8L84.1 -230.8L85.4 -235.8L79.1 -232.0L71.6 -229.5L67.9 -224.5L62.9 -223.9L65.4 -229.5L70.4 -235.8L79.1 -240.8L89.1 -245.8L99.1 -250.1L109.1 -253.2L114.1 -258.2L119.1 -264.5L122.9 -273.2L126.6 -283.2L129.1 -292.0L130.4 -300.8L125.4 -299.5L119.1 -295.8L114.1 -290.8L109.1 -291.4L104.1 -287.0L99.1 -284.5L94.1 -283.2L91.6 -277.0L86.6 -275.8L82.9 -272.0L84.1 -265.8L80.4 -262.0L84.1 -258.2L81.6 -253.2L76.6 -252.0L71.6 -248.2L65.4 -247.6L60.4 -245.8L55.4 -247.6L50.4 -245.1L44.1 -249.5L39.7 -252.0L34.1 -244.5L26.6 -240.8L16.6 -237.0L7.9 -233.9L2.9 -233.2L4.1 -227.0L6.0 -219.5L10.4 -218.2L10.4 -214.5L4.1 -213.9L0.4 -207.0L-2.8 -202.0L-5.9 -208.2L-10.9 -209.5L-15.9 -212.0L-20.9 -215.8L-25.9 -216.4L-28.4 -209.5L-32.1 -205.8L-35.3 -201.4L-30.9 -197.0L-24.6 -194.5L-18.4 -193.2L-14.6 -189.5L-8.4 -184.5L-0.9 -179.5L6.6 -175.8L14.1 -172.6L21.6 -170.8L27.9 -168.9L29.1 -174.5L31.6 -177.6L34.1 -173.2L32.9 -169.5L37.9 -170.8L42.9 -168.2L49.1 -165.8L56.6 -163.2L60.4 -158.2L59.1 -154.5L62.9 -149.5L69.1 -146.4L74.1 -143.2L77.2 -138.2L79.1 -133.2L82.9 -127.0L87.9 -120.8L91.6 -116.5 M70.4 -253.9L74.1 -255.1L77.2 -254.5L74.7 -252.2L71.6 -252.0Z M-7.1 -160.8L-2.1 -163.2L4.1 -164.5L3.5 -160.8L-0.9 -157.6L-5.3 -157.6Z M154.1 -209.5L160.4 -208.0L169.1 -209.2L179.1 -211.1L189.1 -212.6L199.1 -214.2L206.6 -213.0L210.6 -209.8L211.0 -214.5L209.1 -219.2L206.4 -221.4L210.4 -223.2L208.1 -227.0L204.4 -225.5L201.6 -229.5L198.1 -232.0L196.1 -235.8L195.6 -240.1L197.6 -244.8L200.6 -249.2L204.7 -253.2L208.5 -256.8L211.9 -259.2L214.4 -261.0 M198.1 -271.0L197.4 -262.0L195.6 -252.0L193.9 -244.5L196.4 -242.2L199.4 -249.2L203.1 -256.8L205.6 -263.9L206.9 -265.8 M197.9 -219.5L200.4 -221.0L202.2 -219.2L200.4 -217.0Z M-200.3 12.2L-202.1 14.8L-205.9 12.2L-210.9 9.1L-215.9 6.6L-220.9 3.5L-222.1 -0.9L-225.9 -3.4L-229.6 -4.6L-232.1 -9.2L-235.3 -10.2L-237.1 -12.8L-242.1 -15.9L-247.1 -18.4L-253.4 -20.9L-259.6 -21.2L-264.6 -19.0L-268.4 -15.0L-274.0 -14.0L-278.4 -11.5L-279.6 -7.8L-278.4 -4.0L-280.9 2.2L-283.4 7.2L-287.1 11.0L-289.0 16.0L-290.9 21.0L-292.1 27.2L-292.8 33.5L-293.4 39.8L-295.9 41.2L-303.4 42.5L-308.4 46.0L-314.6 48.8L-320.9 55.4L-323.4 57.9L-319.0 60.0L-314.6 62.5L-312.1 64.4L-308.4 61.0L-302.1 58.5L-297.1 56.0L-294.4 54.1L-292.1 57.2L-287.1 61.0L-280.9 66.2L-275.9 65.4L-269.6 62.2L-264.6 58.5L-262.1 54.8L-258.4 52.2L-253.4 54.1L-249.6 55.0L-245.9 52.2L-240.9 51.0L-237.1 49.8L-232.8 48.2L-229.6 49.8L-227.8 53.5L-227.1 58.5L-227.5 64.8L-229.0 71.0L-230.9 76.0L-232.1 81.0L-233.4 86.0L-235.9 89.8L-239.6 91.0L-243.4 93.8L-245.9 98.5L-247.1 103.5L-248.4 106.5 M-225.9 17.9L-222.8 14.1L-218.4 13.5L-213.4 12.9L-208.4 14.1L-203.4 15.4L-207.1 17.9L-210.9 21.0L-213.4 26.0L-215.9 31.0L-219.6 36.6L-222.8 34.8L-220.9 29.8L-218.4 24.8L-216.5 21.0L-219.6 18.5L-222.8 20.4Z M-234.0 29.1L-231.5 27.2L-229.0 29.8L-230.3 32.9L-232.8 31.6Z M-237.1 42.2L-233.4 41.2L-231.5 43.5L-235.3 44.8Z M-285.9 50.4L-282.1 49.1L-279.0 51.6L-280.9 55.4L-284.0 54.1Z M-312.1 46.0L-309.0 45.4L-307.8 48.5L-310.3 50.4Z M-247.8 -94.6L-245.9 -91.5L-244.0 -87.8L-242.1 -85.2L-244.6 -82.1L-247.1 -79.0L-249.0 -82.8L-248.4 -87.8L-249.4 -91.5Z M-219.6 -110.2L-218.4 -105.2L-213.4 -100.2L-215.3 -96.5L-217.8 -91.5L-216.5 -85.2L-217.1 -79.0L-219.6 -75.9L-220.9 -81.5L-221.5 -87.8L-222.8 -94.0L-225.3 -100.2L-224.0 -105.2L-222.1 -109.0Z M-277.4 -63.4L-273.4 -61.5L-268.4 -59.6L-264.0 -56.5L-266.5 -55.0L-270.9 -57.8L-275.3 -59.6Z M-329.6 -39.0L-325.9 -41.5L-320.9 -41.5L-319.0 -44.6L-313.4 -47.1L-307.1 -48.8L-303.4 -47.8L-302.8 -44.0L-304.6 -41.5L-310.9 -39.6L-315.9 -37.8L-320.9 -36.5L-325.9 -36.5L-328.4 -37.1Z M-184.6 -109.6L-182.1 -111.8L-178.9 -114.9L-176.1 -115.6L-175.8 -112.1L-176.7 -108.3L-173.9 -107.1L-171.4 -110.9L-168.3 -115.2L-166.7 -117.1L-167.0 -112.7L-167.7 -108.3L-168.9 -104.0L-170.2 -97.7L-171.4 -95.8L-173.3 -98.9L-175.2 -97.7L-177.7 -93.6L-180.2 -96.4L-182.1 -98.3L-179.6 -100.2L-177.1 -101.4L-180.2 -103.3L-182.7 -104.6L-184.0 -107.1Z M-127.8 -117.1L-129.4 -110.9L-133.1 -109.6L-131.3 -107.1L-130.0 -103.3L-130.6 -101.8L-135.0 -102.1L-138.8 -102.7L-141.9 -102.1L-140.7 -96.4L-143.2 -98.3L-145.7 -98.9L-146.9 -97.7L-145.4 -95.2L-146.3 -91.4L-147.6 -89.5L-150.7 -88.9L-154.5 -87.0L-157.6 -84.5L-160.1 -81.4L-163.3 -77.6L-165.8 -76.3L-168.9 -75.7L-169.5 -78.9L-170.8 -80.7L-172.7 -77.6L-173.3 -75.7L-175.2 -74.5L-175.8 -70.1L-176.4 -64.4L-179.6 -61.9L-181.5 -60.4L-179.6 -58.2L-177.1 -59.4L-175.2 -60.4L-173.9 -58.2L-173.3 -53.8L-173.9 -50.0L-175.8 -47.5L-178.9 -45.6L-182.1 -43.1L-184.6 -40.0L-186.5 -36.8L-188.4 -33.1L-188.7 -28.7L-185.8 -27.4L-183.3 -26.2L-181.5 -24.9L-178.9 -27.4L-176.4 -29.6L-174.6 -27.4L-172.7 -25.5L-170.8 -24.3L-173.3 -22.4L-175.8 -20.5L-178.9 -18.6L-182.1 -19.9L-184.0 -22.4L-186.5 -21.8L-189.0 -21.1L-191.2 -19.6L-188.4 -17.4L-186.5 -14.9L-184.0 -13.0L-180.8 -12.4L-178.3 -13.6L-175.8 -12.4L-173.3 -13.6L-170.8 -16.1L-168.3 -18.0L-165.8 -19.3L-162.6 -18.6L-159.5 -16.8L-157.0 -14.9L-154.5 -13.0L-150.7 -11.7L-146.9 -11.1L-143.2 -11.1L-139.4 -10.5L-136.9 -8.6L-135.7 -4.2 M-168.9 -72.6L-165.8 -72.0L-162.6 -72.3L-160.7 -75.1L-158.2 -77.6L-155.7 -78.2L-153.2 -77.0L-153.8 -72.6L-154.8 -68.2L-154.5 -64.4L-152.6 -65.7L-150.7 -68.8L-148.8 -72.6L-146.3 -75.1L-143.8 -76.3L-141.3 -75.1L-138.8 -76.3L-136.3 -75.7L-134.4 -73.8L-132.5 -72.0L-131.3 -69.4L-130.3 -65.1L-129.7 -61.3L-130.3 -58.8L-133.1 -57.5L-135.7 -58.8L-135.0 -56.3L-136.3 -53.8L-137.5 -51.9L-138.2 -48.7L-140.0 -46.9L-141.3 -45.6L-139.4 -43.7L-136.9 -41.8L-134.4 -40.6L-133.8 -38.1L-136.3 -36.2L-138.8 -36.8L-141.3 -38.7L-144.4 -40.0L-147.6 -40.3L-150.7 -40.0L-153.8 -40.9L-157.0 -41.2L-159.5 -39.3L-162.0 -36.8L-163.9 -34.3L-165.8 -31.8L-167.7 -31.2L-169.5 -33.7L-170.5 -35.6L-172.0 -34.9L-173.3 -37.5L-174.6 -41.2L-175.2 -43.7L-173.3 -46.2L-170.8 -48.1L-168.9 -48.7L-169.5 -51.3L-170.2 -55.0L-170.8 -60.0L-170.2 -64.4L-169.5 -68.8Z M-135.7 -87.6L-132.5 -88.0L-129.4 -87.6L-125.6 -88.6L-123.7 -86.4L-121.9 -83.9L-120.0 -81.4L-117.5 -78.9L-114.3 -77.6L-112.4 -76.3L-112.8 -72.6L-113.7 -69.4L-116.8 -66.3L-119.3 -63.2L-122.5 -62.2L-125.6 -61.3L-128.1 -60.4L-129.4 -61.3L-130.0 -65.1L-131.0 -69.4L-132.2 -72.0L-133.8 -74.5L-135.7 -76.3L-137.2 -79.5L-136.3 -83.9Z M-103.0 -65.7L-99.9 -66.3L-97.4 -65.4L-96.1 -61.9L-94.9 -56.9L-94.3 -52.5L-94.9 -48.7L-97.4 -47.5L-99.3 -50.0L-101.8 -51.3L-103.0 -52.5L-104.3 -49.4L-106.8 -47.5L-110.6 -46.2L-114.3 -45.0L-116.2 -43.7L-116.8 -41.8L-113.1 -41.2L-109.3 -40.0L-107.4 -38.1L-110.6 -37.5L-113.1 -36.2L-116.2 -34.3L-119.3 -34.9L-121.9 -36.2L-122.5 -40.0L-121.9 -44.4L-123.1 -48.7L-122.5 -51.9L-120.0 -53.8L-117.5 -53.1L-116.2 -51.9L-114.3 -53.8L-113.1 -56.3L-110.6 -58.2L-108.1 -60.0L-105.5 -62.5Z M-110.6 -58.2L-106.8 -53.8 M-108.1 -59.7L-104.3 -54.4 M-105.5 -60.7L-102.4 -56.3 M-99.9 -41.8L-97.4 -43.7L-94.3 -44.4L-91.7 -42.5L-90.5 -39.3L-91.1 -35.6L-93.0 -32.4L-95.5 -33.1L-98.0 -35.6L-99.9 -38.7Z M-94.9 -43.7L-94.3 -38.1L-94.9 -33.7 M-157.0 -24.9L-153.2 -26.8L-149.5 -28.7L-148.8 -31.2L-145.7 -32.1L-143.2 -32.4L-142.6 -29.3L-142.9 -26.8L-140.7 -27.4L-137.5 -28.0L-135.0 -26.2L-134.4 -23.0L-136.3 -21.1L-134.4 -18.6L-136.9 -18.0L-139.4 -18.9L-141.9 -19.9L-143.8 -18.0L-146.3 -16.8L-149.5 -16.4L-152.6 -17.1L-154.5 -18.0L-155.4 -21.1Z M-123.7 -28.7L-120.0 -29.3L-116.2 -29.6L-111.8 -29.0L-114.3 -26.8L-117.5 -25.5L-120.0 -24.9L-117.5 -23.7L-113.7 -23.0L-111.8 -21.1L-112.4 -18.6L-115.0 -16.8L-118.7 -16.1L-122.5 -16.8L-125.6 -18.0L-126.9 -20.5L-125.6 -23.0L-123.1 -24.3L-121.9 -26.2Z M-95.5 -24.3L-93.0 -25.5L-89.9 -26.2L-87.3 -24.9L-88.6 -22.4L-91.1 -19.9L-94.3 -18.0L-96.8 -16.8L-98.0 -14.2L-95.5 -13.0L-94.3 -11.1L-96.8 -9.9L-99.9 -10.5L-101.8 -13.0L-102.4 -16.1L-100.5 -18.6L-98.0 -21.1Z M-123.7 -31.8L-121.9 -32.4L-120.0 -31.2L-121.2 -29.9L-123.1 -30.2Z M-108.1 -28.0L-104.9 -28.7L-101.8 -27.7L-102.4 -26.5L-105.5 -26.8L-107.4 -26.5Z M-87.3 -13.0L-84.8 -13.6L-83.0 -12.4L-84.8 -11.1L-86.7 -11.4Z M-130.0 -9.9L-128.1 -13.0L-125.6 -14.2L-123.7 -12.4L-124.4 -9.2L-127.5 -8.6Z M-116.8 -4.2L-116.2 -7.3L-114.3 -9.9L-111.8 -11.1L-111.2 -8.6L-112.4 -4.2 M-107.4 -4.2L-106.8 -7.3L-104.9 -9.9L-103.0 -8.6L-103.7 -4.2 M-175.8 -4.2L-172.7 -7.3L-168.3 -8.6L-163.3 -10.5L-157.0 -11.1L-153.2 -9.9L-149.5 -8.6L-146.9 -4.2 M-182.7 0.2L-180.2 1.1L-178.9 3.7L-182.1 6.2L-187.1 6.8L-190.9 7.4L-193.4 9.6L-190.9 11.2L-188.4 11.2L-187.1 13.1L-184.6 14.3L-180.8 14.3L-177.1 14.0L-173.3 13.7L-170.8 14.9 M-200.9 23.7L-197.8 26.2L-194.0 28.7L-189.6 29.4L-187.7 25.6L-184.6 25.0L-180.8 26.9L-176.4 26.2L-175.2 23.1L-173.3 21.8L-171.4 19.3 M-170.8 30.6L-165.8 35.0L-167.7 38.2L-169.5 41.3L-172.0 43.8L-175.8 44.4L-176.4 47.6L-177.7 52.0L-180.2 55.1L-184.6 58.9L-188.4 57.6L-192.1 55.7L-195.9 53.8L-198.4 57.6L-200.9 57.0 M-189.0 43.8L-185.8 41.9L-182.1 42.6L-180.2 45.7L-182.1 48.8L-185.8 49.5L-188.4 46.9Z M-170.8 30.6L-171.4 25.6L-170.2 20.6L-170.8 14.9L-169.5 10.6L-167.0 6.2L-163.3 2.4L-158.2 0.5L-153.2 -0.1L-148.8 0.5L-144.4 2.4L-140.7 4.9L-138.2 8.0L-137.5 12.4L-138.2 16.2L-136.9 19.3L-136.3 24.4L-135.7 28.1L-136.9 31.9L-140.7 33.1L-143.2 32.5L-144.4 33.1L-145.1 36.3L-143.8 39.4L-146.9 41.3L-149.5 42.6L-150.1 45.7L-151.3 49.5L-152.6 52.6L-153.8 55.7L-155.1 58.9L-155.7 62.0L-157.0 64.5L-159.5 65.1L-162.0 66.4L-163.3 69.5L-165.8 67.6L-168.3 68.3L-170.2 68.9L-170.8 72.0L-171.4 75.8L-170.8 77.7L-171.4 80.8L-172.0 84.6L-173.3 89.6L-173.9 93.4L-174.6 95.2L-178.3 95.9L-182.7 96.5L-184.6 95.2L-187.1 94.0L-189.6 93.4L-190.9 91.5L-190.9 89.6L-189.0 86.5L-187.7 83.3L-185.8 78.9L-188.4 78.3L-191.5 80.2L-194.0 83.3L-195.3 87.1L-196.5 90.9L-199.0 93.4L-200.9 94.0 M-150.7 23.1L-146.9 23.7L-143.2 21.8L-139.4 22.5L-136.9 23.7 M-147.6 25.0L-145.7 26.9L-144.4 29.4L-143.2 32.5 M-156.4 12.4L-153.2 9.9L-148.8 9.0L-144.4 9.6L-140.7 11.8L-138.2 14.3 M-133.1 -5.1L-133.1 1.8L-132.5 8.0L-131.3 14.3L-130.6 18.7L-128.1 21.2L-124.4 21.8L-121.9 19.3L-121.2 14.3L-122.5 10.6L-122.5 5.5L-121.2 1.8L-119.3 0.5L-116.2 1.1L-116.8 5.5L-116.8 10.6L-116.2 16.2L-113.7 19.3L-110.6 21.2L-108.1 20.6L-105.5 21.8L-102.4 21.8L-99.9 23.7L-96.8 25.0L-93.0 24.4L-89.2 25.0L-86.1 26.9L-83.0 28.7L-79.2 30.0L-75.4 31.3L-70.4 31.9 M-116.2 1.1L-111.8 3.7L-108.1 6.2L-104.9 5.5L-102.4 7.4L-99.3 6.8L-95.5 8.0L-91.7 7.4L-88.0 5.5L-84.2 4.9L-81.7 8.0L-79.2 12.4L-76.7 16.2L-77.9 11.2L-78.6 6.8L-76.7 3.0L-73.5 0.5L-70.4 -0.7 M-70.4 32.5L-75.4 31.6L-79.2 30.9L-81.7 33.1L-79.2 35.7L-81.7 37.5L-84.8 36.9L-88.0 34.4L-90.5 31.9L-94.3 30.0L-96.8 30.6L-98.0 33.1L-99.3 35.7L-101.2 38.8L-103.0 36.9L-105.5 38.2L-107.4 40.7L-109.3 41.9L-110.6 45.7L-109.9 48.8L-107.4 51.3L-105.5 54.5L-104.9 58.2L-104.9 62.0L-105.5 64.5L-108.1 66.4L-109.3 68.9L-111.8 72.7L-114.3 75.8L-117.5 78.9L-120.6 81.4L-124.4 84.0L-127.5 86.5L-130.0 88.3L-130.6 90.9L-128.8 93.4L-125.6 93.4L-126.9 95.9L-128.1 99.0L-127.5 102.1L-130.0 104.7L-131.9 100.9L-133.1 97.1L-136.3 98.4L-139.4 99.6L-141.9 100.9L-142.6 104.0L-141.3 107.8 M-70.9 -6.5L-67.1 -5.2L-74.6 -3.4L-77.1 -0.2L-82.1 2.2L-79.6 8.5L-77.1 16.0L-79.6 9.8L-83.4 4.8L-88.4 7.2L-93.4 6.6 M-74.6 -3.4L-69.6 -0.2L-64.6 4.8L-59.6 11.0L-57.1 18.5L-55.9 24.8L-58.4 31.0L-62.1 32.9L-67.1 33.5L-72.1 31.6L-77.1 32.2L-79.6 36.0L-83.4 36.6 M-86.9 -13.8L-84.9 -15.0L-83.4 -13.2L-85.1 -11.8Z M-62.1 32.9L-57.1 35.4L-53.4 39.8L-49.6 42.2L-44.6 42.9L-39.6 44.1L-34.6 46.0L-29.6 48.5L-25.9 52.2L-23.4 57.2L-24.6 61.0L-28.4 59.8L-33.4 61.0L-29.6 64.8L-25.9 67.2L-30.9 69.8L-25.9 69.8L-20.9 68.5L-15.9 71.0L-14.6 74.8L-18.4 79.8L-22.1 84.8L-25.9 89.8L-29.6 94.8L-32.1 99.8L-34.6 107.2 M60.4 37.2L64.1 33.5L69.1 31.6L72.2 34.8L71.6 41.0L72.9 46.0L69.1 49.8L65.4 47.2L62.9 42.2Z M64.1 37.2L67.9 39.8L70.4 38.5 M63.5 41.6L67.9 44.1L71.6 43.5 M57.2 54.8L60.4 52.9L64.1 54.8L62.9 58.5L58.5 57.9Z M104.1 42.2L106.6 40.4L109.7 42.9L110.4 49.8L111.0 58.5L112.9 66.0L116.6 73.5L121.6 81.0L127.9 88.5L134.1 92.2L137.9 92.9L136.6 96.0L131.6 97.9L125.4 96.0L119.1 91.0L114.1 83.5L109.1 74.8L106.0 66.0L104.1 57.2L103.5 48.5Z M75.4 -7.8L79.1 -10.2L84.1 -14.0L89.1 -19.0L92.9 -24.0L97.9 -25.9L101.0 -21.5L101.6 -16.5L99.1 -12.8L95.4 -9.0L91.6 -6.5L89.1 -2.8L82.9 -2.1L77.9 -4.0Z M89.1 -19.0L95.4 -16.5L99.1 -12.8 M72.9 -101.5L76.6 -104.0L81.6 -102.8L86.6 -99.0L87.9 -94.0L84.1 -90.2L79.1 -89.0L76.6 -92.8L72.9 -95.2L71.6 -99.0Z M62.2 -110.2L65.4 -112.8L69.1 -109.0L67.9 -104.6L64.1 -106.5Z M82.9 -112.8L86.6 -114.0L89.1 -110.2L86.6 -106.5L83.5 -107.8Z M91.6 -116.5L95.4 -117.1L98.5 -114.6L95.4 -112.8L92.2 -113.4Z M106.6 -117.8L111.6 -112.8L116.6 -110.2L120.4 -107.8L124.1 -104.0L122.9 -99.0L116.6 -96.5L114.1 -91.5L115.4 -84.0L116.6 -79.0L121.6 -76.5L125.4 -71.5L126.6 -66.5L127.9 -61.5L130.4 -55.2L129.1 -49.0L134.1 -45.2L138.5 -41.5L135.4 -40.2L129.1 -44.0L124.1 -46.5L119.1 -50.2L114.1 -50.9L109.1 -46.5L106.6 -41.5L107.9 -35.2L105.4 -30.2L102.9 -26.5L106.6 -24.0L110.4 -26.5L112.9 -21.5L116.6 -16.5L119.1 -10.2L121.6 -4.0L125.4 2.2L129.1 6.0L132.9 8.5L136.6 7.2L139.1 13.5L140.4 21.0L145.4 23.5L149.1 22.2L152.9 19.8L154.1 23.5L151.6 28.5L149.1 33.5L145.4 37.2L141.6 39.8L146.6 41.0L151.6 38.5L156.6 36.0L154.1 42.2L149.1 44.8L141.6 46.0L135.4 47.2L137.9 51.0L144.1 52.2L150.4 51.0L156.6 48.5L164.1 49.8 M121.6 -52.8L124.1 -53.4L125.4 -50.9L122.9 -49.6Z M272.9 -97.8L279.1 -100.2L287.9 -100.9L295.4 -97.8L301.6 -92.8L307.9 -89.0L314.1 -84.0L316.6 -79.0L314.7 -76.5L310.4 -81.5L304.1 -86.5L297.9 -90.2L291.6 -94.0L284.1 -95.9L276.6 -95.9Z M154.1 44.8L159.1 46.0L165.4 48.5L171.6 49.8L174.1 45.4L175.4 49.8L181.6 51.0L186.6 56.0L190.4 62.2L191.6 66.0L187.9 67.2L185.4 61.0L180.4 56.0L174.1 53.5L167.9 52.2L161.6 51.0L156.6 50.4L154.1 49.8 M154.1 68.5L160.4 67.2L166.6 65.4L172.9 67.2L169.1 71.0L165.4 73.5L161.6 78.5L159.1 83.5L156.6 88.5L154.1 91.0 M-228.4 105.2L-230.9 111.5L-234.6 116.5L-238.4 122.8L-242.1 127.8L-244.6 131.5L-249.6 133.4L-252.1 137.8L-253.4 144.0L-255.9 147.8L-253.4 151.5L-255.9 156.5L-253.4 160.2L-257.1 161.5L-256.5 166.5L-255.9 171.5L-258.4 175.2L-262.1 179.0L-265.9 181.5L-270.9 179.0L-275.9 174.0L-283.4 171.5L-289.6 167.8L-295.9 164.0 M-283.4 182.1L-277.1 180.5L-270.9 181.8L-267.8 184.6 M-282.1 187.1L-275.9 184.6L-270.9 186.5 M-310.3 132.1L-307.1 135.2L-303.4 142.8L-299.6 151.5L-295.9 160.2L-294.4 165.5 M-134.6 105.2L-138.4 110.2L-143.4 111.5L-150.9 112.8L-158.4 117.8L-162.1 122.8L-164.6 129.0L-168.4 134.0L-172.1 139.0L-175.9 145.2L-179.6 152.8L-182.1 159.0L-183.4 166.5L-182.1 172.8L-179.0 176.5L-178.4 181.5L-174.6 184.6L-169.6 182.8L-164.6 180.2L-159.6 176.5L-154.6 172.8L-149.6 171.5L-144.6 167.8L-140.9 162.8L-138.4 160.2L-134.6 161.5L-130.9 163.4L-125.9 164.6L-119.6 165.2L-113.4 165.2L-107.1 163.4L-100.9 161.5L-94.6 160.9L-85.9 161.5 M-37.1 105.2L-39.6 111.5L-40.9 119.0L-43.4 122.8L-48.4 126.5L-52.1 131.5L-57.1 132.8L-54.6 136.5L-59.6 139.0L-64.6 141.5L-62.1 145.2L-65.9 149.0L-70.9 150.2L-74.6 150.2L-72.1 154.0L-67.1 156.5L-70.9 159.0L-77.1 160.9L-83.4 161.5L-89.6 161.5L-95.9 160.2 M-87.1 195.9L-83.4 192.8L-84.0 189.0L-79.6 185.9L-76.5 186.5L-77.1 191.5L-72.1 192.8L-69.0 191.5L-64.6 193.4L-59.6 194.0L-54.6 193.4L-50.9 196.5L-49.0 201.5L-49.6 206.5L-53.4 209.0L-58.4 210.2L-63.4 212.1L-68.4 212.8L-73.4 214.0L-77.1 212.1L-80.9 209.0L-84.6 206.5L-82.1 202.8L-83.4 199.0Z M-25.9 161.5L-23.4 159.0L-20.9 159.6L-22.8 162.5Z M124.1 38.0L129.1 41.8L134.1 48.0L136.6 53.0L140.4 58.0L145.4 61.8L149.1 65.5L154.1 68.0L159.1 69.2L165.4 66.8L171.6 65.5L167.9 70.5L161.6 75.5L155.4 80.5L149.1 84.2L144.1 85.5L143.5 88.0L149.1 88.0L155.4 86.8L159.1 90.5L157.9 94.2L154.1 96.8L155.4 101.8L151.6 105.5L146.6 108.0 M134.1 48.0L139.1 45.5L144.1 44.9L149.1 46.8L155.4 48.0 M16.6 87.5L18.6 85.1L22.4 83.6L25.3 82.2L26.8 79.3L28.2 76.4L31.1 75.4L35.0 74.9L38.4 74.9L39.8 77.4L39.6 81.2L37.9 84.1L35.0 85.6L32.1 85.1L30.2 86.5L31.6 88.5L34.0 89.9L36.9 91.8L39.8 93.8L42.7 95.7L44.2 96.7L41.7 98.6L38.8 100.0L38.4 96.7L35.5 93.8L33.5 93.3L33.1 96.2L33.5 101.0L34.0 105.8L33.8 110.2L31.1 108.7L28.2 106.3L25.8 103.4L24.4 100.0L24.9 98.1L22.4 97.6L19.5 94.7L17.1 91.3Z M26.8 79.3L29.2 81.2L31.1 83.6L32.1 85.1 M172.2 69.9L168.4 71.8L162.6 74.7L156.8 77.6L152.0 80.5L147.1 83.4L143.3 84.4L144.3 87.3L149.1 88.2L152.9 87.3L156.8 89.2L158.7 94.0L154.9 96.9L152.0 100.8L152.9 105.6L149.1 108.5L145.2 110.4L143.3 116.2L144.3 122.0L146.2 127.8L145.2 132.6L141.4 133.6L137.5 129.7L133.6 127.8L129.8 128.8L125.9 131.7L128.8 132.6L133.6 133.6L137.5 135.5L140.4 137.5L139.4 141.3L137.5 144.2L139.4 147.1L138.5 151.0L135.6 153.9L134.6 157.7L137.5 161.6L141.4 164.5L136.5 165.5L131.7 166.4L127.8 169.3L128.8 172.2L133.6 172.2L136.5 174.1L134.6 177.0L130.7 178.0L124.9 178.0L121.1 176.1L118.2 172.2L114.3 168.4L109.5 166.4L104.7 165.0L109.5 165.5L115.3 165.0L121.1 163.5L125.9 161.6L129.8 158.7L131.2 154.8L130.7 151.0L127.8 147.1L123.0 144.7L117.2 143.7L110.5 143.7L104.7 144.2L99.9 145.2L95.0 146.2L91.2 147.1L87.3 149.1L82.5 149.1L86.3 145.2L83.4 143.3L78.6 144.2L75.7 148.1L72.8 146.2L69.9 151.0L66.1 150.0L64.1 154.8L60.3 158.7L55.4 161.6L52.6 166.4L50.6 170.3L47.7 174.1L43.9 179.0L45.8 179.0L41.9 184.8L43.9 183.8L47.7 180.9 M132.2 116.2L134.6 113.8L137.5 114.3L138.5 117.2L136.5 119.6L133.6 119.1Z M48.7 179.9L47.7 185.7L46.8 192.4L45.8 199.2L43.9 206.0L41.9 211.8L39.0 217.5L37.1 222.4L34.2 222.4L33.2 226.2L29.4 228.2L27.5 232.0L24.6 234.9L21.7 237.8L20.2 240.7L21.7 244.6L21.7 249.4L23.1 254.2L25.5 257.1L25.0 260.0L27.0 261.9L26.5 265.8L28.4 267.7L32.3 269.2L36.1 268.7L40.0 266.3L42.9 262.9L45.8 259.1L47.7 256.2L49.7 258.1L51.6 261.9L54.5 266.8L57.4 271.6L60.3 275.5L63.2 278.4L64.1 281.3L65.1 284.1L68.0 284.6L70.9 284.1L71.9 280.3L74.8 277.4L77.7 276.4L78.6 272.6L78.1 266.8L78.6 261.0L79.6 255.2L80.5 251.3L82.5 248.9L81.5 245.5L81.5 241.7L79.6 238.8L76.7 236.8L73.8 234.0L71.9 230.1L70.9 225.3L71.9 220.4L73.8 215.6L75.7 210.8L77.7 206.0L78.6 201.1L77.7 198.2L78.6 194.4L78.6 191.5L81.5 189.6L85.4 188.1L89.2 189.1L91.2 192.4L90.2 197.3L88.3 202.1L86.8 207.9L85.4 213.7L85.4 218.5L87.3 222.4L89.2 226.2L90.2 230.1L93.1 232.5L97.9 233.5L102.7 232.5L106.6 230.1L110.5 226.7L114.3 223.8L118.2 221.9L123.0 220.9L125.9 221.4L123.0 225.3L122.1 229.1L118.2 231.1L114.3 232.5L111.4 234.0L108.5 236.8L105.6 239.7L104.7 243.6L107.6 246.5L111.4 245.5L113.8 249.4L114.3 254.2L111.4 256.6L107.6 255.7L104.7 254.2L102.7 256.2L101.8 260.0L102.3 263.9L103.7 267.7L104.7 272.6L103.7 276.4L101.8 279.3L100.8 283.2L97.9 284.6L95.0 282.2L92.1 283.2L89.2 285.1L86.3 287.0L83.4 289.9L80.5 292.8L76.7 294.8L72.8 295.2L69.9 293.8L68.0 291.9L66.1 294.8L63.2 296.7L60.3 299.1L57.4 300.1L55.4 296.7L52.6 295.7L49.7 292.8L48.7 289.0L50.6 285.1L52.6 282.2L51.6 279.3L50.6 275.5L51.1 271.6L48.7 270.6L45.8 272.6L42.9 275.5L41.0 279.3L40.5 284.1L41.9 288.0L43.9 291.9L45.8 295.7L46.8 300.6L44.8 305.4L41.0 307.3L37.1 308.3L33.2 310.2L29.4 312.1L26.5 314.1L24.6 317.0L23.6 320.8L21.7 324.7L17.8 328.5L13.9 331.4L10.1 334.3L8.2 338.2L7.7 344.0 M50.1 289.0L52.6 287.0L55.0 289.0L53.5 291.9L51.1 291.9Z M56.9 284.1L60.3 281.3L63.7 282.2L63.2 286.1L60.3 288.0L57.4 287.0Z M56.9 292.4L59.3 290.9L61.7 291.9L59.8 293.8Z M85.9 261.9L87.3 258.6L89.7 257.1L89.7 261.0L88.3 265.3L86.3 264.8Z M100.3 247.5L101.3 243.6L103.7 243.1L104.2 246.5L102.3 249.9Z M122.1 210.8L124.9 207.9L128.8 206.4L132.7 206.9L135.6 209.8L137.5 213.7L136.5 217.5L133.6 220.4L129.8 221.4L125.9 219.5L124.0 215.6Z M130.7 191.5L134.6 190.0L137.5 191.5L139.4 194.4L143.3 195.8L146.2 198.2L145.2 201.1L141.4 200.2L138.5 198.2L135.6 197.3L134.6 194.4Z M27.9 315.0L29.9 313.6L31.8 315.0L30.4 317.0Z M-29.3 337.7L-27.0 336.2L-24.6 335.4L-22.3 334.2L-19.9 334.6L-17.6 333.0L-14.4 332.6L-11.3 333.0L-8.2 332.3L-5.0 331.9L-1.9 332.3L1.2 331.9L4.4 330.7L6.7 329.1L7.5 326.8L6.0 324.4L3.6 322.1L2.0 318.9L1.2 315.0L0.5 311.1L-0.3 307.2L-1.9 304.0L-3.5 301.7L-5.8 299.3L-7.4 297.0L-9.0 293.8L-10.5 290.7L-12.9 288.3L-16.0 287.2L-13.7 285.2L-11.3 282.1L-9.7 278.9L-9.3 275.8L-12.1 275.0L-16.0 274.6L-19.9 274.2L-19.1 271.9L-16.8 270.3L-13.7 268.7L-14.4 266.4L-18.4 266.0L-22.3 266.8L-24.6 268.7L-26.2 271.9L-27.8 275.0L-27.0 277.4L-28.6 279.7L-27.4 282.1L-29.3 284.4L-27.0 286.0L-28.2 288.3L-26.2 289.9L-24.6 292.3L-25.4 294.6L-23.9 297.0L-21.5 297.0L-18.4 296.2L-16.8 298.5L-17.6 301.7L-15.2 303.2L-16.8 305.6L-17.6 308.7L-19.9 309.5L-23.1 309.1L-24.6 311.1L-23.5 313.4L-25.4 315.0L-23.9 317.4L-24.6 319.7L-27.0 320.5L-29.0 322.1L-27.8 324.4L-24.6 325.2L-21.5 326.0L-18.4 325.6L-16.0 324.8L-17.6 326.8L-19.9 327.5L-23.1 328.3L-24.6 330.7L-27.0 332.3L-29.3 333.8L-32.1 335.8 M-34.0 271.9L-32.5 268.7L-29.3 266.8L-28.6 268.3L-30.9 271.1L-33.3 273.0Z M-56.8 315.0L-54.4 312.6L-52.1 309.5L-50.5 306.4L-52.1 304.0L-50.5 301.7L-51.7 299.3L-49.0 297.7L-45.8 295.4L-43.5 293.0L-40.3 291.9L-37.2 292.3L-34.0 293.8L-31.7 296.2L-30.1 299.3L-30.5 303.2L-31.7 307.2L-32.5 311.1L-33.3 314.2L-34.8 316.6L-38.0 318.1L-41.9 318.9L-45.8 319.7L-49.7 320.5L-53.7 320.1L-56.0 318.1Z M-7.4 252.3L-5.8 250.7L-4.2 251.9L-4.6 254.6L-6.6 255.4Z M-16.0 262.4L-14.4 261.7L-13.0 263.1L-14.3 264.6L-15.8 264.2Z M-30.9 234.6L-27.8 233.4L-25.0 234.6L-27.0 237.0L-29.7 237.0Z"/>
<g transform="translate(0.0 -307.6)"><text class="lb" text-anchor="end" x="8.4" y="16.5">180</text><text class="dg" x="10.4" y="2.6">°</text><text class="lb" x="29.9" y="16.5">E</text></g>
<g transform="translate(-153.8 -266.4) rotate(-30)"><text class="lb" text-anchor="end" x="3.6" y="16.5">150</text><text class="dg" x="5.6" y="2.6">°</text><text class="lb" x="27.2" y="16.5">W</text></g>
<g transform="translate(-266.4 -153.8) rotate(-60)"><text class="lb" text-anchor="end" x="2.6" y="16.5">120</text><text class="dg" x="4.6" y="2.6">°</text><text class="lb" x="26.2" y="16.5">W</text></g>
<g transform="translate(-307.6 0.0) rotate(90)"><text class="lb" text-anchor="end" x="-2.1" y="16.5">90</text><text class="dg" x="-0.1" y="2.6">°</text><text class="lb" x="21.5" y="16.5">W</text></g>
<g transform="translate(-266.4 153.8) rotate(60)"><text class="lb" text-anchor="end" x="-2.4" y="16.5">60</text><text class="dg" x="-0.4" y="2.6">°</text><text class="lb" x="21.2" y="16.5">W</text></g>
<g transform="translate(-153.8 266.4) rotate(30)"><text class="lb" text-anchor="end" x="-2.4" y="16.5">30</text><text class="dg" x="-0.4" y="2.6">°</text><text class="lb" x="21.2" y="16.5">W</text></g>
<g transform="translate(0.0 307.6)"><text class="lb" text-anchor="end" x="13.6" y="16.5">0</text><text class="dg" x="15.6" y="2.6">°</text></g>
<g transform="translate(153.8 266.4) rotate(-30)"><text class="lb" text-anchor="end" x="1.9" y="16.5">30</text><text class="dg" x="3.9" y="2.6">°</text><text class="lb" x="23.4" y="16.5">E</text></g>
<g transform="translate(266.4 153.8) rotate(-60)"><text class="lb" text-anchor="end" x="2.1" y="16.5">60</text><text class="dg" x="4.1" y="2.6">°</text><text class="lb" x="23.6" y="16.5">E</text></g>
<g transform="translate(307.6 0.0) rotate(-90)"><text class="lb" text-anchor="end" x="1.5" y="16.5">90</text><text class="dg" x="3.5" y="2.6">°</text><text class="lb" x="23.0" y="16.5">E</text></g>
<g transform="translate(266.4 -153.8) rotate(60)"><text class="lb" text-anchor="end" x="8.4" y="16.5">120</text><text class="dg" x="10.4" y="2.6">°</text><text class="lb" x="29.9" y="16.5">E</text></g>
<g transform="translate(153.8 -266.4) rotate(30)"><text class="lb" text-anchor="end" x="8.4" y="16.5">150</text><text class="dg" x="10.4" y="2.6">°</text><text class="lb" x="29.9" y="16.5">E</text></g>
<g transform="translate(0.0 -255.4)"><text class="lb" text-anchor="end" x="-6.6" y="16.5">60</text><text class="dg" x="-4.6" y="3.6">°</text><text class="lb" x="14.9" y="16.5">N</text></g>
<g transform="translate(0.0 -128.8)"><text class="lb" text-anchor="end" x="-5.4" y="16.5">75</text><text class="dg" x="-3.4" y="3.6">°</text><text class="lb" x="16.1" y="16.5">N</text></g>
<path class="yl" d="M-87.1 -70.5C-83.1 -73.4 -79.0 -76.7 -74.5 -78.2C-70.0 -79.6 -64.9 -79.5 -60.1 -79.2C-55.3 -78.9 -50.4 -77.1 -45.6 -76.3C-40.8 -75.5 -35.8 -75.8 -31.1 -74.4C-26.4 -72.9 -21.8 -69.7 -17.6 -67.6C-13.4 -65.5 -9.5 -64.8 -6.0 -61.8C-2.5 -58.7 0.6 -53.0 3.6 -49.3C6.7 -45.6 9.9 -43.1 12.3 -39.6C14.7 -36.1 17.1 -32.3 18.1 -28.1C19.1 -23.9 19.1 -18.8 18.1 -14.5C17.1 -10.2 14.4 -5.7 12.3 -2.0C10.2 1.7 7.2 4.0 5.6 7.7C4.0 11.4 5.1 17.2 2.7 20.2C0.3 23.3 -5.0 23.4 -8.9 26.0C-12.8 28.6 -16.3 33.0 -20.5 35.7C-24.7 38.4 -29.5 40.3 -34.0 42.4C-38.5 44.5 -43.2 46.0 -47.5 48.2C-51.8 50.5 -55.6 54.0 -60.1 55.9C-64.6 57.8 -69.7 58.7 -74.5 59.8C-79.3 60.9 -84.2 61.3 -89.0 62.7C-93.8 64.2 -98.7 67.4 -103.5 68.5C-108.3 69.6 -113.0 69.3 -118.0 69.5C-123.0 69.7 -128.7 70.9 -133.4 69.5C-138.1 68.1 -142.3 64.0 -146.0 60.8C-149.7 57.6 -153.9 54.4 -155.6 50.2C-157.3 46.0 -156.5 40.5 -156.4 35.7C-156.2 30.9 -155.5 26.0 -154.7 21.2C-153.9 16.4 -153.2 11.4 -151.8 6.7C-150.3 2.0 -148.4 -2.4 -146.0 -6.8C-143.6 -11.1 -140.4 -15.4 -137.3 -19.4C-134.2 -23.4 -130.6 -27.2 -127.6 -30.9C-124.5 -34.6 -122.0 -38.2 -119.0 -41.6C-116.0 -45.0 -112.7 -48.0 -109.3 -51.2C-105.9 -54.4 -102.4 -57.7 -98.7 -60.9C-95.0 -64.1 -91.1 -67.6 -87.1 -70.5Z"/>
<path class="yl" d="M58.5 95.0C62.9 93.1 68.9 92.9 73.9 92.1C78.9 91.3 84.1 89.6 88.4 90.2C92.8 90.9 96.8 93.1 100.0 96.0C103.2 98.9 106.2 103.2 107.7 107.5C109.2 111.8 108.9 117.2 109.2 122.0C109.5 126.8 110.6 131.8 109.7 136.5C108.8 141.2 106.3 145.8 103.9 150.0C101.5 154.2 98.8 158.5 95.2 161.6C91.7 164.7 87.1 167.3 82.6 168.4C78.1 169.5 73.2 168.7 68.2 168.4C63.2 168.1 56.9 168.5 52.7 166.4C48.5 164.3 45.8 159.8 43.1 155.8C40.5 151.8 38.4 147.0 36.8 142.3C35.2 137.6 32.8 132.2 33.4 127.8C34.0 123.5 37.9 120.2 40.2 116.2C42.5 112.2 44.4 107.2 47.4 103.7C50.5 100.2 54.1 96.9 58.5 95.0Z"/>
<path class="yl" d="M-116.4 204.4C-114.8 203.0 -110.4 198.9 -106.9 195.9C-103.4 192.9 -97.3 188.0 -95.4 186.4"/>
<circle r="337.5" fill="none" stroke="#111" stroke-width="2.4"/>
</g>
<g transform="translate(1401.5 1430.1)">
<circle class="gl" r="255.4"/>
<circle class="gl" r="128.8"/>
<line class="gl" x1="0" y1="0" x2="0.0" y2="-337.5"/>
<line class="gl" x1="0" y1="0" x2="168.7" y2="-292.3"/>
<line class="gl" x1="0" y1="0" x2="292.3" y2="-168.8"/>
<line class="gl" x1="0" y1="0" x2="337.5" y2="-0.0"/>
<line class="gl" x1="0" y1="0" x2="292.3" y2="168.7"/>
<line class="gl" x1="0" y1="0" x2="168.7" y2="292.3"/>
<line class="gl" x1="0" y1="0" x2="0.0" y2="337.5"/>
<line class="gl" x1="0" y1="0" x2="-168.8" y2="292.3"/>
<line class="gl" x1="0" y1="0" x2="-292.3" y2="168.8"/>
<line class="gl" x1="0" y1="0" x2="-337.5" y2="0.0"/>
<line class="gl" x1="0" y1="0" x2="-292.3" y2="-168.8"/>
<line class="gl" x1="0" y1="0" x2="-168.8" y2="-292.3"/>
<path class="cst" clip-path="url(#mc)" d="M-276.5 -192.0L-272.1 -199.5L-265.9 -204.5L-260.3 -204.8L-262.8 -200.8L-269.0 -195.8L-274.6 -191.8Z M-260.3 -203.9L-257.8 -199.8L-250.9 -198.5L-245.9 -196.8L-239.6 -199.8L-234.0 -199.2L-230.3 -195.8L-227.1 -190.1L-224.0 -194.5L-219.6 -196.0L-215.9 -193.0L-211.5 -195.8L-208.4 -198.2L-204.6 -195.8L-200.9 -200.8L-197.1 -195.8L-192.1 -193.2L-187.1 -197.0L-177.1 -197.6L-165.9 -197.0L-161.5 -201.0L-154.6 -203.9L-145.9 -207.0L-133.4 -209.5L-129.6 -212.0L-131.5 -216.4L-128.4 -222.0L-125.3 -228.9L-122.1 -230.5L-120.9 -224.5L-119.4 -218.9L-121.5 -210.8L-119.0 -215.8L-116.5 -223.2L-116.5 -229.5L-114.4 -235.1L-115.9 -239.5L-112.4 -246.4L-110.9 -254.5L-105.9 -263.2L-100.3 -270.1L-94.0 -276.4L-86.9 -281.8 M-241.5 -210.8L-235.9 -211.8L-232.8 -209.5L-225.9 -210.1L-222.1 -207.0L-224.6 -202.6L-229.0 -205.8L-233.4 -208.2L-238.4 -209.5Z M-217.8 -197.6L-213.4 -197.0L-210.3 -194.5L-213.4 -192.0L-215.9 -194.5Z M-204.0 -201.4L-200.3 -198.2L-195.9 -199.5L-192.1 -193.9L-187.4 -187.6L-191.5 -189.5L-195.9 -193.2L-199.6 -190.1L-205.3 -190.8L-200.9 -194.5Z M-123.4 -251.4L-119.4 -252.0L-120.3 -244.5L-122.1 -237.6L-125.3 -237.6L-127.8 -242.6L-125.3 -247.0Z M-86.9 -275.1L-92.1 -269.5L-97.1 -264.5L-102.1 -254.5L-103.4 -247.0L-98.4 -245.8L-94.6 -248.9L-86.9 -251.4 M-86.9 -140.8L-95.9 -137.0L-102.1 -135.8L-110.9 -132.0L-122.1 -128.2L-125.9 -124.5L-124.6 -116.5 M-95.9 -250.5L-89.6 -252.0L-84.0 -250.1L-79.6 -245.8L-74.6 -246.4L-69.0 -244.5L-62.1 -239.5L-59.0 -233.2L-60.3 -223.2L-65.9 -218.9L-70.9 -214.5L-72.8 -210.8L-70.3 -204.5L-64.0 -207.6L-58.4 -208.9L-50.9 -208.2L-44.6 -203.9L-47.8 -199.5L-53.4 -195.8L-59.6 -195.1L-62.1 -191.4L-59.0 -186.4L-54.6 -183.2L-49.6 -181.4L-44.6 -177.0L-46.5 -171.4L-51.5 -166.4L-53.4 -159.5L-57.1 -154.5L-61.5 -152.0L-64.6 -145.8L-70.9 -146.4L-75.9 -144.5L-80.9 -145.1L-87.1 -141.4L-95.9 -139.5 M-63.6 -246.4L-59.6 -248.2L-55.9 -247.2L-58.4 -244.8L-62.4 -244.2Z M-44.0 -222.6L-39.6 -225.1L-35.9 -223.9L-31.5 -223.2L-33.4 -220.8L-38.4 -221.4L-42.1 -221.4Z M-71.5 -297.0L-69.0 -300.1L-65.9 -302.0L-63.1 -304.5L-59.6 -307.6L-59.0 -305.1L-62.1 -302.0L-65.3 -299.5L-67.8 -296.4L-70.3 -295.1Z M-86.9 -281.8L-83.4 -285.8L-79.0 -290.1L-78.1 -288.2L-82.8 -280.8L-86.9 -275.1 M-33.4 -317.2L-31.5 -318.2L-29.9 -317.0L-31.5 -315.8Z M-20.9 -321.0L-17.8 -322.0L-15.9 -320.8L-18.4 -319.8Z M-13.4 -321.4L-10.3 -322.0L-9.0 -320.5L-11.5 -319.8Z M68.9 -289.8L71.0 -290.1L72.2 -287.0L71.6 -283.9L69.7 -285.1Z M134.7 -304.5L139.1 -306.0L141.0 -304.5L137.9 -302.6Z M163.1 -207.6L155.4 -209.5L149.1 -214.5L145.4 -217.6L139.1 -219.5L135.4 -223.2L130.4 -222.6L127.9 -227.0L125.4 -230.8L119.1 -233.9L111.6 -237.0L109.1 -233.2L102.9 -227.0L95.4 -222.0L87.9 -222.6L81.6 -225.8L84.1 -230.8L85.4 -235.8L79.1 -232.0L71.6 -229.5L67.9 -224.5L62.9 -223.9L65.4 -229.5L70.4 -235.8L79.1 -240.8L89.1 -245.8L99.1 -250.1L109.1 -253.2L114.1 -258.2L119.1 -264.5L122.9 -273.2L126.6 -283.2L129.1 -292.0L130.4 -300.8L125.4 -299.5L119.1 -295.8L114.1 -290.8L109.1 -291.4L104.1 -287.0L99.1 -284.5L94.1 -283.2L91.6 -277.0L86.6 -275.8L82.9 -272.0L84.1 -265.8L80.4 -262.0L84.1 -258.2L81.6 -253.2L76.6 -252.0L71.6 -248.2L65.4 -247.6L60.4 -245.8L55.4 -247.6L50.4 -245.1L44.1 -249.5L39.7 -252.0L34.1 -244.5L26.6 -240.8L16.6 -237.0L7.9 -233.9L2.9 -233.2L4.1 -227.0L6.0 -219.5L10.4 -218.2L10.4 -214.5L4.1 -213.9L0.4 -207.0L-2.8 -202.0L-5.9 -208.2L-10.9 -209.5L-15.9 -212.0L-20.9 -215.8L-25.9 -216.4L-28.4 -209.5L-32.1 -205.8L-35.3 -201.4L-30.9 -197.0L-24.6 -194.5L-18.4 -193.2L-14.6 -189.5L-8.4 -184.5L-0.9 -179.5L6.6 -175.8L14.1 -172.6L21.6 -170.8L27.9 -168.9L29.1 -174.5L31.6 -177.6L34.1 -173.2L32.9 -169.5L37.9 -170.8L42.9 -168.2L49.1 -165.8L56.6 -163.2L60.4 -158.2L59.1 -154.5L62.9 -149.5L69.1 -146.4L74.1 -143.2L77.2 -138.2L79.1 -133.2L82.9 -127.0L87.9 -120.8L91.6 -116.5 M70.4 -253.9L74.1 -255.1L77.2 -254.5L74.7 -252.2L71.6 -252.0Z M-7.1 -160.8L-2.1 -163.2L4.1 -164.5L3.5 -160.8L-0.9 -157.6L-5.3 -157.6Z M154.1 -209.5L160.4 -208.0L169.1 -209.2L179.1 -211.1L189.1 -212.6L199.1 -214.2L206.6 -213.0L210.6 -209.8L211.0 -214.5L209.1 -219.2L206.4 -221.4L210.4 -223.2L208.1 -227.0L204.4 -225.5L201.6 -229.5L198.1 -232.0L196.1 -235.8L195.6 -240.1L197.6 -244.8L200.6 -249.2L204.7 -253.2L208.5 -256.8L211.9 -259.2L214.4 -261.0 M198.1 -271.0L197.4 -262.0L195.6 -252.0L193.9 -244.5L196.4 -242.2L199.4 -249.2L203.1 -256.8L205.6 -263.9L206.9 -265.8 M197.9 -219.5L200.4 -221.0L202.2 -219.2L200.4 -217.0Z M-200.3 12.2L-202.1 14.8L-205.9 12.2L-210.9 9.1L-215.9 6.6L-220.9 3.5L-222.1 -0.9L-225.9 -3.4L-229.6 -4.6L-232.1 -9.2L-235.3 -10.2L-237.1 -12.8L-242.1 -15.9L-247.1 -18.4L-253.4 -20.9L-259.6 -21.2L-264.6 -19.0L-268.4 -15.0L-274.0 -14.0L-278.4 -11.5L-279.6 -7.8L-278.4 -4.0L-280.9 2.2L-283.4 7.2L-287.1 11.0L-289.0 16.0L-290.9 21.0L-292.1 27.2L-292.8 33.5L-293.4 39.8L-295.9 41.2L-303.4 42.5L-308.4 46.0L-314.6 48.8L-320.9 55.4L-323.4 57.9L-319.0 60.0L-314.6 62.5L-312.1 64.4L-308.4 61.0L-302.1 58.5L-297.1 56.0L-294.4 54.1L-292.1 57.2L-287.1 61.0L-280.9 66.2L-275.9 65.4L-269.6 62.2L-264.6 58.5L-262.1 54.8L-258.4 52.2L-253.4 54.1L-249.6 55.0L-245.9 52.2L-240.9 51.0L-237.1 49.8L-232.8 48.2L-229.6 49.8L-227.8 53.5L-227.1 58.5L-227.5 64.8L-229.0 71.0L-230.9 76.0L-232.1 81.0L-233.4 86.0L-235.9 89.8L-239.6 91.0L-243.4 93.8L-245.9 98.5L-247.1 103.5L-248.4 106.5 M-225.9 17.9L-222.8 14.1L-218.4 13.5L-213.4 12.9L-208.4 14.1L-203.4 15.4L-207.1 17.9L-210.9 21.0L-213.4 26.0L-215.9 31.0L-219.6 36.6L-222.8 34.8L-220.9 29.8L-218.4 24.8L-216.5 21.0L-219.6 18.5L-222.8 20.4Z M-234.0 29.1L-231.5 27.2L-229.0 29.8L-230.3 32.9L-232.8 31.6Z M-237.1 42.2L-233.4 41.2L-231.5 43.5L-235.3 44.8Z M-285.9 50.4L-282.1 49.1L-279.0 51.6L-280.9 55.4L-284.0 54.1Z M-312.1 46.0L-309.0 45.4L-307.8 48.5L-310.3 50.4Z M-247.8 -94.6L-245.9 -91.5L-244.0 -87.8L-242.1 -85.2L-244.6 -82.1L-247.1 -79.0L-249.0 -82.8L-248.4 -87.8L-249.4 -91.5Z M-219.6 -110.2L-218.4 -105.2L-213.4 -100.2L-215.3 -96.5L-217.8 -91.5L-216.5 -85.2L-217.1 -79.0L-219.6 -75.9L-220.9 -81.5L-221.5 -87.8L-222.8 -94.0L-225.3 -100.2L-224.0 -105.2L-222.1 -109.0Z M-277.4 -63.4L-273.4 -61.5L-268.4 -59.6L-264.0 -56.5L-266.5 -55.0L-270.9 -57.8L-275.3 -59.6Z M-329.6 -39.0L-325.9 -41.5L-320.9 -41.5L-319.0 -44.6L-313.4 -47.1L-307.1 -48.8L-303.4 -47.8L-302.8 -44.0L-304.6 -41.5L-310.9 -39.6L-315.9 -37.8L-320.9 -36.5L-325.9 -36.5L-328.4 -37.1Z M-184.6 -109.6L-182.1 -111.8L-178.9 -114.9L-176.1 -115.6L-175.8 -112.1L-176.7 -108.3L-173.9 -107.1L-171.4 -110.9L-168.3 -115.2L-166.7 -117.1L-167.0 -112.7L-167.7 -108.3L-168.9 -104.0L-170.2 -97.7L-171.4 -95.8L-173.3 -98.9L-175.2 -97.7L-177.7 -93.6L-180.2 -96.4L-182.1 -98.3L-179.6 -100.2L-177.1 -101.4L-180.2 -103.3L-182.7 -104.6L-184.0 -107.1Z M-127.8 -117.1L-129.4 -110.9L-133.1 -109.6L-131.3 -107.1L-130.0 -103.3L-130.6 -101.8L-135.0 -102.1L-138.8 -102.7L-141.9 -102.1L-140.7 -96.4L-143.2 -98.3L-145.7 -98.9L-146.9 -97.7L-145.4 -95.2L-146.3 -91.4L-147.6 -89.5L-150.7 -88.9L-154.5 -87.0L-157.6 -84.5L-160.1 -81.4L-163.3 -77.6L-165.8 -76.3L-168.9 -75.7L-169.5 -78.9L-170.8 -80.7L-172.7 -77.6L-173.3 -75.7L-175.2 -74.5L-175.8 -70.1L-176.4 -64.4L-179.6 -61.9L-181.5 -60.4L-179.6 -58.2L-177.1 -59.4L-175.2 -60.4L-173.9 -58.2L-173.3 -53.8L-173.9 -50.0L-175.8 -47.5L-178.9 -45.6L-182.1 -43.1L-184.6 -40.0L-186.5 -36.8L-188.4 -33.1L-188.7 -28.7L-185.8 -27.4L-183.3 -26.2L-181.5 -24.9L-178.9 -27.4L-176.4 -29.6L-174.6 -27.4L-172.7 -25.5L-170.8 -24.3L-173.3 -22.4L-175.8 -20.5L-178.9 -18.6L-182.1 -19.9L-184.0 -22.4L-186.5 -21.8L-189.0 -21.1L-191.2 -19.6L-188.4 -17.4L-186.5 -14.9L-184.0 -13.0L-180.8 -12.4L-178.3 -13.6L-175.8 -12.4L-173.3 -13.6L-170.8 -16.1L-168.3 -18.0L-165.8 -19.3L-162.6 -18.6L-159.5 -16.8L-157.0 -14.9L-154.5 -13.0L-150.7 -11.7L-146.9 -11.1L-143.2 -11.1L-139.4 -10.5L-136.9 -8.6L-135.7 -4.2 M-168.9 -72.6L-165.8 -72.0L-162.6 -72.3L-160.7 -75.1L-158.2 -77.6L-155.7 -78.2L-153.2 -77.0L-153.8 -72.6L-154.8 -68.2L-154.5 -64.4L-152.6 -65.7L-150.7 -68.8L-148.8 -72.6L-146.3 -75.1L-143.8 -76.3L-141.3 -75.1L-138.8 -76.3L-136.3 -75.7L-134.4 -73.8L-132.5 -72.0L-131.3 -69.4L-130.3 -65.1L-129.7 -61.3L-130.3 -58.8L-133.1 -57.5L-135.7 -58.8L-135.0 -56.3L-136.3 -53.8L-137.5 -51.9L-138.2 -48.7L-140.0 -46.9L-141.3 -45.6L-139.4 -43.7L-136.9 -41.8L-134.4 -40.6L-133.8 -38.1L-136.3 -36.2L-138.8 -36.8L-141.3 -38.7L-144.4 -40.0L-147.6 -40.3L-150.7 -40.0L-153.8 -40.9L-157.0 -41.2L-159.5 -39.3L-162.0 -36.8L-163.9 -34.3L-165.8 -31.8L-167.7 -31.2L-169.5 -33.7L-170.5 -35.6L-172.0 -34.9L-173.3 -37.5L-174.6 -41.2L-175.2 -43.7L-173.3 -46.2L-170.8 -48.1L-168.9 -48.7L-169.5 -51.3L-170.2 -55.0L-170.8 -60.0L-170.2 -64.4L-169.5 -68.8Z M-135.7 -87.6L-132.5 -88.0L-129.4 -87.6L-125.6 -88.6L-123.7 -86.4L-121.9 -83.9L-120.0 -81.4L-117.5 -78.9L-114.3 -77.6L-112.4 -76.3L-112.8 -72.6L-113.7 -69.4L-116.8 -66.3L-119.3 -63.2L-122.5 -62.2L-125.6 -61.3L-128.1 -60.4L-129.4 -61.3L-130.0 -65.1L-131.0 -69.4L-132.2 -72.0L-133.8 -74.5L-135.7 -76.3L-137.2 -79.5L-136.3 -83.9Z M-103.0 -65.7L-99.9 -66.3L-97.4 -65.4L-96.1 -61.9L-94.9 -56.9L-94.3 -52.5L-94.9 -48.7L-97.4 -47.5L-99.3 -50.0L-101.8 -51.3L-103.0 -52.5L-104.3 -49.4L-106.8 -47.5L-110.6 -46.2L-114.3 -45.0L-116.2 -43.7L-116.8 -41.8L-113.1 -41.2L-109.3 -40.0L-107.4 -38.1L-110.6 -37.5L-113.1 -36.2L-116.2 -34.3L-119.3 -34.9L-121.9 -36.2L-122.5 -40.0L-121.9 -44.4L-123.1 -48.7L-122.5 -51.9L-120.0 -53.8L-117.5 -53.1L-116.2 -51.9L-114.3 -53.8L-113.1 -56.3L-110.6 -58.2L-108.1 -60.0L-105.5 -62.5Z M-110.6 -58.2L-106.8 -53.8 M-108.1 -59.7L-104.3 -54.4 M-105.5 -60.7L-102.4 -56.3 M-99.9 -41.8L-97.4 -43.7L-94.3 -44.4L-91.7 -42.5L-90.5 -39.3L-91.1 -35.6L-93.0 -32.4L-95.5 -33.1L-98.0 -35.6L-99.9 -38.7Z M-94.9 -43.7L-94.3 -38.1L-94.9 -33.7 M-157.0 -24.9L-153.2 -26.8L-149.5 -28.7L-148.8 -31.2L-145.7 -32.1L-143.2 -32.4L-142.6 -29.3L-142.9 -26.8L-140.7 -27.4L-137.5 -28.0L-135.0 -26.2L-134.4 -23.0L-136.3 -21.1L-134.4 -18.6L-136.9 -18.0L-139.4 -18.9L-141.9 -19.9L-143.8 -18.0L-146.3 -16.8L-149.5 -16.4L-152.6 -17.1L-154.5 -18.0L-155.4 -21.1Z M-123.7 -28.7L-120.0 -29.3L-116.2 -29.6L-111.8 -29.0L-114.3 -26.8L-117.5 -25.5L-120.0 -24.9L-117.5 -23.7L-113.7 -23.0L-111.8 -21.1L-112.4 -18.6L-115.0 -16.8L-118.7 -16.1L-122.5 -16.8L-125.6 -18.0L-126.9 -20.5L-125.6 -23.0L-123.1 -24.3L-121.9 -26.2Z M-95.5 -24.3L-93.0 -25.5L-89.9 -26.2L-87.3 -24.9L-88.6 -22.4L-91.1 -19.9L-94.3 -18.0L-96.8 -16.8L-98.0 -14.2L-95.5 -13.0L-94.3 -11.1L-96.8 -9.9L-99.9 -10.5L-101.8 -13.0L-102.4 -16.1L-100.5 -18.6L-98.0 -21.1Z M-123.7 -31.8L-121.9 -32.4L-120.0 -31.2L-121.2 -29.9L-123.1 -30.2Z M-108.1 -28.0L-104.9 -28.7L-101.8 -27.7L-102.4 -26.5L-105.5 -26.8L-107.4 -26.5Z M-87.3 -13.0L-84.8 -13.6L-83.0 -12.4L-84.8 -11.1L-86.7 -11.4Z M-130.0 -9.9L-128.1 -13.0L-125.6 -14.2L-123.7 -12.4L-124.4 -9.2L-127.5 -8.6Z M-116.8 -4.2L-116.2 -7.3L-114.3 -9.9L-111.8 -11.1L-111.2 -8.6L-112.4 -4.2 M-107.4 -4.2L-106.8 -7.3L-104.9 -9.9L-103.0 -8.6L-103.7 -4.2 M-175.8 -4.2L-172.7 -7.3L-168.3 -8.6L-163.3 -10.5L-157.0 -11.1L-153.2 -9.9L-149.5 -8.6L-146.9 -4.2 M-182.7 0.2L-180.2 1.1L-178.9 3.7L-182.1 6.2L-187.1 6.8L-190.9 7.4L-193.4 9.6L-190.9 11.2L-188.4 11.2L-187.1 13.1L-184.6 14.3L-180.8 14.3L-177.1 14.0L-173.3 13.7L-170.8 14.9 M-200.9 23.7L-197.8 26.2L-194.0 28.7L-189.6 29.4L-187.7 25.6L-184.6 25.0L-180.8 26.9L-176.4 26.2L-175.2 23.1L-173.3 21.8L-171.4 19.3 M-170.8 30.6L-165.8 35.0L-167.7 38.2L-169.5 41.3L-172.0 43.8L-175.8 44.4L-176.4 47.6L-177.7 52.0L-180.2 55.1L-184.6 58.9L-188.4 57.6L-192.1 55.7L-195.9 53.8L-198.4 57.6L-200.9 57.0 M-189.0 43.8L-185.8 41.9L-182.1 42.6L-180.2 45.7L-182.1 48.8L-185.8 49.5L-188.4 46.9Z M-170.8 30.6L-171.4 25.6L-170.2 20.6L-170.8 14.9L-169.5 10.6L-167.0 6.2L-163.3 2.4L-158.2 0.5L-153.2 -0.1L-148.8 0.5L-144.4 2.4L-140.7 4.9L-138.2 8.0L-137.5 12.4L-138.2 16.2L-136.9 19.3L-136.3 24.4L-135.7 28.1L-136.9 31.9L-140.7 33.1L-143.2 32.5L-144.4 33.1L-145.1 36.3L-143.8 39.4L-146.9 41.3L-149.5 42.6L-150.1 45.7L-151.3 49.5L-152.6 52.6L-153.8 55.7L-155.1 58.9L-155.7 62.0L-157.0 64.5L-159.5 65.1L-162.0 66.4L-163.3 69.5L-165.8 67.6L-168.3 68.3L-170.2 68.9L-170.8 72.0L-171.4 75.8L-170.8 77.7L-171.4 80.8L-172.0 84.6L-173.3 89.6L-173.9 93.4L-174.6 95.2L-178.3 95.9L-182.7 96.5L-184.6 95.2L-187.1 94.0L-189.6 93.4L-190.9 91.5L-190.9 89.6L-189.0 86.5L-187.7 83.3L-185.8 78.9L-188.4 78.3L-191.5 80.2L-194.0 83.3L-195.3 87.1L-196.5 90.9L-199.0 93.4L-200.9 94.0 M-150.7 23.1L-146.9 23.7L-143.2 21.8L-139.4 22.5L-136.9 23.7 M-147.6 25.0L-145.7 26.9L-144.4 29.4L-143.2 32.5 M-156.4 12.4L-153.2 9.9L-148.8 9.0L-144.4 9.6L-140.7 11.8L-138.2 14.3 M-133.1 -5.1L-133.1 1.8L-132.5 8.0L-131.3 14.3L-130.6 18.7L-128.1 21.2L-124.4 21.8L-121.9 19.3L-121.2 14.3L-122.5 10.6L-122.5 5.5L-121.2 1.8L-119.3 0.5L-116.2 1.1L-116.8 5.5L-116.8 10.6L-116.2 16.2L-113.7 19.3L-110.6 21.2L-108.1 20.6L-105.5 21.8L-102.4 21.8L-99.9 23.7L-96.8 25.0L-93.0 24.4L-89.2 25.0L-86.1 26.9L-83.0 28.7L-79.2 30.0L-75.4 31.3L-70.4 31.9 M-116.2 1.1L-111.8 3.7L-108.1 6.2L-104.9 5.5L-102.4 7.4L-99.3 6.8L-95.5 8.0L-91.7 7.4L-88.0 5.5L-84.2 4.9L-81.7 8.0L-79.2 12.4L-76.7 16.2L-77.9 11.2L-78.6 6.8L-76.7 3.0L-73.5 0.5L-70.4 -0.7 M-70.4 32.5L-75.4 31.6L-79.2 30.9L-81.7 33.1L-79.2 35.7L-81.7 37.5L-84.8 36.9L-88.0 34.4L-90.5 31.9L-94.3 30.0L-96.8 30.6L-98.0 33.1L-99.3 35.7L-101.2 38.8L-103.0 36.9L-105.5 38.2L-107.4 40.7L-109.3 41.9L-110.6 45.7L-109.9 48.8L-107.4 51.3L-105.5 54.5L-104.9 58.2L-104.9 62.0L-105.5 64.5L-108.1 66.4L-109.3 68.9L-111.8 72.7L-114.3 75.8L-117.5 78.9L-120.6 81.4L-124.4 84.0L-127.5 86.5L-130.0 88.3L-130.6 90.9L-128.8 93.4L-125.6 93.4L-126.9 95.9L-128.1 99.0L-127.5 102.1L-130.0 104.7L-131.9 100.9L-133.1 97.1L-136.3 98.4L-139.4 99.6L-141.9 100.9L-142.6 104.0L-141.3 107.8 M-70.9 -6.5L-67.1 -5.2L-74.6 -3.4L-77.1 -0.2L-82.1 2.2L-79.6 8.5L-77.1 16.0L-79.6 9.8L-83.4 4.8L-88.4 7.2L-93.4 6.6 M-74.6 -3.4L-69.6 -0.2L-64.6 4.8L-59.6 11.0L-57.1 18.5L-55.9 24.8L-58.4 31.0L-62.1 32.9L-67.1 33.5L-72.1 31.6L-77.1 32.2L-79.6 36.0L-83.4 36.6 M-86.9 -13.8L-84.9 -15.0L-83.4 -13.2L-85.1 -11.8Z M-62.1 32.9L-57.1 35.4L-53.4 39.8L-49.6 42.2L-44.6 42.9L-39.6 44.1L-34.6 46.0L-29.6 48.5L-25.9 52.2L-23.4 57.2L-24.6 61.0L-28.4 59.8L-33.4 61.0L-29.6 64.8L-25.9 67.2L-30.9 69.8L-25.9 69.8L-20.9 68.5L-15.9 71.0L-14.6 74.8L-18.4 79.8L-22.1 84.8L-25.9 89.8L-29.6 94.8L-32.1 99.8L-34.6 107.2 M60.4 37.2L64.1 33.5L69.1 31.6L72.2 34.8L71.6 41.0L72.9 46.0L69.1 49.8L65.4 47.2L62.9 42.2Z M64.1 37.2L67.9 39.8L70.4 38.5 M63.5 41.6L67.9 44.1L71.6 43.5 M57.2 54.8L60.4 52.9L64.1 54.8L62.9 58.5L58.5 57.9Z M104.1 42.2L106.6 40.4L109.7 42.9L110.4 49.8L111.0 58.5L112.9 66.0L116.6 73.5L121.6 81.0L127.9 88.5L134.1 92.2L137.9 92.9L136.6 96.0L131.6 97.9L125.4 96.0L119.1 91.0L114.1 83.5L109.1 74.8L106.0 66.0L104.1 57.2L103.5 48.5Z M75.4 -7.8L79.1 -10.2L84.1 -14.0L89.1 -19.0L92.9 -24.0L97.9 -25.9L101.0 -21.5L101.6 -16.5L99.1 -12.8L95.4 -9.0L91.6 -6.5L89.1 -2.8L82.9 -2.1L77.9 -4.0Z M89.1 -19.0L95.4 -16.5L99.1 -12.8 M72.9 -101.5L76.6 -104.0L81.6 -102.8L86.6 -99.0L87.9 -94.0L84.1 -90.2L79.1 -89.0L76.6 -92.8L72.9 -95.2L71.6 -99.0Z M62.2 -110.2L65.4 -112.8L69.1 -109.0L67.9 -104.6L64.1 -106.5Z M82.9 -112.8L86.6 -114.0L89.1 -110.2L86.6 -106.5L83.5 -107.8Z M91.6 -116.5L95.4 -117.1L98.5 -114.6L95.4 -112.8L92.2 -113.4Z M106.6 -117.8L111.6 -112.8L116.6 -110.2L120.4 -107.8L124.1 -104.0L122.9 -99.0L116.6 -96.5L114.1 -91.5L115.4 -84.0L116.6 -79.0L121.6 -76.5L125.4 -71.5L126.6 -66.5L127.9 -61.5L130.4 -55.2L129.1 -49.0L134.1 -45.2L138.5 -41.5L135.4 -40.2L129.1 -44.0L124.1 -46.5L119.1 -50.2L114.1 -50.9L109.1 -46.5L106.6 -41.5L107.9 -35.2L105.4 -30.2L102.9 -26.5L106.6 -24.0L110.4 -26.5L112.9 -21.5L116.6 -16.5L119.1 -10.2L121.6 -4.0L125.4 2.2L129.1 6.0L132.9 8.5L136.6 7.2L139.1 13.5L140.4 21.0L145.4 23.5L149.1 22.2L152.9 19.8L154.1 23.5L151.6 28.5L149.1 33.5L145.4 37.2L141.6 39.8L146.6 41.0L151.6 38.5L156.6 36.0L154.1 42.2L149.1 44.8L141.6 46.0L135.4 47.2L137.9 51.0L144.1 52.2L150.4 51.0L156.6 48.5L164.1 49.8 M121.6 -52.8L124.1 -53.4L125.4 -50.9L122.9 -49.6Z M272.9 -97.8L279.1 -100.2L287.9 -100.9L295.4 -97.8L301.6 -92.8L307.9 -89.0L314.1 -84.0L316.6 -79.0L314.7 -76.5L310.4 -81.5L304.1 -86.5L297.9 -90.2L291.6 -94.0L284.1 -95.9L276.6 -95.9Z M154.1 44.8L159.1 46.0L165.4 48.5L171.6 49.8L174.1 45.4L175.4 49.8L181.6 51.0L186.6 56.0L190.4 62.2L191.6 66.0L187.9 67.2L185.4 61.0L180.4 56.0L174.1 53.5L167.9 52.2L161.6 51.0L156.6 50.4L154.1 49.8 M154.1 68.5L160.4 67.2L166.6 65.4L172.9 67.2L169.1 71.0L165.4 73.5L161.6 78.5L159.1 83.5L156.6 88.5L154.1 91.0 M-228.4 105.2L-230.9 111.5L-234.6 116.5L-238.4 122.8L-242.1 127.8L-244.6 131.5L-249.6 133.4L-252.1 137.8L-253.4 144.0L-255.9 147.8L-253.4 151.5L-255.9 156.5L-253.4 160.2L-257.1 161.5L-256.5 166.5L-255.9 171.5L-258.4 175.2L-262.1 179.0L-265.9 181.5L-270.9 179.0L-275.9 174.0L-283.4 171.5L-289.6 167.8L-295.9 164.0 M-283.4 182.1L-277.1 180.5L-270.9 181.8L-267.8 184.6 M-282.1 187.1L-275.9 184.6L-270.9 186.5 M-310.3 132.1L-307.1 135.2L-303.4 142.8L-299.6 151.5L-295.9 160.2L-294.4 165.5 M-134.6 105.2L-138.4 110.2L-143.4 111.5L-150.9 112.8L-158.4 117.8L-162.1 122.8L-164.6 129.0L-168.4 134.0L-172.1 139.0L-175.9 145.2L-179.6 152.8L-182.1 159.0L-183.4 166.5L-182.1 172.8L-179.0 176.5L-178.4 181.5L-174.6 184.6L-169.6 182.8L-164.6 180.2L-159.6 176.5L-154.6 172.8L-149.6 171.5L-144.6 167.8L-140.9 162.8L-138.4 160.2L-134.6 161.5L-130.9 163.4L-125.9 164.6L-119.6 165.2L-113.4 165.2L-107.1 163.4L-100.9 161.5L-94.6 160.9L-85.9 161.5 M-37.1 105.2L-39.6 111.5L-40.9 119.0L-43.4 122.8L-48.4 126.5L-52.1 131.5L-57.1 132.8L-54.6 136.5L-59.6 139.0L-64.6 141.5L-62.1 145.2L-65.9 149.0L-70.9 150.2L-74.6 150.2L-72.1 154.0L-67.1 156.5L-70.9 159.0L-77.1 160.9L-83.4 161.5L-89.6 161.5L-95.9 160.2 M-87.1 195.9L-83.4 192.8L-84.0 189.0L-79.6 185.9L-76.5 186.5L-77.1 191.5L-72.1 192.8L-69.0 191.5L-64.6 193.4L-59.6 194.0L-54.6 193.4L-50.9 196.5L-49.0 201.5L-49.6 206.5L-53.4 209.0L-58.4 210.2L-63.4 212.1L-68.4 212.8L-73.4 214.0L-77.1 212.1L-80.9 209.0L-84.6 206.5L-82.1 202.8L-83.4 199.0Z M-25.9 161.5L-23.4 159.0L-20.9 159.6L-22.8 162.5Z M124.1 38.0L129.1 41.8L134.1 48.0L136.6 53.0L140.4 58.0L145.4 61.8L149.1 65.5L154.1 68.0L159.1 69.2L165.4 66.8L171.6 65.5L167.9 70.5L161.6 75.5L155.4 80.5L149.1 84.2L144.1 85.5L143.5 88.0L149.1 88.0L155.4 86.8L159.1 90.5L157.9 94.2L154.1 96.8L155.4 101.8L151.6 105.5L146.6 108.0 M134.1 48.0L139.1 45.5L144.1 44.9L149.1 46.8L155.4 48.0 M16.6 87.5L18.6 85.1L22.4 83.6L25.3 82.2L26.8 79.3L28.2 76.4L31.1 75.4L35.0 74.9L38.4 74.9L39.8 77.4L39.6 81.2L37.9 84.1L35.0 85.6L32.1 85.1L30.2 86.5L31.6 88.5L34.0 89.9L36.9 91.8L39.8 93.8L42.7 95.7L44.2 96.7L41.7 98.6L38.8 100.0L38.4 96.7L35.5 93.8L33.5 93.3L33.1 96.2L33.5 101.0L34.0 105.8L33.8 110.2L31.1 108.7L28.2 106.3L25.8 103.4L24.4 100.0L24.9 98.1L22.4 97.6L19.5 94.7L17.1 91.3Z M26.8 79.3L29.2 81.2L31.1 83.6L32.1 85.1 M172.2 69.9L168.4 71.8L162.6 74.7L156.8 77.6L152.0 80.5L147.1 83.4L143.3 84.4L144.3 87.3L149.1 88.2L152.9 87.3L156.8 89.2L158.7 94.0L154.9 96.9L152.0 100.8L152.9 105.6L149.1 108.5L145.2 110.4L143.3 116.2L144.3 122.0L146.2 127.8L145.2 132.6L141.4 133.6L137.5 129.7L133.6 127.8L129.8 128.8L125.9 131.7L128.8 132.6L133.6 133.6L137.5 135.5L140.4 137.5L139.4 141.3L137.5 144.2L139.4 147.1L138.5 151.0L135.6 153.9L134.6 157.7L137.5 161.6L141.4 164.5L136.5 165.5L131.7 166.4L127.8 169.3L128.8 172.2L133.6 172.2L136.5 174.1L134.6 177.0L130.7 178.0L124.9 178.0L121.1 176.1L118.2 172.2L114.3 168.4L109.5 166.4L104.7 165.0L109.5 165.5L115.3 165.0L121.1 163.5L125.9 161.6L129.8 158.7L131.2 154.8L130.7 151.0L127.8 147.1L123.0 144.7L117.2 143.7L110.5 143.7L104.7 144.2L99.9 145.2L95.0 146.2L91.2 147.1L87.3 149.1L82.5 149.1L86.3 145.2L83.4 143.3L78.6 144.2L75.7 148.1L72.8 146.2L69.9 151.0L66.1 150.0L64.1 154.8L60.3 158.7L55.4 161.6L52.6 166.4L50.6 170.3L47.7 174.1L43.9 179.0L45.8 179.0L41.9 184.8L43.9 183.8L47.7 180.9 M132.2 116.2L134.6 113.8L137.5 114.3L138.5 117.2L136.5 119.6L133.6 119.1Z M48.7 179.9L47.7 185.7L46.8 192.4L45.8 199.2L43.9 206.0L41.9 211.8L39.0 217.5L37.1 222.4L34.2 222.4L33.2 226.2L29.4 228.2L27.5 232.0L24.6 234.9L21.7 237.8L20.2 240.7L21.7 244.6L21.7 249.4L23.1 254.2L25.5 257.1L25.0 260.0L27.0 261.9L26.5 265.8L28.4 267.7L32.3 269.2L36.1 268.7L40.0 266.3L42.9 262.9L45.8 259.1L47.7 256.2L49.7 258.1L51.6 261.9L54.5 266.8L57.4 271.6L60.3 275.5L63.2 278.4L64.1 281.3L65.1 284.1L68.0 284.6L70.9 284.1L71.9 280.3L74.8 277.4L77.7 276.4L78.6 272.6L78.1 266.8L78.6 261.0L79.6 255.2L80.5 251.3L82.5 248.9L81.5 245.5L81.5 241.7L79.6 238.8L76.7 236.8L73.8 234.0L71.9 230.1L70.9 225.3L71.9 220.4L73.8 215.6L75.7 210.8L77.7 206.0L78.6 201.1L77.7 198.2L78.6 194.4L78.6 191.5L81.5 189.6L85.4 188.1L89.2 189.1L91.2 192.4L90.2 197.3L88.3 202.1L86.8 207.9L85.4 213.7L85.4 218.5L87.3 222.4L89.2 226.2L90.2 230.1L93.1 232.5L97.9 233.5L102.7 232.5L106.6 230.1L110.5 226.7L114.3 223.8L118.2 221.9L123.0 220.9L125.9 221.4L123.0 225.3L122.1 229.1L118.2 231.1L114.3 232.5L111.4 234.0L108.5 236.8L105.6 239.7L104.7 243.6L107.6 246.5L111.4 245.5L113.8 249.4L114.3 254.2L111.4 256.6L107.6 255.7L104.7 254.2L102.7 256.2L101.8 260.0L102.3 263.9L103.7 267.7L104.7 272.6L103.7 276.4L101.8 279.3L100.8 283.2L97.9 284.6L95.0 282.2L92.1 283.2L89.2 285.1L86.3 287.0L83.4 289.9L80.5 292.8L76.7 294.8L72.8 295.2L69.9 293.8L68.0 291.9L66.1 294.8L63.2 296.7L60.3 299.1L57.4 300.1L55.4 296.7L52.6 295.7L49.7 292.8L48.7 289.0L50.6 285.1L52.6 282.2L51.6 279.3L50.6 275.5L51.1 271.6L48.7 270.6L45.8 272.6L42.9 275.5L41.0 279.3L40.5 284.1L41.9 288.0L43.9 291.9L45.8 295.7L46.8 300.6L44.8 305.4L41.0 307.3L37.1 308.3L33.2 310.2L29.4 312.1L26.5 314.1L24.6 317.0L23.6 320.8L21.7 324.7L17.8 328.5L13.9 331.4L10.1 334.3L8.2 338.2L7.7 344.0 M50.1 289.0L52.6 287.0L55.0 289.0L53.5 291.9L51.1 291.9Z M56.9 284.1L60.3 281.3L63.7 282.2L63.2 286.1L60.3 288.0L57.4 287.0Z M56.9 292.4L59.3 290.9L61.7 291.9L59.8 293.8Z M85.9 261.9L87.3 258.6L89.7 257.1L89.7 261.0L88.3 265.3L86.3 264.8Z M100.3 247.5L101.3 243.6L103.7 243.1L104.2 246.5L102.3 249.9Z M122.1 210.8L124.9 207.9L128.8 206.4L132.7 206.9L135.6 209.8L137.5 213.7L136.5 217.5L133.6 220.4L129.8 221.4L125.9 219.5L124.0 215.6Z M130.7 191.5L134.6 190.0L137.5 191.5L139.4 194.4L143.3 195.8L146.2 198.2L145.2 201.1L141.4 200.2L138.5 198.2L135.6 197.3L134.6 194.4Z M27.9 315.0L29.9 313.6L31.8 315.0L30.4 317.0Z M-29.3 337.7L-27.0 336.2L-24.6 335.4L-22.3 334.2L-19.9 334.6L-17.6 333.0L-14.4 332.6L-11.3 333.0L-8.2 332.3L-5.0 331.9L-1.9 332.3L1.2 331.9L4.4 330.7L6.7 329.1L7.5 326.8L6.0 324.4L3.6 322.1L2.0 318.9L1.2 315.0L0.5 311.1L-0.3 307.2L-1.9 304.0L-3.5 301.7L-5.8 299.3L-7.4 297.0L-9.0 293.8L-10.5 290.7L-12.9 288.3L-16.0 287.2L-13.7 285.2L-11.3 282.1L-9.7 278.9L-9.3 275.8L-12.1 275.0L-16.0 274.6L-19.9 274.2L-19.1 271.9L-16.8 270.3L-13.7 268.7L-14.4 266.4L-18.4 266.0L-22.3 266.8L-24.6 268.7L-26.2 271.9L-27.8 275.0L-27.0 277.4L-28.6 279.7L-27.4 282.1L-29.3 284.4L-27.0 286.0L-28.2 288.3L-26.2 289.9L-24.6 292.3L-25.4 294.6L-23.9 297.0L-21.5 297.0L-18.4 296.2L-16.8 298.5L-17.6 301.7L-15.2 303.2L-16.8 305.6L-17.6 308.7L-19.9 309.5L-23.1 309.1L-24.6 311.1L-23.5 313.4L-25.4 315.0L-23.9 317.4L-24.6 319.7L-27.0 320.5L-29.0 322.1L-27.8 324.4L-24.6 325.2L-21.5 326.0L-18.4 325.6L-16.0 324.8L-17.6 326.8L-19.9 327.5L-23.1 328.3L-24.6 330.7L-27.0 332.3L-29.3 333.8L-32.1 335.8 M-34.0 271.9L-32.5 268.7L-29.3 266.8L-28.6 268.3L-30.9 271.1L-33.3 273.0Z M-56.8 315.0L-54.4 312.6L-52.1 309.5L-50.5 306.4L-52.1 304.0L-50.5 301.7L-51.7 299.3L-49.0 297.7L-45.8 295.4L-43.5 293.0L-40.3 291.9L-37.2 292.3L-34.0 293.8L-31.7 296.2L-30.1 299.3L-30.5 303.2L-31.7 307.2L-32.5 311.1L-33.3 314.2L-34.8 316.6L-38.0 318.1L-41.9 318.9L-45.8 319.7L-49.7 320.5L-53.7 320.1L-56.0 318.1Z M-7.4 252.3L-5.8 250.7L-4.2 251.9L-4.6 254.6L-6.6 255.4Z M-16.0 262.4L-14.4 261.7L-13.0 263.1L-14.3 264.6L-15.8 264.2Z M-30.9 234.6L-27.8 233.4L-25.0 234.6L-27.0 237.0L-29.7 237.0Z"/>
<g transform="translate(0.0 -307.6)"><text class="lb" text-anchor="end" x="8.4" y="16.5">180</text><text class="dg" x="10.4" y="2.6">°</text><text class="lb" x="29.9" y="16.5">E</text></g>
<g transform="translate(-153.8 -266.4) rotate(-30)"><text class="lb" text-anchor="end" x="3.6" y="16.5">150</text><text class="dg" x="5.6" y="2.6">°</text><text class="lb" x="27.2" y="16.5">W</text></g>
<g transform="translate(-266.4 -153.8) rotate(-60)"><text class="lb" text-anchor="end" x="2.6" y="16.5">120</text><text class="dg" x="4.6" y="2.6">°</text><text class="lb" x="26.2" y="16.5">W</text></g>
<g transform="translate(-307.6 0.0) rotate(90)"><text class="lb" text-anchor="end" x="-2.1" y="16.5">90</text><text class="dg" x="-0.1" y="2.6">°</text><text class="lb" x="21.5" y="16.5">W</text></g>
<g transform="translate(-266.4 153.8) rotate(60)"><text class="lb" text-anchor="end" x="-2.4" y="16.5">60</text><text class="dg" x="-0.4" y="2.6">°</text><text class="lb" x="21.2" y="16.5">W</text></g>
<g transform="translate(-153.8 266.4) rotate(30)"><text class="lb" text-anchor="end" x="-2.4" y="16.5">30</text><text class="dg" x="-0.4" y="2.6">°</text><text class="lb" x="21.2" y="16.5">W</text></g>
<g transform="translate(0.0 307.6)"><text class="lb" text-anchor="end" x="13.6" y="16.5">0</text><text class="dg" x="15.6" y="2.6">°</text></g>
<g transform="translate(153.8 266.4) rotate(-30)"><text class="lb" text-anchor="end" x="1.9" y="16.5">30</text><text class="dg" x="3.9" y="2.6">°</text><text class="lb" x="23.4" y="16.5">E</text></g>
<g transform="translate(266.4 153.8) rotate(-60)"><text class="lb" text-anchor="end" x="2.1" y="16.5">60</text><text class="dg" x="4.1" y="2.6">°</text><text class="lb" x="23.6" y="16.5">E</text></g>
<g transform="translate(307.6 0.0) rotate(-90)"><text class="lb" text-anchor="end" x="1.5" y="16.5">90</text><text class="dg" x="3.5" y="2.6">°</text><text class="lb" x="23.0" y="16.5">E</text></g>
<g transform="translate(266.4 -153.8) rotate(60)"><text class="lb" text-anchor="end" x="8.4" y="16.5">120</text><text class="dg" x="10.4" y="2.6">°</text><text class="lb" x="29.9" y="16.5">E</text></g>
<g transform="translate(153.8 -266.4) rotate(30)"><text class="lb" text-anchor="end" x="8.4" y="16.5">150</text><text class="dg" x="10.4" y="2.6">°</text><text class="lb" x="29.9" y="16.5">E</text></g>
<g transform="translate(0.0 -255.4)"><text class="lb" text-anchor="end" x="-6.6" y="16.5">60</text><text class="dg" x="-4.6" y="3.6">°</text><text class="lb" x="14.9" y="16.5">N</text></g>
<g transform="translate(0.0 -128.8)"><text class="lb" text-anchor="end" x="-5.4" y="16.5">75</text><text class="dg" x="-3.4" y="3.6">°</text><text class="lb" x="16.1" y="16.5">N</text></g>
<path class="yl" d="M-78.8 -74.0C-74.5 -75.3 -69.2 -72.7 -64.4 -72.1C-59.6 -71.5 -54.7 -71.0 -49.9 -70.2C-45.1 -69.4 -40.2 -68.3 -35.4 -67.3C-30.6 -66.3 -25.4 -66.0 -20.9 -64.4C-16.4 -62.8 -11.9 -60.7 -8.4 -57.6C-4.9 -54.5 -2.1 -50.2 0.3 -46.0C2.7 -41.8 4.0 -36.8 6.1 -32.5C8.2 -28.2 12.3 -24.3 12.9 -20.0C13.6 -15.7 11.5 -10.5 10.0 -6.5C8.5 -2.5 5.8 0.2 4.2 4.1C2.6 8.0 2.9 13.3 0.3 16.7C-2.3 20.1 -7.3 21.8 -11.3 24.4C-15.3 27.0 -19.6 29.7 -23.8 32.1C-28.0 34.5 -32.1 36.6 -36.4 38.9C-40.8 41.2 -45.4 43.8 -49.9 45.7C-54.4 47.6 -58.6 49.1 -63.4 50.5C-68.2 51.9 -73.8 53.0 -78.8 54.3C-83.8 55.6 -88.5 57.2 -93.3 58.2C-98.1 59.2 -102.8 60.1 -107.8 60.1C-112.8 60.1 -118.1 58.8 -123.2 58.2C-128.4 57.6 -134.7 58.2 -138.7 56.3C-142.7 54.4 -145.4 50.6 -147.4 46.6C-149.4 42.6 -150.2 36.9 -150.7 32.1C-151.3 27.3 -151.3 22.7 -150.7 17.7C-150.2 12.7 -149.4 6.7 -147.4 2.2C-145.4 -2.3 -141.4 -5.2 -138.7 -9.4C-136.0 -13.6 -133.7 -18.6 -131.0 -22.9C-128.3 -27.2 -125.4 -31.9 -122.3 -35.4C-119.2 -38.9 -116.0 -41.0 -112.6 -44.1C-109.2 -47.2 -105.7 -50.4 -102.0 -53.8C-98.3 -57.2 -94.3 -61.0 -90.4 -64.4C-86.5 -67.8 -83.1 -72.7 -78.8 -74.0Z"/>
<path class="yl" d="M65.1 99.8C69.9 98.0 76.0 96.3 81.5 96.9C87.0 97.6 94.0 100.5 97.9 103.7C101.8 106.9 102.6 111.9 104.7 116.2C106.8 120.5 110.7 125.2 110.5 129.7C110.3 134.2 106.6 139.1 103.7 143.3C100.8 147.5 97.0 151.8 93.1 154.8C89.2 157.9 85.0 160.2 80.5 161.6C76.0 163.1 71.1 163.5 66.1 163.5C61.1 163.5 54.3 164.0 50.6 161.6C46.9 159.2 45.4 153.6 43.9 149.1C42.5 144.6 41.9 139.6 41.9 134.6C41.9 129.6 42.1 123.6 43.9 119.1C45.7 114.6 49.1 110.7 52.6 107.5C56.1 104.3 60.3 101.6 65.1 99.8Z"/>
<circle r="337.5" fill="none" stroke="#111" stroke-width="2.4"/>
</g>
<defs><linearGradient id="cb" x1="0" y1="0" x2="0" y2="1">
<stop offset="0.0" stop-color="#67001f"/>
<stop offset="0.1" stop-color="#b2182b"/>
<stop offset="0.2" stop-color="#d6604d"/>
<stop offset="0.3" stop-color="#f4a582"/>
<stop offset="0.4" stop-color="#fddbc7"/>
<stop offset="0.5" stop-color="#f7f7f7"/>
<stop offset="0.6" stop-color="#d1e5f0"/>
<stop offset="0.7" stop-color="#92c5de"/>
<stop offset="0.8" stop-color="#4393c3"/>
<stop offset="0.9" stop-color="#2166ac"/>
<stop offset="1.0" stop-color="#053061"/>
</linearGradient></defs>
<text class="tt" x="128.6" y="35.3" xml:space="preserve"><tspan fill="#0072bd">+</tspan><tspan fill="#000">|</tspan><tspan fill="#d95319">+</tspan><tspan fill="#000">  minus 1950-2019 mean</tspan></text>
<text class="tt" x="1142.1" y="33.2" xml:space="preserve"><tspan fill="#0072bd" font-weight="normal" font-size="40">−</tspan><tspan fill="#000">|</tspan><tspan fill="#d95319">-</tspan><tspan fill="#000"> minus 1950-2019 mean</tspan></text>
<text class="tt" x="135.2" y="1020.8" xml:space="preserve"><tspan fill="#0072bd">+</tspan><tspan fill="#000">|</tspan><tspan fill="#d95319">-</tspan><tspan fill="#000">  minus 1950-2019 mean</tspan></text>
<text class="tt" x="1138.4" y="1018.9" xml:space="preserve"><tspan fill="#0072bd">-</tspan><tspan fill="#000">|</tspan><tspan fill="#d95319">+</tspan><tspan fill="#000"> minus 1950-2019 mean</tspan></text>
<text class="pn" x="-1.4" y="66.6">a</text>
<text class="pn" x="990.0" y="66.6">b</text>
<text class="pn" x="-1.4" y="1052.3">c</text>
<text class="pn" x="990.6" y="1052.3">d</text>
<rect x="1924.3" y="49.1" width="62.3" height="790.7" fill="url(#cb)" stroke="#1a1a1a" stroke-width="1.4"/>
<line x1="1977.6" x2="1986.6" y1="128.9" y2="128.9" stroke="#1a1a1a" stroke-width="1.6"/>
<text class="tk" x="2000" y="143.1">30</text>
<line x1="1977.6" x2="1986.6" y1="234.1" y2="234.1" stroke="#1a1a1a" stroke-width="1.6"/>
<text class="tk" x="2000" y="248.3">20</text>
<line x1="1977.6" x2="1986.6" y1="339.3" y2="339.3" stroke="#1a1a1a" stroke-width="1.6"/>
<text class="tk" x="2000" y="353.5">10</text>
<line x1="1977.6" x2="1986.6" y1="444.5" y2="444.5" stroke="#1a1a1a" stroke-width="1.6"/>
<text class="tk" x="2000" y="458.7">0</text>
<line x1="1977.6" x2="1986.6" y1="549.7" y2="549.7" stroke="#1a1a1a" stroke-width="1.6"/>
<text class="tk" x="2000" y="563.9">-10</text>
<line x1="1977.6" x2="1986.6" y1="654.9" y2="654.9" stroke="#1a1a1a" stroke-width="1.6"/>
<text class="tk" x="2000" y="669.1">-20</text>
<line x1="1977.6" x2="1986.6" y1="760.1" y2="760.1" stroke="#1a1a1a" stroke-width="1.6"/>
<text class="tk" x="2000" y="774.3">-30</text>
<text class="cl" text-anchor="middle" transform="translate(2110 446.0) rotate(-90)">Δ 500 hPa geopotential height (m)</text>
<rect x="1924.3" y="1034.7" width="62.3" height="790.7" fill="url(#cb)" stroke="#1a1a1a" stroke-width="1.4"/>
<line x1="1977.6" x2="1986.6" y1="1114.5" y2="1114.5" stroke="#1a1a1a" stroke-width="1.6"/>
<text class="tk" x="2000" y="1128.7">30</text>
<line x1="1977.6" x2="1986.6" y1="1219.7" y2="1219.7" stroke="#1a1a1a" stroke-width="1.6"/>
<text class="tk" x="2000" y="1233.9">20</text>
<line x1="1977.6" x2="1986.6" y1="1324.9" y2="1324.9" stroke="#1a1a1a" stroke-width="1.6"/>
<text class="tk" x="2000" y="1339.1">10</text>
<line x1="1977.6" x2="1986.6" y1="1430.1" y2="1430.1" stroke="#1a1a1a" stroke-width="1.6"/>
<text class="tk" x="2000" y="1444.3">0</text>
<line x1="1977.6" x2="1986.6" y1="1535.3" y2="1535.3" stroke="#1a1a1a" stroke-width="1.6"/>
<text class="tk" x="2000" y="1549.5">-10</text>
<line x1="1977.6" x2="1986.6" y1="1640.5" y2="1640.5" stroke="#1a1a1a" stroke-width="1.6"/>
<text class="tk" x="2000" y="1654.7">-20</text>
<line x1="1977.6" x2="1986.6" y1="1745.7" y2="1745.7" stroke="#1a1a1a" stroke-width="1.6"/>
<text class="tk" x="2000" y="1759.9">-30</text>
<text class="cl" text-anchor="middle" transform="translate(2110 1431.6) rotate(-90)">Δ 500 hPa geopotential height (m)</text>
</svg>
</div>
</body></html>
